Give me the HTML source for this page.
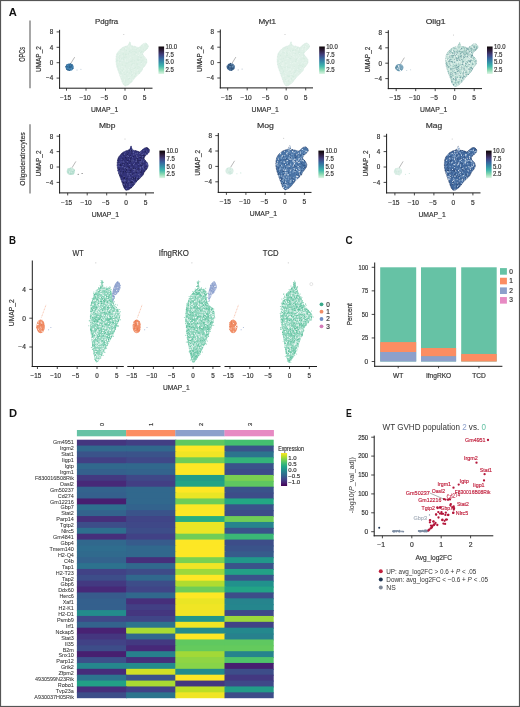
<!DOCTYPE html>
<html><head><meta charset="utf-8"><style>
html,body{margin:0;padding:0;background:#fff;}
svg{display:block;will-change:transform;}
</style></head><body>
<svg width="520" height="707" viewBox="0 0 520 707" font-family='"Liberation Sans", sans-serif'>
<rect x="0" y="0" width="520" height="707" fill="#fff"/>
<text x="8.8" y="16" font-size="10.8" text-anchor="start" fill="#111" font-weight="bold" textLength="8.1" lengthAdjust="spacingAndGlyphs">A</text>
<text x="9" y="243.6" font-size="10.8" text-anchor="start" fill="#111" font-weight="bold" textLength="7" lengthAdjust="spacingAndGlyphs">B</text>
<text x="345.4" y="243.6" font-size="10.8" text-anchor="start" fill="#111" font-weight="bold" textLength="7.1" lengthAdjust="spacingAndGlyphs">C</text>
<text x="9" y="416.6" font-size="10.8" text-anchor="start" fill="#111" font-weight="bold" textLength="8.1" lengthAdjust="spacingAndGlyphs">D</text>
<text x="346" y="416.6" font-size="10.8" text-anchor="start" fill="#111" font-weight="bold" textLength="5.8" lengthAdjust="spacingAndGlyphs">E</text>
<defs><linearGradient id="mako" x1="0" y1="0" x2="0" y2="1">
<stop offset="0" stop-color="#0b0405"/>
<stop offset="0.142857" stop-color="#2e1e3c"/>
<stop offset="0.285714" stop-color="#413d7b"/>
<stop offset="0.428571" stop-color="#37659e"/>
<stop offset="0.571429" stop-color="#348fa7"/>
<stop offset="0.714286" stop-color="#40b7ad"/>
<stop offset="0.857143" stop-color="#8ad9b1"/>
<stop offset="1" stop-color="#def5e5"/>
</linearGradient>
<linearGradient id="vir" x1="0" y1="1" x2="0" y2="0">
<stop offset="0" stop-color="#440154"/>
<stop offset="0.1" stop-color="#482475"/>
<stop offset="0.2" stop-color="#414487"/>
<stop offset="0.3" stop-color="#355f8d"/>
<stop offset="0.4" stop-color="#2a788e"/>
<stop offset="0.5" stop-color="#21918c"/>
<stop offset="0.6" stop-color="#22a884"/>
<stop offset="0.7" stop-color="#44bf70"/>
<stop offset="0.8" stop-color="#7ad151"/>
<stop offset="0.9" stop-color="#bddf26"/>
<stop offset="1" stop-color="#fde725"/>
</linearGradient></defs>
<line x1="30" y1="20.6" x2="30" y2="88.2" stroke="#8a8a8a" stroke-width="1.5"/>
<text x="24.7" y="54.3" font-size="9.2" text-anchor="middle" fill="#333" font-weight="normal" stroke="#333" stroke-width="0.18" transform="rotate(-90 24.7 54.3)" textLength="15" lengthAdjust="spacingAndGlyphs">OPCs</text>
<path d="M129.9,42.0C130.3,42.1 130.3,44.7 131.1,45.5C131.9,46.2 133.5,46.0 134.6,46.3C135.6,46.6 136.8,47.1 137.5,47.3C138.2,47.5 137.9,47.9 138.7,47.5C139.4,47.1 141.2,45.4 142.0,44.8C142.8,44.2 142.8,43.9 143.4,43.7C144.1,43.4 145.2,43.0 145.9,43.3C146.7,43.6 147.9,44.7 148.2,45.5C148.5,46.2 148.4,47.1 147.9,47.9C147.4,48.7 146.2,49.7 145.4,50.4C144.7,51.2 143.9,51.6 143.4,52.4C143.0,53.1 142.5,53.9 142.9,54.8C143.4,55.8 145.3,57.2 145.9,58.3C146.6,59.4 146.9,60.3 146.9,61.3C146.9,62.3 146.6,63.1 145.9,64.3C145.3,65.4 143.7,67.1 142.9,68.2C142.2,69.4 142.2,70.2 141.5,71.2C140.7,72.2 139.5,73.2 138.5,74.2C137.5,75.2 136.8,75.6 135.5,77.1C134.2,78.6 132.2,81.6 130.6,83.1C128.9,84.6 126.9,85.9 125.7,86.0C124.4,86.2 123.9,85.2 123.2,84.1C122.4,82.9 121.9,81.1 121.2,79.1C120.4,77.2 119.5,74.4 118.7,72.2C118.0,70.1 117.2,68.3 116.7,66.3C116.3,64.3 116.0,62.3 116.0,60.3C116.0,58.3 116.2,56.0 116.7,54.4C117.3,52.7 118.2,51.6 119.2,50.4C120.2,49.3 121.4,48.2 122.7,47.5C123.9,46.7 125.7,46.4 126.6,46.0C127.6,45.5 128.0,45.6 128.6,45.0C129.1,44.3 129.5,41.9 129.9,42.0Z" fill="#def0e6"/>
<path d="M129.9,42.0C130.3,42.1 130.3,44.7 131.1,45.5C131.9,46.2 133.5,46.0 134.6,46.3C135.6,46.6 136.8,47.1 137.5,47.3C138.2,47.5 137.9,47.9 138.7,47.5C139.4,47.1 141.2,45.4 142.0,44.8C142.8,44.2 142.8,43.9 143.4,43.7C144.1,43.4 145.2,43.0 145.9,43.3C146.7,43.6 147.9,44.7 148.2,45.5C148.5,46.2 148.4,47.1 147.9,47.9C147.4,48.7 146.2,49.7 145.4,50.4C144.7,51.2 143.9,51.6 143.4,52.4C143.0,53.1 142.5,53.9 142.9,54.8C143.4,55.8 145.3,57.2 145.9,58.3C146.6,59.4 146.9,60.3 146.9,61.3C146.9,62.3 146.6,63.1 145.9,64.3C145.3,65.4 143.7,67.1 142.9,68.2C142.2,69.4 142.2,70.2 141.5,71.2C140.7,72.2 139.5,73.2 138.5,74.2C137.5,75.2 136.8,75.6 135.5,77.1C134.2,78.6 132.2,81.6 130.6,83.1C128.9,84.6 126.9,85.9 125.7,86.0C124.4,86.2 123.9,85.2 123.2,84.1C122.4,82.9 121.9,81.1 121.2,79.1C120.4,77.2 119.5,74.4 118.7,72.2C118.0,70.1 117.2,68.3 116.7,66.3C116.3,64.3 116.0,62.3 116.0,60.3C116.0,58.3 116.2,56.0 116.7,54.4C117.3,52.7 118.2,51.6 119.2,50.4C120.2,49.3 121.4,48.2 122.7,47.5C123.9,46.7 125.7,46.4 126.6,46.0C127.6,45.5 128.0,45.6 128.6,45.0C129.1,44.3 129.5,41.9 129.9,42.0Z" fill="none" stroke="#d3e9de" stroke-width="0.8" stroke-dasharray="1 0.6"/>
<path d="M128.1,46.1L129.8,41.3L131.6,46.1Z" fill="#def0e6"/>
<path d="M120.7 62.0h0M129.9 77.2h0M118.5 62.1h0M137.2 70.5h0M126.8 55.6h0M127.9 60.0h0M121.1 70.6h0M121.8 68.5h0M140.9 66.9h0M128.5 69.5h0M125.6 61.1h0M121.3 75.2h0M119.6 50.5h0M121.1 77.2h0M127.0 62.0h0M119.0 52.0h0M125.5 59.7h0M123.0 70.4h0M143.2 66.4h0M118.3 62.1h0M130.1 79.7h0M137.0 47.5h0M143.7 45.8h0M145.2 60.3h0M120.5 75.4h0M139.7 58.7h0M123.3 82.3h0M132.3 66.1h0M116.9 65.1h0M134.6 52.2h0M118.8 57.1h0M118.6 55.9h0M126.1 48.7h0M130.3 75.3h0M129.7 58.8h0M124.5 79.7h0M131.2 51.4h0M133.2 58.0h0M123.9 64.0h0M133.1 49.8h0M131.3 72.4h0M132.4 79.9h0M133.2 75.0h0M124.9 75.9h0M131.8 70.8h0M133.0 56.9h0M121.7 66.8h0M137.9 61.8h0M142.4 68.4h0M141.6 63.5h0M128.9 46.9h0M119.7 67.1h0M129.1 45.2h0M130.5 57.2h0M144.8 57.3h0M120.7 62.7h0M128.9 71.0h0M132.6 73.8h0M129.7 67.5h0M133.7 67.0h0M134.3 74.0h0M134.4 74.6h0M134.5 71.9h0M125.4 68.9h0M130.7 80.6h0M125.0 72.3h0M121.9 60.3h0M134.8 69.2h0M145.7 58.6h0M139.0 65.3h0M142.0 62.1h0M133.0 72.3h0M127.6 73.6h0M130.5 47.0h0M127.9 50.3h0M122.7 72.2h0M144.6 63.7h0M137.3 63.2h0M116.6 58.6h0M136.5 54.4h0M121.9 72.2h0M128.5 77.5h0M131.7 70.3h0M131.7 70.4h0M128.7 46.2h0M122.6 60.1h0M118.3 58.9h0M123.7 56.5h0M133.4 64.7h0M137.3 74.6h0M124.3 74.9h0M135.2 48.3h0M119.6 54.5h0M122.2 56.4h0M121.9 51.1h0M138.4 55.4h0M144.8 49.3h0M143.2 44.4h0M130.1 62.9h0M131.1 48.1h0M122.4 55.5h0M133.1 49.3h0M145.1 43.6h0M130.0 54.2h0M139.7 53.9h0M130.8 48.3h0M120.6 58.8h0M124.1 66.9h0M139.8 61.0h0M139.7 52.4h0M124.2 70.2h0M118.9 69.2h0M137.9 69.8h0M142.2 55.6h0M127.2 83.2h0M127.9 51.7h0M124.6 68.7h0M137.9 49.5h0M123.8 71.6h0M127.2 61.5h0M142.1 53.3h0M137.9 74.0h0M125.6 48.4h0M139.8 48.8h0M124.5 81.7h0M125.3 60.1h0M124.5 80.1h0M131.0 68.4h0M122.6 66.1h0M123.1 51.4h0" stroke="#e8f5ee" stroke-width="1.1" stroke-linecap="round" fill="none"/>
<path d="M146.9 48.2h0M129.0 62.3h0M135.6 73.6h0M138.2 56.9h0M132.5 63.7h0M120.7 71.8h0M132.9 51.5h0M139.2 51.2h0M137.8 48.7h0M146.1 43.7h0M124.1 72.3h0M117.1 60.8h0M129.4 78.4h0M128.5 53.9h0M127.3 71.7h0M145.1 45.7h0M139.7 73.0h0M121.6 58.8h0M135.3 67.4h0M134.6 51.8h0M141.9 60.9h0M131.5 72.3h0M136.8 63.3h0M125.0 74.5h0M131.1 81.0h0M127.2 63.0h0M119.6 58.2h0M119.8 55.2h0M125.8 80.2h0M122.6 64.9h0M117.3 65.9h0M130.0 51.0h0M123.0 54.9h0M117.6 60.3h0M141.5 57.6h0M141.0 62.2h0M126.9 76.1h0M118.6 69.1h0M142.9 51.6h0M129.1 44.0h0M142.5 54.1h0M131.9 69.7h0M131.2 51.0h0M140.6 52.6h0M142.9 60.0h0M132.9 59.1h0M134.5 76.3h0M116.6 60.8h0M123.2 58.8h0M132.7 49.2h0M127.8 84.2h0M125.3 65.9h0M137.6 60.1h0M120.4 73.0h0M140.0 67.3h0M126.1 56.1h0M124.5 48.9h0M136.4 52.3h0M136.0 52.1h0M125.1 81.9h0M116.9 58.8h0M134.0 63.2h0M126.5 54.2h0M121.0 49.5h0M130.6 70.1h0M131.9 61.5h0M118.9 57.3h0M138.7 60.4h0M131.4 71.4h0M138.9 59.2h0M137.8 68.2h0M123.1 57.0h0M143.8 66.2h0M141.3 62.4h0M131.6 75.2h0M126.6 50.4h0M124.3 57.5h0M134.3 54.2h0M135.2 74.5h0M134.0 72.8h0M142.5 68.7h0M125.4 54.8h0M124.0 56.2h0M136.0 73.3h0M132.6 74.8h0M137.7 63.9h0M136.2 49.5h0M130.6 61.8h0M143.4 49.3h0M120.1 61.6h0M130.3 68.1h0M123.1 53.8h0M133.9 49.8h0M138.8 71.4h0M132.9 57.6h0M123.6 59.3h0M140.0 50.1h0M131.1 52.6h0M141.4 51.4h0M135.1 52.0h0M119.1 56.3h0M123.4 69.0h0M137.2 59.0h0M122.6 70.7h0M131.5 64.9h0M127.0 72.7h0M140.8 47.9h0M125.4 54.0h0M117.0 54.5h0M128.2 79.0h0M145.2 49.9h0M134.2 68.4h0M126.2 63.1h0M124.5 74.7h0M146.3 44.2h0M134.1 63.2h0M129.8 72.9h0M134.6 60.7h0M138.1 66.8h0M136.8 64.7h0M123.5 53.7h0M141.5 51.9h0M132.0 60.9h0M140.6 57.6h0M122.0 70.5h0M140.2 60.0h0M121.4 73.0h0M126.0 57.3h0M129.3 51.6h0M119.5 61.2h0" stroke="#d4ebdf" stroke-width="1.1" stroke-linecap="round" fill="none"/>
<path d="M73.7,67.1C73.7,66.7 73.6,66.2 73.4,65.7C73.2,65.3 72.9,64.9 72.5,64.5C72.1,64.2 71.7,63.9 71.2,63.7C70.7,63.6 70.1,63.5 69.6,63.5C69.1,63.5 68.5,63.6 68.1,63.7C67.6,63.9 67.1,64.2 66.7,64.5C66.4,64.9 66.0,65.3 65.8,65.7C65.6,66.2 65.5,66.7 65.5,67.1C65.5,67.6 65.6,68.1 65.8,68.5C66.0,69.0 66.4,69.4 66.7,69.7C67.1,70.0 67.6,70.3 68.1,70.5C68.5,70.7 69.1,70.8 69.6,70.8C70.1,70.8 70.7,70.7 71.2,70.5C71.7,70.3 72.1,70.0 72.5,69.7C72.9,69.4 73.2,69.0 73.4,68.5C73.6,68.1 73.7,67.6 73.7,67.1Z" fill="#3a78a8"/>
<path d="M71.3 64.5h0M71.4 66.7h0M68.0 68.6h0M71.6 69.8h0M69.6 69.8h0M70.0 68.2h0M70.7 63.8h0M67.1 65.8h0M70.1 66.1h0M71.7 68.2h0M67.8 65.3h0M71.9 68.2h0M72.0 69.7h0M72.0 66.7h0" stroke="#5a96bf" stroke-width="1" stroke-linecap="round" fill="none"/>
<path d="M73.0 68.5h0M69.3 64.9h0M70.8 66.9h0M71.1 67.0h0M69.5 70.4h0M72.0 64.5h0M67.9 69.9h0M71.4 66.0h0M66.7 65.0h0M65.7 66.7h0M68.1 70.1h0M69.7 66.8h0M70.6 63.8h0M67.1 66.5h0M69.3 67.3h0M66.6 69.3h0" stroke="#24547e" stroke-width="1" stroke-linecap="round" fill="none"/>
<line x1="70.79" y1="63.47" x2="74.69" y2="57.1175" stroke="#9a9a9a" stroke-width="0.7"/>
<circle cx="123.8" cy="34.6" r="0.5" fill="#bbb"/>
<circle cx="77.0" cy="70.0" r="0.55" fill="#24547e" fill-opacity="0.35"/>
<circle cx="80.9" cy="69.2" r="0.55" fill="#24547e" fill-opacity="0.35"/>
<line x1="59.6" y1="29.8" x2="59.6" y2="88.7" stroke="#1a1a1a" stroke-width="1"/>
<line x1="59.1" y1="88.2" x2="152.5" y2="88.2" stroke="#1a1a1a" stroke-width="1"/>
<line x1="66.5" y1="88.2" x2="66.5" y2="90.7" stroke="#1a1a1a" stroke-width="0.8"/>
<text x="65.5" y="100" font-size="6.6" text-anchor="middle" fill="#333" font-weight="normal" stroke="#333" stroke-width="0.18">−15</text>
<line x1="86" y1="88.2" x2="86" y2="90.7" stroke="#1a1a1a" stroke-width="0.8"/>
<text x="85" y="100" font-size="6.6" text-anchor="middle" fill="#333" font-weight="normal" stroke="#333" stroke-width="0.18">−10</text>
<line x1="105.5" y1="88.2" x2="105.5" y2="90.7" stroke="#1a1a1a" stroke-width="0.8"/>
<text x="104.5" y="100" font-size="6.6" text-anchor="middle" fill="#333" font-weight="normal" stroke="#333" stroke-width="0.18">−5</text>
<line x1="125" y1="88.2" x2="125" y2="90.7" stroke="#1a1a1a" stroke-width="0.8"/>
<text x="125" y="100" font-size="6.6" text-anchor="middle" fill="#333" font-weight="normal" stroke="#333" stroke-width="0.18">0</text>
<line x1="144.5" y1="88.2" x2="144.5" y2="90.7" stroke="#1a1a1a" stroke-width="0.8"/>
<text x="144.5" y="100" font-size="6.6" text-anchor="middle" fill="#333" font-weight="normal" stroke="#333" stroke-width="0.18">5</text>
<line x1="56.6" y1="31.9" x2="59.6" y2="31.9" stroke="#1a1a1a" stroke-width="0.8"/>
<text x="53.3" y="34.2" font-size="6.3" text-anchor="end" fill="#333" font-weight="normal" stroke="#333" stroke-width="0.18">8</text>
<line x1="56.6" y1="47.3" x2="59.6" y2="47.3" stroke="#1a1a1a" stroke-width="0.8"/>
<text x="53.3" y="49.6" font-size="6.3" text-anchor="end" fill="#333" font-weight="normal" stroke="#333" stroke-width="0.18">4</text>
<line x1="56.6" y1="62.7" x2="59.6" y2="62.7" stroke="#1a1a1a" stroke-width="0.8"/>
<text x="53.3" y="65" font-size="6.3" text-anchor="end" fill="#333" font-weight="normal" stroke="#333" stroke-width="0.18">0</text>
<line x1="56.6" y1="78.1" x2="59.6" y2="78.1" stroke="#1a1a1a" stroke-width="0.8"/>
<text x="53.3" y="80.4" font-size="6.3" text-anchor="end" fill="#333" font-weight="normal" stroke="#333" stroke-width="0.18">−4</text>
<text x="106.55" y="24.1" font-size="8" text-anchor="middle" fill="#333" font-weight="normal" stroke="#333" stroke-width="0.18" textLength="23.2" lengthAdjust="spacingAndGlyphs">Pdgfra</text>
<text x="104.55" y="112" font-size="7.8" text-anchor="middle" fill="#333" font-weight="normal" stroke="#333" stroke-width="0.18" textLength="27.3" lengthAdjust="spacingAndGlyphs">UMAP_1</text>
<text x="41.1" y="59.1" font-size="7.8" text-anchor="middle" fill="#333" font-weight="normal" stroke="#333" stroke-width="0.18" transform="rotate(-90 41.1 59.1)" textLength="26" lengthAdjust="spacingAndGlyphs">UMAP_2</text>
<rect x="158.5" y="46.5" width="5.6" height="27.5" fill="url(#mako)"/>
<text x="165.5" y="48.7" font-size="6.3" text-anchor="start" fill="#333" font-weight="normal" stroke="#333" stroke-width="0.18" textLength="11.6" lengthAdjust="spacingAndGlyphs">10.0</text>
<text x="165.5" y="56.55" font-size="6.3" text-anchor="start" fill="#333" font-weight="normal" stroke="#333" stroke-width="0.18" textLength="8.4" lengthAdjust="spacingAndGlyphs">7.5</text>
<text x="165.5" y="64.4" font-size="6.3" text-anchor="start" fill="#333" font-weight="normal" stroke="#333" stroke-width="0.18" textLength="8.4" lengthAdjust="spacingAndGlyphs">5.0</text>
<text x="165.5" y="72.25" font-size="6.3" text-anchor="start" fill="#333" font-weight="normal" stroke="#333" stroke-width="0.18" textLength="8.4" lengthAdjust="spacingAndGlyphs">2.5</text>
<path d="M291.1,41.9C291.5,42.0 291.5,44.6 292.3,45.4C293.1,46.1 294.7,45.9 295.8,46.2C296.8,46.5 298.0,47.0 298.7,47.2C299.4,47.4 299.1,47.8 299.8,47.4C300.6,47.0 302.4,45.3 303.2,44.7C304.0,44.1 304.0,43.8 304.6,43.6C305.3,43.3 306.3,42.9 307.1,43.2C307.9,43.5 309.1,44.6 309.4,45.4C309.7,46.1 309.6,47.0 309.1,47.8C308.6,48.6 307.4,49.6 306.6,50.3C305.9,51.1 305.1,51.5 304.6,52.3C304.2,53.0 303.7,53.8 304.1,54.7C304.6,55.7 306.5,57.1 307.1,58.2C307.8,59.3 308.1,60.2 308.1,61.2C308.1,62.2 307.8,63.0 307.1,64.2C306.5,65.3 304.9,67.0 304.1,68.1C303.4,69.3 303.4,70.1 302.7,71.1C301.9,72.1 300.7,73.1 299.7,74.1C298.7,75.1 298.0,75.5 296.7,77.0C295.4,78.5 293.4,81.5 291.8,83.0C290.1,84.5 288.1,85.8 286.9,85.9C285.6,86.1 285.1,85.1 284.4,84.0C283.6,82.8 283.1,81.0 282.4,79.0C281.6,77.1 280.7,74.3 279.9,72.1C279.2,70.0 278.4,68.2 277.9,66.2C277.5,64.2 277.2,62.2 277.2,60.2C277.2,58.2 277.4,55.9 277.9,54.3C278.5,52.6 279.4,51.5 280.4,50.3C281.4,49.2 282.6,48.1 283.9,47.4C285.1,46.6 286.8,46.3 287.8,45.9C288.8,45.4 289.2,45.5 289.8,44.9C290.3,44.2 290.7,41.8 291.1,41.9Z" fill="#dff0e7"/>
<path d="M291.1,41.9C291.5,42.0 291.5,44.6 292.3,45.4C293.1,46.1 294.7,45.9 295.8,46.2C296.8,46.5 298.0,47.0 298.7,47.2C299.4,47.4 299.1,47.8 299.8,47.4C300.6,47.0 302.4,45.3 303.2,44.7C304.0,44.1 304.0,43.8 304.6,43.6C305.3,43.3 306.3,42.9 307.1,43.2C307.9,43.5 309.1,44.6 309.4,45.4C309.7,46.1 309.6,47.0 309.1,47.8C308.6,48.6 307.4,49.6 306.6,50.3C305.9,51.1 305.1,51.5 304.6,52.3C304.2,53.0 303.7,53.8 304.1,54.7C304.6,55.7 306.5,57.1 307.1,58.2C307.8,59.3 308.1,60.2 308.1,61.2C308.1,62.2 307.8,63.0 307.1,64.2C306.5,65.3 304.9,67.0 304.1,68.1C303.4,69.3 303.4,70.1 302.7,71.1C301.9,72.1 300.7,73.1 299.7,74.1C298.7,75.1 298.0,75.5 296.7,77.0C295.4,78.5 293.4,81.5 291.8,83.0C290.1,84.5 288.1,85.8 286.9,85.9C285.6,86.1 285.1,85.1 284.4,84.0C283.6,82.8 283.1,81.0 282.4,79.0C281.6,77.1 280.7,74.3 279.9,72.1C279.2,70.0 278.4,68.2 277.9,66.2C277.5,64.2 277.2,62.2 277.2,60.2C277.2,58.2 277.4,55.9 277.9,54.3C278.5,52.6 279.4,51.5 280.4,50.3C281.4,49.2 282.6,48.1 283.9,47.4C285.1,46.6 286.8,46.3 287.8,45.9C288.8,45.4 289.2,45.5 289.8,44.9C290.3,44.2 290.7,41.8 291.1,41.9Z" fill="none" stroke="#d4e9df" stroke-width="0.8" stroke-dasharray="1 0.6"/>
<path d="M289.3,46.0L291.0,41.2L292.8,46.0Z" fill="#dff0e7"/>
<path d="M295.9 50.5h0M292.8 76.4h0M282.3 61.5h0M299.1 71.2h0M289.9 58.6h0M289.1 57.7h0M295.5 49.2h0M307.9 44.8h0M294.4 72.8h0M304.2 47.1h0M294.8 72.2h0M292.1 50.4h0M294.1 77.1h0M303.1 52.4h0M292.4 50.5h0M287.9 83.2h0M288.3 57.9h0M283.7 71.5h0M281.3 65.9h0M286.8 55.1h0M284.9 61.1h0M285.1 67.4h0M281.9 73.3h0M286.7 52.2h0M298.3 58.6h0M299.6 52.5h0M290.3 68.2h0M291.3 82.7h0M287.2 53.5h0M281.3 68.0h0M304.6 58.8h0M283.2 72.2h0M299.2 54.4h0M293.0 62.0h0M297.3 47.9h0M285.0 47.9h0M301.1 59.0h0M280.3 65.7h0M285.9 57.1h0M300.2 65.2h0M283.1 50.1h0M288.7 80.9h0M287.5 75.9h0M288.5 80.9h0M287.4 67.1h0M289.9 76.2h0M296.4 59.8h0M302.6 66.4h0M293.4 76.9h0M299.7 52.1h0M303.0 58.0h0M308.4 44.5h0M298.7 68.1h0M295.5 74.8h0M291.2 44.6h0M287.1 55.4h0M292.0 75.3h0M303.7 58.7h0M280.6 55.4h0M283.3 58.6h0M297.8 74.6h0M290.2 71.4h0M290.8 58.6h0M301.8 64.5h0M299.0 53.1h0M300.0 49.9h0M296.9 70.1h0M304.5 61.6h0M301.9 52.6h0M282.9 68.6h0M300.3 69.2h0M287.5 48.4h0M291.5 56.3h0M280.8 62.1h0M290.5 51.0h0M283.0 52.1h0M301.5 65.0h0M282.9 70.4h0M298.6 65.6h0M288.8 75.8h0M279.3 63.5h0M295.8 59.9h0M278.0 60.9h0M295.2 70.6h0M301.2 62.8h0M285.4 79.5h0M291.7 73.2h0M303.7 64.7h0M299.2 48.6h0M289.0 67.5h0M293.1 63.2h0M284.3 52.6h0M299.8 65.7h0M292.6 80.6h0M285.9 63.3h0M293.3 50.6h0M301.3 61.5h0M293.8 76.9h0M284.2 73.7h0M294.3 66.8h0M291.7 78.6h0M295.6 61.6h0M287.6 61.5h0M280.6 66.1h0M293.7 50.0h0M296.8 59.0h0M299.0 53.2h0M291.7 82.2h0M299.4 64.3h0M291.3 79.8h0M289.4 76.2h0M288.5 76.5h0M298.5 52.0h0M281.0 59.1h0M304.0 55.3h0M278.9 54.3h0M303.5 56.8h0M284.2 77.7h0M293.2 76.2h0M293.9 74.1h0M295.7 71.1h0M295.3 53.5h0" stroke="#d4ebdf" stroke-width="1.1" stroke-linecap="round" fill="none"/>
<path d="M292.2 71.1h0M308.5 45.0h0M283.3 76.5h0M297.7 59.7h0M279.2 62.5h0M290.6 80.3h0M294.4 57.1h0M295.4 48.6h0M291.1 54.1h0M305.2 49.9h0M302.7 48.1h0M287.2 58.4h0M285.2 50.9h0M285.0 54.2h0M304.8 62.1h0M290.1 44.3h0M293.8 51.4h0M293.7 69.5h0M301.0 61.2h0M285.8 73.2h0M302.1 62.4h0M303.1 69.9h0M299.5 53.6h0M302.9 56.8h0M288.7 70.3h0M298.2 49.5h0M291.6 43.6h0M305.5 46.5h0M287.9 82.9h0M295.8 63.1h0M291.6 67.0h0M286.4 65.3h0M306.1 62.6h0M283.3 76.1h0M291.8 55.2h0M298.5 58.2h0M285.8 84.6h0M298.6 55.0h0M290.7 79.7h0M306.6 44.3h0M294.2 67.5h0M295.0 74.1h0M283.2 62.9h0M290.8 76.8h0M285.8 83.1h0M290.4 70.0h0M290.8 76.7h0M280.6 61.1h0M285.2 61.5h0M297.0 72.1h0M302.4 49.5h0M282.7 63.7h0M287.1 61.3h0M290.7 61.2h0M299.6 57.2h0M289.3 51.7h0M282.8 65.5h0M293.8 54.4h0M305.7 48.2h0M298.8 64.7h0M289.1 78.2h0M284.3 72.8h0M286.4 67.4h0M292.9 46.7h0M286.3 80.2h0M299.8 57.3h0M298.5 73.7h0M305.6 50.9h0M292.8 74.0h0M282.0 70.6h0M283.1 50.7h0M300.5 68.5h0M281.3 50.9h0M292.7 47.3h0M296.5 77.1h0M297.6 69.5h0M306.0 47.6h0M293.2 70.2h0M302.2 56.4h0M295.8 73.8h0M290.9 74.5h0M294.8 77.8h0M288.6 53.0h0M285.3 75.7h0M289.0 51.5h0M285.2 82.6h0M292.1 74.1h0M307.5 44.8h0M307.2 60.0h0M290.4 63.4h0M305.1 64.3h0M296.3 47.3h0M287.0 64.8h0M294.7 62.8h0M289.2 69.1h0M284.4 51.7h0M291.3 82.4h0M281.6 65.4h0M293.1 78.4h0M304.2 63.0h0M283.8 68.8h0M290.7 52.2h0M290.4 68.9h0M297.5 61.6h0M296.8 56.9h0M302.9 68.1h0M293.3 62.9h0M298.4 48.9h0M293.3 56.3h0M280.3 57.8h0M291.1 72.1h0M303.7 46.5h0M303.1 60.2h0M301.0 49.8h0M285.1 54.6h0M302.2 52.0h0M285.6 52.8h0M277.6 58.8h0M297.4 74.9h0M302.6 48.2h0M294.5 51.8h0M287.7 79.7h0M287.1 71.8h0M286.7 68.9h0M292.1 80.9h0M288.4 58.2h0M283.1 65.0h0M298.9 59.1h0M291.4 50.8h0M299.4 53.2h0M281.1 52.4h0M290.2 80.3h0M281.0 72.6h0M301.4 63.9h0M292.6 63.5h0M291.1 46.8h0M279.6 60.9h0M280.0 53.8h0" stroke="#e9f6ef" stroke-width="1.1" stroke-linecap="round" fill="none"/>
<path d="M234.9,67.0C234.9,66.6 234.8,66.1 234.6,65.6C234.4,65.2 234.1,64.8 233.7,64.4C233.3,64.1 232.9,63.8 232.4,63.6C231.9,63.5 231.3,63.4 230.8,63.4C230.3,63.4 229.7,63.5 229.3,63.6C228.8,63.8 228.3,64.1 227.9,64.4C227.6,64.8 227.2,65.2 227.0,65.6C226.8,66.1 226.7,66.6 226.7,67.0C226.7,67.5 226.8,68.0 227.0,68.4C227.2,68.9 227.6,69.3 227.9,69.6C228.3,69.9 228.8,70.2 229.3,70.4C229.7,70.6 230.3,70.7 230.8,70.7C231.3,70.7 231.9,70.6 232.4,70.4C232.9,70.2 233.3,69.9 233.7,69.6C234.1,69.3 234.4,68.9 234.6,68.4C234.8,68.0 234.9,67.5 234.9,67.0Z" fill="#3f6690"/>
<path d="M227.3 65.8h0M232.9 68.2h0M232.3 65.5h0M228.9 64.8h0M230.9 70.0h0M230.7 63.4h0M227.2 66.7h0M230.3 63.5h0M228.4 67.1h0M230.2 70.3h0M231.6 68.1h0" stroke="#26456a" stroke-width="1" stroke-linecap="round" fill="none"/>
<path d="M233.1 65.8h0M230.4 69.7h0M231.3 70.3h0M233.0 68.6h0M231.1 68.9h0M228.3 66.4h0M230.9 65.2h0M229.5 64.8h0M230.3 65.5h0M232.8 69.0h0M228.2 67.7h0" stroke="#2d5078" stroke-width="1" stroke-linecap="round" fill="none"/>
<path d="M232.4 66.8h0M230.6 70.1h0M233.0 65.7h0M231.9 64.2h0M233.9 66.0h0M227.6 65.8h0M234.3 68.0h0M230.0 66.7h0" stroke="#8fb0cc" stroke-width="1" stroke-linecap="round" fill="none"/>
<line x1="231.99" y1="63.37" x2="235.89" y2="57.0175" stroke="#9a9a9a" stroke-width="0.7"/>
<circle cx="285.0" cy="34.5" r="0.5" fill="#bbb"/>
<circle cx="238.2" cy="69.9" r="0.55" fill="#26456a" fill-opacity="0.35"/>
<circle cx="242.1" cy="69.1" r="0.55" fill="#26456a" fill-opacity="0.35"/>
<line x1="220.3" y1="29.5" x2="220.3" y2="88.4" stroke="#1a1a1a" stroke-width="1"/>
<line x1="219.8" y1="87.9" x2="313" y2="87.9" stroke="#1a1a1a" stroke-width="1"/>
<line x1="227.7" y1="87.9" x2="227.7" y2="90.4" stroke="#1a1a1a" stroke-width="0.8"/>
<text x="226.7" y="99.7" font-size="6.6" text-anchor="middle" fill="#333" font-weight="normal" stroke="#333" stroke-width="0.18">−15</text>
<line x1="247.2" y1="87.9" x2="247.2" y2="90.4" stroke="#1a1a1a" stroke-width="0.8"/>
<text x="246.2" y="99.7" font-size="6.6" text-anchor="middle" fill="#333" font-weight="normal" stroke="#333" stroke-width="0.18">−10</text>
<line x1="266.7" y1="87.9" x2="266.7" y2="90.4" stroke="#1a1a1a" stroke-width="0.8"/>
<text x="265.7" y="99.7" font-size="6.6" text-anchor="middle" fill="#333" font-weight="normal" stroke="#333" stroke-width="0.18">−5</text>
<line x1="286.2" y1="87.9" x2="286.2" y2="90.4" stroke="#1a1a1a" stroke-width="0.8"/>
<text x="286.2" y="99.7" font-size="6.6" text-anchor="middle" fill="#333" font-weight="normal" stroke="#333" stroke-width="0.18">0</text>
<line x1="305.7" y1="87.9" x2="305.7" y2="90.4" stroke="#1a1a1a" stroke-width="0.8"/>
<text x="305.7" y="99.7" font-size="6.6" text-anchor="middle" fill="#333" font-weight="normal" stroke="#333" stroke-width="0.18">5</text>
<line x1="217.3" y1="31.8" x2="220.3" y2="31.8" stroke="#1a1a1a" stroke-width="0.8"/>
<text x="214" y="34.1" font-size="6.3" text-anchor="end" fill="#333" font-weight="normal" stroke="#333" stroke-width="0.18">8</text>
<line x1="217.3" y1="47.2" x2="220.3" y2="47.2" stroke="#1a1a1a" stroke-width="0.8"/>
<text x="214" y="49.5" font-size="6.3" text-anchor="end" fill="#333" font-weight="normal" stroke="#333" stroke-width="0.18">4</text>
<line x1="217.3" y1="62.6" x2="220.3" y2="62.6" stroke="#1a1a1a" stroke-width="0.8"/>
<text x="214" y="64.9" font-size="6.3" text-anchor="end" fill="#333" font-weight="normal" stroke="#333" stroke-width="0.18">0</text>
<line x1="217.3" y1="78" x2="220.3" y2="78" stroke="#1a1a1a" stroke-width="0.8"/>
<text x="214" y="80.3" font-size="6.3" text-anchor="end" fill="#333" font-weight="normal" stroke="#333" stroke-width="0.18">−4</text>
<text x="267.15" y="24.1" font-size="8" text-anchor="middle" fill="#333" font-weight="normal" stroke="#333" stroke-width="0.18" textLength="17.5" lengthAdjust="spacingAndGlyphs">Myt1</text>
<text x="265.15" y="111.7" font-size="7.8" text-anchor="middle" fill="#333" font-weight="normal" stroke="#333" stroke-width="0.18" textLength="27.3" lengthAdjust="spacingAndGlyphs">UMAP_1</text>
<text x="201.8" y="59" font-size="7.8" text-anchor="middle" fill="#333" font-weight="normal" stroke="#333" stroke-width="0.18" transform="rotate(-90 201.8 59)" textLength="26" lengthAdjust="spacingAndGlyphs">UMAP_2</text>
<rect x="319.2" y="46.5" width="5.6" height="27.5" fill="url(#mako)"/>
<text x="326.2" y="48.7" font-size="6.3" text-anchor="start" fill="#333" font-weight="normal" stroke="#333" stroke-width="0.18" textLength="11.6" lengthAdjust="spacingAndGlyphs">10.0</text>
<text x="326.2" y="56.55" font-size="6.3" text-anchor="start" fill="#333" font-weight="normal" stroke="#333" stroke-width="0.18" textLength="8.4" lengthAdjust="spacingAndGlyphs">7.5</text>
<text x="326.2" y="64.4" font-size="6.3" text-anchor="start" fill="#333" font-weight="normal" stroke="#333" stroke-width="0.18" textLength="8.4" lengthAdjust="spacingAndGlyphs">5.0</text>
<text x="326.2" y="72.25" font-size="6.3" text-anchor="start" fill="#333" font-weight="normal" stroke="#333" stroke-width="0.18" textLength="8.4" lengthAdjust="spacingAndGlyphs">2.5</text>
<path d="M459.6,42.5C460.0,42.6 460.0,45.2 460.8,46.0C461.6,46.7 463.2,46.5 464.3,46.8C465.3,47.1 466.5,47.6 467.2,47.8C467.9,48.0 467.6,48.4 468.3,48.0C469.1,47.6 470.9,45.9 471.7,45.3C472.5,44.7 472.5,44.4 473.1,44.2C473.8,43.9 474.8,43.5 475.6,43.8C476.4,44.1 477.6,45.2 477.9,46.0C478.2,46.7 478.1,47.6 477.6,48.4C477.1,49.2 475.9,50.2 475.1,50.9C474.4,51.7 473.6,52.1 473.1,52.9C472.7,53.6 472.2,54.4 472.6,55.3C473.1,56.3 475.0,57.7 475.6,58.8C476.3,59.9 476.6,60.8 476.6,61.8C476.6,62.8 476.3,63.6 475.6,64.8C475.0,65.9 473.4,67.6 472.6,68.7C471.9,69.9 471.9,70.7 471.2,71.7C470.4,72.7 469.2,73.7 468.2,74.7C467.2,75.7 466.5,76.1 465.2,77.6C463.9,79.1 461.9,82.1 460.3,83.6C458.6,85.1 456.6,86.4 455.4,86.5C454.1,86.7 453.6,85.7 452.9,84.6C452.1,83.4 451.6,81.6 450.9,79.6C450.1,77.7 449.2,74.9 448.4,72.7C447.7,70.6 446.9,68.8 446.4,66.8C446.0,64.8 445.7,62.8 445.7,60.8C445.7,58.8 445.9,56.5 446.4,54.9C447.0,53.2 447.9,52.1 448.9,50.9C449.9,49.8 451.1,48.7 452.4,48.0C453.6,47.2 455.3,46.9 456.3,46.5C457.3,46.0 457.7,46.1 458.3,45.5C458.8,44.8 459.2,42.4 459.6,42.5Z" fill="#cde8df"/>
<path d="M459.6,42.5C460.0,42.6 460.0,45.2 460.8,46.0C461.6,46.7 463.2,46.5 464.3,46.8C465.3,47.1 466.5,47.6 467.2,47.8C467.9,48.0 467.6,48.4 468.3,48.0C469.1,47.6 470.9,45.9 471.7,45.3C472.5,44.7 472.5,44.4 473.1,44.2C473.8,43.9 474.8,43.5 475.6,43.8C476.4,44.1 477.6,45.2 477.9,46.0C478.2,46.7 478.1,47.6 477.6,48.4C477.1,49.2 475.9,50.2 475.1,50.9C474.4,51.7 473.6,52.1 473.1,52.9C472.7,53.6 472.2,54.4 472.6,55.3C473.1,56.3 475.0,57.7 475.6,58.8C476.3,59.9 476.6,60.8 476.6,61.8C476.6,62.8 476.3,63.6 475.6,64.8C475.0,65.9 473.4,67.6 472.6,68.7C471.9,69.9 471.9,70.7 471.2,71.7C470.4,72.7 469.2,73.7 468.2,74.7C467.2,75.7 466.5,76.1 465.2,77.6C463.9,79.1 461.9,82.1 460.3,83.6C458.6,85.1 456.6,86.4 455.4,86.5C454.1,86.7 453.6,85.7 452.9,84.6C452.1,83.4 451.6,81.6 450.9,79.6C450.1,77.7 449.2,74.9 448.4,72.7C447.7,70.6 446.9,68.8 446.4,66.8C446.0,64.8 445.7,62.8 445.7,60.8C445.7,58.8 445.9,56.5 446.4,54.9C447.0,53.2 447.9,52.1 448.9,50.9C449.9,49.8 451.1,48.7 452.4,48.0C453.6,47.2 455.3,46.9 456.3,46.5C457.3,46.0 457.7,46.1 458.3,45.5C458.8,44.8 459.2,42.4 459.6,42.5Z" fill="none" stroke="#8fb8b4" stroke-width="0.8" stroke-dasharray="1 0.6"/>
<path d="M457.8,46.6L459.5,41.8L461.3,46.6Z" fill="#cde8df"/>
<path d="M450.4 69.6h0M463.5 71.6h0M465.6 65.4h0M469.4 59.1h0M466.0 72.0h0M453.3 55.5h0M462.1 51.6h0M459.0 81.6h0M450.7 65.2h0M450.3 63.6h0M450.7 72.9h0M460.3 53.4h0M448.6 67.1h0M469.9 71.1h0M453.4 63.8h0M466.1 74.4h0M456.4 79.9h0M458.0 70.9h0M458.7 57.0h0M460.4 49.1h0M449.1 66.5h0M456.3 65.2h0M452.6 77.5h0M471.4 67.3h0M448.2 71.5h0M451.2 61.5h0M465.0 70.2h0M458.3 66.7h0M463.7 75.9h0M476.1 63.3h0M455.6 55.8h0M475.6 49.4h0M448.7 61.6h0M454.7 59.3h0M459.7 51.0h0M467.5 54.5h0M459.6 59.1h0M467.9 66.2h0M462.1 67.3h0M460.4 77.2h0M465.5 73.2h0M454.8 61.7h0M467.3 62.4h0M448.1 67.2h0M463.0 61.4h0M452.3 52.9h0M471.6 55.0h0M452.0 82.1h0M474.7 47.6h0M461.4 80.3h0M456.9 53.9h0M468.1 53.5h0M447.9 58.6h0M461.2 57.0h0M454.9 80.6h0M469.6 59.6h0M452.5 68.8h0M457.0 52.7h0M461.8 81.8h0M473.9 49.6h0M470.5 67.7h0M455.7 72.6h0M457.3 74.1h0M471.6 70.4h0M453.2 66.3h0M449.8 52.8h0M451.8 76.7h0M466.7 50.6h0M452.8 55.5h0M450.8 68.5h0M469.7 46.9h0M451.1 59.4h0M470.9 69.3h0M452.8 57.5h0M470.0 60.6h0M449.8 63.8h0M446.5 62.8h0M463.6 62.2h0M466.7 48.4h0M455.2 77.9h0M460.3 73.8h0M451.2 74.1h0M456.4 84.4h0M465.2 54.1h0M466.7 53.7h0M462.2 52.2h0M467.0 49.4h0M454.9 72.8h0M466.9 61.8h0M450.7 74.9h0M469.7 59.8h0M469.2 61.0h0M464.9 69.9h0M458.9 69.0h0M460.7 54.0h0M455.3 53.2h0M452.8 56.4h0M471.0 57.0h0M449.4 56.6h0M463.9 55.9h0M455.4 78.9h0M473.7 46.9h0M464.1 53.0h0M473.2 58.1h0M466.8 53.0h0M471.4 68.1h0M464.9 50.3h0M471.5 48.3h0M470.2 48.8h0M453.7 84.4h0" stroke="#5f9296" stroke-width="0.9" stroke-linecap="round" fill="none"/>
<path d="M458.0 69.7h0M464.4 74.4h0M466.3 63.2h0M469.6 68.9h0M462.0 67.0h0M467.0 57.8h0M468.8 53.3h0M469.6 57.8h0M456.6 46.4h0M456.5 48.2h0M463.9 55.8h0M471.6 52.7h0M470.3 52.7h0M473.8 51.8h0M469.4 60.1h0M446.6 59.5h0M457.9 48.1h0M454.9 52.7h0M469.6 52.3h0M464.1 63.6h0M459.2 73.0h0M466.1 68.2h0M470.1 54.0h0M469.6 63.6h0M451.2 49.9h0M466.8 56.0h0M454.1 78.2h0M471.4 59.4h0M454.6 81.0h0M456.0 67.3h0M467.6 51.2h0M451.7 80.7h0M468.9 69.6h0M450.8 63.5h0M471.7 55.1h0M460.8 48.6h0M465.4 60.1h0M455.4 74.3h0M455.4 62.0h0M468.1 56.4h0M452.5 51.5h0M471.4 69.7h0M474.0 48.9h0M451.2 53.9h0M450.2 63.1h0M453.8 78.2h0M459.8 71.4h0M452.7 74.0h0M467.8 67.6h0M449.3 54.5h0M460.7 66.8h0M476.2 62.1h0M454.2 54.2h0M472.2 47.8h0M449.6 53.6h0M464.3 71.3h0M456.9 51.6h0M457.7 74.8h0M464.3 65.8h0M454.5 62.1h0M452.6 82.9h0M462.9 71.5h0M456.6 49.4h0M466.6 65.2h0M456.7 46.9h0M448.4 55.2h0M464.6 67.3h0M454.5 80.2h0M450.8 61.3h0M456.8 50.2h0M456.7 56.3h0M459.3 57.8h0M449.8 55.2h0M457.1 64.0h0M464.7 75.6h0M465.8 73.5h0M450.1 60.4h0M449.4 55.9h0M464.7 63.1h0M455.6 71.0h0M455.9 84.6h0M468.3 57.9h0M466.6 62.9h0M459.5 75.0h0M455.7 79.8h0M470.9 58.4h0M464.7 66.9h0M452.7 69.8h0M455.1 60.5h0M461.8 63.4h0M460.1 83.2h0M454.6 56.4h0M455.9 53.9h0" stroke="#ffffff" stroke-width="0.9" stroke-linecap="round" fill="none"/>
<path d="M462.6 64.1h0M457.8 51.1h0M469.8 61.5h0M462.7 60.0h0M451.1 77.3h0M450.1 53.7h0M476.3 48.7h0M474.7 49.1h0M458.5 70.6h0M450.0 57.4h0M454.5 54.0h0M472.3 68.7h0M468.2 74.5h0M459.3 75.1h0M452.3 53.1h0M464.4 76.8h0M452.1 73.4h0M469.6 52.7h0M455.0 79.5h0M461.1 68.0h0M459.1 51.7h0M456.3 65.7h0M449.2 60.2h0M450.0 50.8h0M468.3 56.2h0M459.9 60.5h0M457.2 67.2h0M462.1 64.5h0M473.8 51.0h0M472.1 55.9h0M466.7 52.3h0M468.1 49.5h0M461.6 59.5h0M446.4 64.6h0M467.4 56.3h0M470.2 61.9h0M449.4 61.1h0M472.7 64.4h0M447.0 54.5h0M459.3 71.9h0M471.3 55.5h0M456.2 65.2h0M469.8 51.7h0M464.1 76.6h0M453.4 78.6h0M456.5 60.3h0M454.4 52.0h0M459.0 47.1h0M467.9 52.2h0M457.3 71.4h0M464.2 57.5h0M456.6 69.1h0M456.6 58.0h0M457.1 58.4h0M463.1 77.8h0M454.1 48.7h0M461.7 48.8h0M472.9 45.5h0M471.5 57.0h0M460.5 56.4h0M455.3 74.3h0M471.0 60.4h0M458.6 82.9h0M458.4 59.4h0M451.1 61.7h0M468.9 69.3h0M469.3 69.1h0M451.9 81.4h0M463.0 73.9h0M472.5 55.3h0M456.6 79.1h0M455.8 67.7h0M461.6 57.7h0M475.8 60.7h0M461.4 55.8h0M462.9 62.3h0M461.7 48.3h0M471.7 52.4h0M463.3 72.8h0M457.6 60.3h0M452.2 61.9h0M467.9 48.6h0M453.4 84.9h0M458.1 64.0h0M470.2 61.7h0M447.3 65.2h0M463.7 56.9h0M463.2 53.9h0M451.9 69.7h0M466.6 66.7h0M469.1 64.5h0M455.7 58.0h0M450.1 59.5h0M456.5 54.3h0M473.9 46.1h0M450.8 73.7h0M462.3 77.8h0M449.7 56.0h0M454.8 62.3h0M465.5 63.6h0M455.6 80.7h0M458.7 66.8h0M460.7 77.6h0" stroke="#4d7f8c" stroke-width="0.9" stroke-linecap="round" fill="none"/>
<path d="M463.7 61.9h0M452.5 62.2h0M454.3 62.1h0M464.1 51.6h0M452.7 71.1h0M468.5 60.2h0M451.3 52.1h0M464.9 54.5h0M473.2 64.2h0M462.7 78.6h0M471.7 53.2h0M470.0 51.6h0M453.5 70.8h0M455.9 48.6h0M458.6 57.6h0M464.0 69.0h0M451.8 68.2h0M453.4 79.3h0M457.8 58.5h0M471.9 51.1h0M463.8 68.1h0M453.4 68.8h0M464.1 69.7h0M458.3 58.7h0M454.2 72.6h0M446.9 63.6h0M455.2 66.2h0M449.3 54.6h0M450.2 51.5h0M457.3 77.5h0M474.6 47.7h0M457.3 52.3h0M461.0 76.0h0M455.4 82.3h0M463.7 64.6h0M471.6 50.0h0M467.7 52.5h0M456.3 59.3h0M461.8 52.6h0M458.4 80.1h0M464.1 74.9h0M456.1 73.8h0M457.3 69.6h0M456.8 67.5h0M464.6 48.9h0M456.3 78.1h0M457.0 50.0h0M466.1 64.2h0M471.0 48.1h0M457.9 54.2h0M452.1 82.4h0M458.2 82.1h0M450.4 76.4h0M476.3 46.7h0M454.8 71.9h0M454.1 55.8h0M461.9 69.3h0M468.5 74.3h0M463.7 47.1h0M452.9 75.3h0M475.4 61.9h0M469.5 55.0h0M466.8 72.8h0M456.8 58.8h0M456.1 51.8h0M464.4 68.0h0M454.2 51.7h0M459.1 57.0h0M455.7 72.7h0M466.7 63.3h0M466.8 56.9h0M471.3 60.0h0M475.1 50.5h0M476.4 47.6h0M451.8 80.8h0M457.4 67.2h0M472.2 69.3h0M451.2 55.7h0M460.1 64.9h0M447.1 57.3h0M448.0 59.7h0M471.2 50.1h0M468.9 61.3h0M459.0 68.5h0M461.8 51.3h0M472.6 49.0h0M451.6 49.1h0M459.7 44.0h0M474.8 46.2h0" stroke="#6fa3a3" stroke-width="0.9" stroke-linecap="round" fill="none"/>
<path d="M470.4 54.3h0M465.7 66.0h0M474.1 59.4h0M450.5 60.9h0M453.5 50.8h0M468.7 54.0h0M453.8 50.5h0M463.0 61.7h0M457.1 49.5h0M457.3 82.2h0M458.0 55.0h0M465.6 77.1h0M453.3 53.2h0M469.1 67.9h0M456.7 54.1h0M452.5 62.0h0M465.7 71.1h0M468.8 50.2h0M451.7 79.0h0M465.4 56.6h0M449.8 61.1h0M463.4 64.9h0M472.3 63.9h0M451.3 73.6h0M463.4 58.5h0M454.5 65.6h0M451.0 57.5h0M474.2 47.9h0M477.5 47.0h0M448.7 54.1h0M463.4 52.7h0M459.8 77.5h0M448.6 73.3h0M466.7 75.3h0M469.7 72.0h0M458.4 72.9h0M459.3 65.8h0M460.4 55.8h0M472.9 62.9h0M452.0 79.4h0M471.3 50.1h0M455.1 79.7h0M451.5 50.2h0M473.4 58.0h0M451.2 55.8h0M463.7 51.1h0M457.1 76.4h0M474.4 46.1h0M458.9 55.0h0M466.4 64.0h0M460.7 76.2h0M460.3 77.8h0M460.3 51.6h0M451.4 55.9h0M464.5 55.1h0M474.6 61.7h0M468.0 57.3h0M457.7 69.2h0M458.7 44.9h0M456.1 80.2h0M458.5 71.0h0M465.3 52.6h0M466.8 52.8h0M472.8 60.4h0M458.0 56.2h0M450.0 67.0h0M467.7 54.1h0M454.4 70.9h0M459.5 70.0h0M474.5 57.6h0M471.0 68.4h0M455.5 76.7h0M463.0 48.3h0M471.8 54.9h0M465.2 54.7h0M449.8 61.6h0M460.7 51.8h0M454.5 68.2h0M464.6 66.2h0M461.6 66.5h0M453.0 75.8h0M469.5 60.8h0M455.8 83.5h0M448.7 71.5h0M447.2 65.8h0M447.7 65.7h0M465.2 60.0h0M466.4 70.9h0M465.7 72.6h0M460.4 73.7h0M461.8 53.1h0M464.8 47.9h0M465.1 56.0h0M455.1 84.8h0M465.5 51.4h0M463.8 76.6h0M449.6 73.4h0M451.5 72.7h0M467.5 74.3h0M452.2 74.8h0M456.5 51.7h0M454.7 82.8h0M457.6 73.3h0M472.4 63.7h0M464.2 78.9h0M460.1 57.1h0M450.6 59.0h0M472.1 53.2h0" stroke="#86b8b2" stroke-width="0.9" stroke-linecap="round" fill="none"/>
<path d="M460.1 70.0h0M454.5 47.6h0M456.7 48.4h0M447.5 63.3h0M452.0 74.7h0M453.3 61.0h0M460.8 58.6h0M457.7 47.9h0M475.7 60.8h0M451.8 63.7h0M458.5 70.9h0M466.5 64.0h0M469.6 50.0h0M459.3 47.7h0M459.2 81.2h0M472.1 45.3h0M459.7 82.9h0M453.0 66.8h0M449.0 67.3h0M467.5 67.4h0M459.5 79.6h0M452.9 59.1h0M459.7 57.1h0M469.6 72.0h0M460.1 76.4h0M463.8 52.3h0M449.3 62.8h0M455.2 68.4h0M452.1 52.9h0M465.3 64.2h0M450.3 72.6h0M456.3 63.3h0M467.6 61.1h0M462.7 47.6h0M464.8 78.0h0M462.0 66.2h0M473.1 49.8h0M448.4 58.4h0M463.7 72.0h0M459.0 72.3h0M460.9 69.5h0M476.2 45.8h0M458.1 55.5h0M460.8 71.2h0M449.0 72.2h0M473.1 60.2h0M472.0 65.2h0M470.8 68.9h0M459.6 77.8h0M457.7 51.2h0M459.7 79.5h0M461.1 72.3h0M455.5 81.2h0M463.3 58.8h0M471.0 50.7h0M455.7 57.8h0M446.5 64.1h0M447.8 58.0h0M461.2 69.6h0M453.2 57.7h0M467.0 75.9h0M462.5 60.6h0M464.5 66.4h0M467.7 54.4h0M460.6 72.0h0M454.3 79.6h0M449.6 64.7h0M466.3 76.0h0M460.0 46.3h0M457.0 65.9h0M456.3 60.3h0M462.9 66.8h0M453.1 62.1h0M456.5 82.5h0M458.1 48.5h0M455.6 81.3h0M461.0 72.0h0M454.8 67.1h0M458.1 82.2h0M467.8 52.6h0M466.0 66.3h0M465.4 77.1h0M470.1 70.4h0M448.1 60.2h0M472.5 53.1h0M450.1 63.2h0M466.3 51.5h0M458.8 65.2h0M448.9 71.1h0M458.7 54.0h0M460.9 64.1h0M452.7 68.6h0M465.8 62.6h0M458.8 54.7h0M450.8 69.9h0M457.1 58.4h0M454.2 60.2h0M456.3 64.9h0M466.7 68.0h0M459.0 65.2h0M461.5 58.5h0" stroke="#a9d3c9" stroke-width="0.9" stroke-linecap="round" fill="none"/>
<path d="M450.9 53.7h0M458.6 72.4h0M461.8 58.9h0M454.4 71.7h0M468.1 59.6h0M453.1 77.4h0M468.3 70.9h0M449.7 56.0h0M475.4 59.3h0M456.9 78.8h0M448.6 59.6h0M450.2 54.5h0M463.8 64.6h0M462.8 69.9h0M458.3 79.0h0M474.1 45.0h0M460.1 68.4h0M450.0 66.2h0M455.8 59.2h0M465.1 69.6h0M448.9 59.9h0M473.2 45.9h0M447.8 57.9h0M463.8 62.6h0M449.4 54.2h0M473.5 62.7h0M449.9 73.5h0M458.7 59.3h0M454.1 73.8h0M461.9 57.6h0M469.3 59.3h0M459.2 78.7h0M472.5 59.6h0M449.7 69.8h0M453.8 61.1h0M472.7 66.8h0M450.2 57.9h0M457.4 56.2h0M455.0 75.0h0M468.4 67.5h0M458.1 78.4h0M468.9 62.1h0M471.5 53.7h0M477.2 45.3h0M446.4 55.2h0M469.5 52.8h0M456.7 53.2h0M473.1 65.3h0M457.6 73.1h0M464.3 74.5h0M461.4 74.8h0M453.5 70.2h0M457.4 49.0h0M458.4 54.3h0M447.7 60.7h0M467.5 75.4h0M462.6 53.8h0M452.4 77.3h0M457.5 63.0h0M451.0 64.6h0M474.7 48.9h0M469.8 55.2h0M464.8 64.6h0M451.2 67.3h0M455.9 54.0h0M474.0 44.3h0M461.3 78.7h0M460.4 74.8h0M464.3 78.3h0M455.0 58.0h0M459.4 61.7h0M451.7 64.2h0M455.8 84.7h0M457.2 79.6h0M459.9 68.7h0M467.1 70.1h0M458.5 80.5h0M457.5 54.4h0M453.7 63.5h0M451.2 63.3h0M459.4 74.5h0M449.3 71.8h0M470.4 52.3h0M469.7 59.5h0M466.3 60.2h0M464.8 77.2h0M468.4 56.5h0M457.0 62.5h0M454.1 61.1h0M462.2 66.3h0M452.4 50.3h0M467.1 52.3h0M451.3 73.6h0M461.8 50.8h0M465.7 70.9h0M446.7 57.9h0" stroke="#f0faf6" stroke-width="0.9" stroke-linecap="round" fill="none"/>
<path d="M403.4,67.6C403.4,67.2 403.3,66.7 403.1,66.2C402.9,65.8 402.6,65.4 402.2,65.0C401.8,64.7 401.4,64.4 400.9,64.2C400.4,64.1 399.8,64.0 399.3,64.0C398.8,64.0 398.2,64.1 397.8,64.2C397.3,64.4 396.8,64.7 396.4,65.0C396.1,65.4 395.7,65.8 395.5,66.2C395.3,66.7 395.2,67.2 395.2,67.6C395.2,68.1 395.3,68.6 395.5,69.0C395.7,69.5 396.1,69.9 396.4,70.2C396.8,70.5 397.3,70.8 397.8,71.0C398.2,71.2 398.8,71.3 399.3,71.3C399.8,71.3 400.4,71.2 400.9,71.0C401.4,70.8 401.8,70.5 402.2,70.2C402.6,69.9 402.9,69.5 403.1,69.0C403.3,68.6 403.4,68.1 403.4,67.6Z" fill="#78a3ba"/>
<path d="M401.5 68.7h0M402.4 65.4h0M403.2 67.1h0M399.5 70.3h0M399.5 69.5h0M399.1 70.3h0M398.1 66.2h0M400.2 69.8h0M399.5 68.2h0M398.6 65.7h0M398.1 68.7h0M401.3 65.0h0" stroke="#a8c8d6" stroke-width="1" stroke-linecap="round" fill="none"/>
<path d="M395.5 67.8h0M401.1 69.1h0M396.7 68.6h0M397.0 69.8h0M397.2 66.5h0M396.8 66.3h0M396.7 68.0h0M398.8 70.4h0M396.1 68.1h0M400.8 69.8h0" stroke="#4f8098" stroke-width="1" stroke-linecap="round" fill="none"/>
<path d="M397.2 68.6h0M399.1 67.1h0M398.8 65.7h0M396.6 70.3h0M399.3 69.2h0M400.6 70.5h0M400.4 70.4h0M398.4 66.7h0" stroke="#ffffff" stroke-width="1" stroke-linecap="round" fill="none"/>
<line x1="400.49" y1="63.97" x2="404.39" y2="57.6175" stroke="#9a9a9a" stroke-width="0.7"/>
<circle cx="453.5" cy="35.1" r="0.5" fill="#bbb"/>
<circle cx="406.7" cy="70.5" r="0.55" fill="#4f8098" fill-opacity="0.35"/>
<circle cx="410.6" cy="69.7" r="0.55" fill="#4f8098" fill-opacity="0.35"/>
<line x1="388.3" y1="30.2" x2="388.3" y2="89.1" stroke="#1a1a1a" stroke-width="1"/>
<line x1="387.8" y1="88.6" x2="482" y2="88.6" stroke="#1a1a1a" stroke-width="1"/>
<line x1="396.2" y1="88.6" x2="396.2" y2="91.1" stroke="#1a1a1a" stroke-width="0.8"/>
<text x="395.2" y="100.4" font-size="6.6" text-anchor="middle" fill="#333" font-weight="normal" stroke="#333" stroke-width="0.18">−15</text>
<line x1="415.7" y1="88.6" x2="415.7" y2="91.1" stroke="#1a1a1a" stroke-width="0.8"/>
<text x="414.7" y="100.4" font-size="6.6" text-anchor="middle" fill="#333" font-weight="normal" stroke="#333" stroke-width="0.18">−10</text>
<line x1="435.2" y1="88.6" x2="435.2" y2="91.1" stroke="#1a1a1a" stroke-width="0.8"/>
<text x="434.2" y="100.4" font-size="6.6" text-anchor="middle" fill="#333" font-weight="normal" stroke="#333" stroke-width="0.18">−5</text>
<line x1="454.7" y1="88.6" x2="454.7" y2="91.1" stroke="#1a1a1a" stroke-width="0.8"/>
<text x="454.7" y="100.4" font-size="6.6" text-anchor="middle" fill="#333" font-weight="normal" stroke="#333" stroke-width="0.18">0</text>
<line x1="474.2" y1="88.6" x2="474.2" y2="91.1" stroke="#1a1a1a" stroke-width="0.8"/>
<text x="474.2" y="100.4" font-size="6.6" text-anchor="middle" fill="#333" font-weight="normal" stroke="#333" stroke-width="0.18">5</text>
<line x1="385.3" y1="32.4" x2="388.3" y2="32.4" stroke="#1a1a1a" stroke-width="0.8"/>
<text x="382" y="34.7" font-size="6.3" text-anchor="end" fill="#333" font-weight="normal" stroke="#333" stroke-width="0.18">8</text>
<line x1="385.3" y1="47.8" x2="388.3" y2="47.8" stroke="#1a1a1a" stroke-width="0.8"/>
<text x="382" y="50.1" font-size="6.3" text-anchor="end" fill="#333" font-weight="normal" stroke="#333" stroke-width="0.18">4</text>
<line x1="385.3" y1="63.2" x2="388.3" y2="63.2" stroke="#1a1a1a" stroke-width="0.8"/>
<text x="382" y="65.5" font-size="6.3" text-anchor="end" fill="#333" font-weight="normal" stroke="#333" stroke-width="0.18">0</text>
<line x1="385.3" y1="78.6" x2="388.3" y2="78.6" stroke="#1a1a1a" stroke-width="0.8"/>
<text x="382" y="80.9" font-size="6.3" text-anchor="end" fill="#333" font-weight="normal" stroke="#333" stroke-width="0.18">−4</text>
<text x="435.65" y="24.1" font-size="8" text-anchor="middle" fill="#333" font-weight="normal" stroke="#333" stroke-width="0.18" textLength="20" lengthAdjust="spacingAndGlyphs">Olig1</text>
<text x="433.65" y="112.4" font-size="7.8" text-anchor="middle" fill="#333" font-weight="normal" stroke="#333" stroke-width="0.18" textLength="27.3" lengthAdjust="spacingAndGlyphs">UMAP_1</text>
<text x="369.8" y="59.6" font-size="7.8" text-anchor="middle" fill="#333" font-weight="normal" stroke="#333" stroke-width="0.18" transform="rotate(-90 369.8 59.6)" textLength="26" lengthAdjust="spacingAndGlyphs">UMAP_2</text>
<rect x="487" y="46.5" width="5.6" height="27.5" fill="url(#mako)"/>
<text x="494" y="48.7" font-size="6.3" text-anchor="start" fill="#333" font-weight="normal" stroke="#333" stroke-width="0.18" textLength="11.6" lengthAdjust="spacingAndGlyphs">10.0</text>
<text x="494" y="56.55" font-size="6.3" text-anchor="start" fill="#333" font-weight="normal" stroke="#333" stroke-width="0.18" textLength="8.4" lengthAdjust="spacingAndGlyphs">7.5</text>
<text x="494" y="64.4" font-size="6.3" text-anchor="start" fill="#333" font-weight="normal" stroke="#333" stroke-width="0.18" textLength="8.4" lengthAdjust="spacingAndGlyphs">5.0</text>
<text x="494" y="72.25" font-size="6.3" text-anchor="start" fill="#333" font-weight="normal" stroke="#333" stroke-width="0.18" textLength="8.4" lengthAdjust="spacingAndGlyphs">2.5</text>
<line x1="30" y1="124.2" x2="30" y2="193.4" stroke="#8a8a8a" stroke-width="1.5"/>
<text x="24.6" y="159" font-size="8" text-anchor="middle" fill="#333" font-weight="normal" stroke="#333" stroke-width="0.18" transform="rotate(-90 24.6 159)" textLength="53.5" lengthAdjust="spacingAndGlyphs">Oligodendrocytes</text>
<path d="M131.1,146.3C131.5,146.4 131.5,149.0 132.3,149.8C133.1,150.5 134.7,150.3 135.8,150.6C136.8,150.9 138.0,151.4 138.7,151.6C139.4,151.8 139.1,152.2 139.8,151.8C140.6,151.4 142.4,149.7 143.2,149.1C144.0,148.5 144.0,148.2 144.6,148.0C145.3,147.7 146.3,147.3 147.1,147.6C147.9,147.9 149.1,149.0 149.4,149.8C149.7,150.5 149.6,151.4 149.1,152.2C148.6,153.0 147.4,154.0 146.6,154.7C145.9,155.5 145.1,155.9 144.6,156.7C144.2,157.4 143.7,158.2 144.1,159.1C144.6,160.1 146.5,161.5 147.1,162.6C147.8,163.7 148.1,164.6 148.1,165.6C148.1,166.6 147.8,167.4 147.1,168.6C146.5,169.7 144.9,171.4 144.1,172.5C143.4,173.7 143.4,174.5 142.7,175.5C141.9,176.5 140.7,177.5 139.7,178.5C138.7,179.5 138.0,179.9 136.7,181.4C135.4,182.9 133.4,185.9 131.8,187.4C130.1,188.9 128.1,190.2 126.9,190.3C125.6,190.5 125.1,189.5 124.4,188.4C123.6,187.2 123.1,185.4 122.4,183.4C121.6,181.5 120.7,178.7 119.9,176.5C119.2,174.4 118.4,172.6 117.9,170.6C117.5,168.6 117.2,166.6 117.2,164.6C117.2,162.6 117.4,160.3 117.9,158.7C118.5,157.0 119.4,155.9 120.4,154.7C121.4,153.6 122.6,152.5 123.9,151.8C125.1,151.0 126.9,150.7 127.8,150.3C128.8,149.8 129.2,149.9 129.8,149.3C130.3,148.6 130.7,146.2 131.1,146.3Z" fill="#33337a"/>
<path d="M131.1,146.3C131.5,146.4 131.5,149.0 132.3,149.8C133.1,150.5 134.7,150.3 135.8,150.6C136.8,150.9 138.0,151.4 138.7,151.6C139.4,151.8 139.1,152.2 139.8,151.8C140.6,151.4 142.4,149.7 143.2,149.1C144.0,148.5 144.0,148.2 144.6,148.0C145.3,147.7 146.3,147.3 147.1,147.6C147.9,147.9 149.1,149.0 149.4,149.8C149.7,150.5 149.6,151.4 149.1,152.2C148.6,153.0 147.4,154.0 146.6,154.7C145.9,155.5 145.1,155.9 144.6,156.7C144.2,157.4 143.7,158.2 144.1,159.1C144.6,160.1 146.5,161.5 147.1,162.6C147.8,163.7 148.1,164.6 148.1,165.6C148.1,166.6 147.8,167.4 147.1,168.6C146.5,169.7 144.9,171.4 144.1,172.5C143.4,173.7 143.4,174.5 142.7,175.5C141.9,176.5 140.7,177.5 139.7,178.5C138.7,179.5 138.0,179.9 136.7,181.4C135.4,182.9 133.4,185.9 131.8,187.4C130.1,188.9 128.1,190.2 126.9,190.3C125.6,190.5 125.1,189.5 124.4,188.4C123.6,187.2 123.1,185.4 122.4,183.4C121.6,181.5 120.7,178.7 119.9,176.5C119.2,174.4 118.4,172.6 117.9,170.6C117.5,168.6 117.2,166.6 117.2,164.6C117.2,162.6 117.4,160.3 117.9,158.7C118.5,157.0 119.4,155.9 120.4,154.7C121.4,153.6 122.6,152.5 123.9,151.8C125.1,151.0 126.9,150.7 127.8,150.3C128.8,149.8 129.2,149.9 129.8,149.3C130.3,148.6 130.7,146.2 131.1,146.3Z" fill="none" stroke="#1f1f50" stroke-width="0.8" stroke-dasharray="1 0.6"/>
<path d="M129.3,150.4L131.0,145.6L132.8,150.4Z" fill="#3a3c84"/>
<path d="M147.3 163.4h0M137.7 176.6h0M122.0 174.1h0M130.1 155.6h0M131.7 174.1h0M127.2 163.5h0M137.3 176.3h0M130.4 179.1h0M125.3 166.6h0M133.9 184.4h0M143.6 153.2h0M147.8 149.2h0M121.5 165.6h0M124.0 184.2h0M143.3 167.8h0M123.3 155.3h0M143.7 163.3h0M133.2 182.8h0M139.9 167.8h0M125.1 163.2h0M131.8 156.4h0M144.4 148.7h0M125.2 164.5h0M127.6 156.9h0M136.5 174.1h0M134.7 166.0h0M124.8 154.2h0M128.4 151.4h0M125.6 152.2h0M128.1 172.2h0M133.5 180.6h0M144.1 160.5h0M133.4 166.3h0M125.2 161.0h0M128.3 172.9h0M144.1 156.9h0M139.9 177.0h0M120.3 162.3h0M131.6 186.4h0M139.4 164.2h0M130.4 177.1h0M139.8 177.6h0M144.0 170.4h0M136.1 181.6h0M134.6 163.9h0M126.9 154.6h0M125.7 178.7h0M142.3 159.1h0M120.3 162.7h0M126.3 179.3h0M118.0 170.6h0M125.7 167.0h0M135.8 154.6h0M120.8 157.3h0M126.5 176.9h0M125.4 165.1h0M136.0 161.5h0M132.9 157.9h0M117.4 165.4h0M143.5 165.3h0M138.1 174.4h0M137.1 174.3h0M140.8 162.9h0M136.6 166.2h0M121.3 167.6h0M119.3 157.8h0M119.4 169.4h0M127.4 175.3h0M129.4 174.2h0M120.9 156.2h0M122.9 162.2h0M120.4 177.4h0M130.6 160.4h0M143.0 162.7h0M132.5 178.2h0M141.8 159.0h0M137.3 173.0h0M133.5 178.3h0M143.2 158.7h0M127.7 153.1h0M139.3 166.3h0M133.5 159.9h0M121.1 170.3h0M133.4 151.2h0M120.4 177.6h0M131.1 173.6h0M132.0 175.2h0M143.7 164.9h0M130.9 176.9h0M127.2 177.3h0M118.8 165.3h0M137.4 175.7h0M137.1 161.8h0M128.1 174.5h0M136.3 177.3h0M139.7 159.5h0M135.2 176.4h0M123.4 160.3h0M124.1 162.7h0M139.3 159.9h0" stroke="#3a3c84" stroke-width="1.1" stroke-linecap="round" fill="none"/>
<path d="M125.1 167.5h0M142.7 156.5h0M127.0 155.2h0M136.7 170.8h0M129.9 184.1h0M137.6 157.2h0M146.3 164.0h0M134.6 183.8h0M133.9 174.7h0M141.8 163.6h0M137.1 170.9h0M147.1 154.3h0M141.6 162.8h0M134.8 169.4h0M147.0 163.6h0M134.8 170.9h0M133.6 152.0h0M124.1 176.8h0M136.7 155.7h0M127.3 161.2h0M142.2 154.4h0M128.8 150.0h0M131.7 150.2h0M136.2 161.5h0M143.1 165.9h0M141.8 163.0h0M135.3 170.8h0M120.3 169.7h0M135.2 182.0h0M123.8 161.9h0M124.5 154.1h0M119.8 161.9h0M130.0 177.3h0M129.4 185.3h0M127.9 168.7h0M126.7 171.0h0M128.5 156.5h0M128.3 181.1h0M145.3 153.9h0M124.5 179.9h0M132.9 183.6h0M135.8 153.7h0M143.4 161.7h0M139.1 168.2h0M139.8 175.4h0M127.4 173.7h0M133.3 152.4h0M133.3 169.2h0M137.0 157.1h0M141.7 159.3h0M124.8 185.0h0M123.6 184.5h0M127.5 181.7h0M132.1 180.4h0M122.3 166.6h0M129.7 186.2h0M137.0 156.6h0M138.7 164.8h0M124.3 154.2h0M124.3 168.1h0M132.7 168.9h0M133.4 164.6h0M123.8 182.0h0M136.7 179.9h0M136.6 159.2h0M119.1 163.6h0M135.9 168.2h0M133.8 154.7h0M126.3 188.6h0M137.2 177.9h0M125.1 180.6h0M141.6 163.9h0M130.7 173.1h0M142.6 166.9h0M122.0 173.8h0M125.3 165.3h0M129.5 164.5h0M128.8 168.5h0M140.9 161.1h0M140.6 167.4h0M118.7 172.4h0M122.0 161.7h0M122.2 180.2h0M140.6 153.0h0M134.7 183.4h0M140.5 168.7h0" stroke="#6c6fae" stroke-width="1.1" stroke-linecap="round" fill="none"/>
<path d="M130.6 160.2h0M120.9 169.0h0M122.9 156.2h0M145.2 160.5h0M123.0 170.1h0M139.9 175.0h0M133.4 181.4h0M127.9 183.7h0M133.8 166.3h0M136.8 152.3h0M130.5 150.2h0M146.1 168.3h0M127.8 151.8h0M128.8 167.3h0M145.3 151.3h0M132.0 169.6h0M139.5 168.8h0M144.8 160.4h0M127.2 154.1h0M129.4 163.0h0M136.1 162.2h0M136.0 181.5h0M124.0 186.3h0M120.0 165.3h0M125.4 185.4h0M125.2 165.6h0M129.6 156.1h0M124.7 166.2h0M127.0 164.7h0M147.1 167.0h0M131.3 187.1h0M131.1 170.9h0M132.4 178.7h0M122.9 167.9h0M144.0 163.4h0M131.1 151.9h0M144.0 159.4h0M138.9 178.8h0M138.2 178.3h0M130.6 158.2h0M135.2 155.9h0M132.5 164.9h0M136.9 151.7h0M129.9 175.2h0M126.9 157.1h0M135.5 168.4h0M142.2 155.3h0M133.4 177.9h0M145.6 151.7h0M130.8 148.5h0M130.3 151.5h0M125.2 189.0h0M142.0 172.7h0M136.3 158.1h0M119.0 169.2h0M130.7 151.9h0M131.0 181.5h0M145.0 161.5h0M129.2 187.7h0M146.9 153.6h0M124.9 160.9h0M130.5 159.0h0M131.3 162.7h0M127.3 178.0h0M118.1 160.4h0M126.7 155.8h0M144.4 167.3h0M138.8 165.7h0M124.8 164.2h0M137.2 156.7h0M121.1 175.1h0M129.2 185.2h0M122.6 158.3h0M123.4 171.9h0M136.6 180.8h0M126.4 172.2h0M128.3 152.9h0M122.3 160.8h0M125.2 168.2h0M128.0 175.8h0M141.5 158.3h0M145.7 166.5h0M130.6 182.4h0M138.7 160.4h0M119.1 172.9h0M118.3 158.6h0M137.3 159.0h0M133.1 179.1h0M121.2 165.5h0M123.5 159.1h0M147.9 151.2h0M121.6 176.2h0M132.2 160.2h0M143.7 171.1h0M131.9 160.7h0M142.0 159.5h0M141.5 165.6h0M123.8 178.3h0M138.3 165.7h0M138.0 178.5h0M147.7 148.8h0M139.5 160.7h0M138.7 162.9h0M122.1 176.5h0M128.5 157.3h0M135.8 173.1h0M131.4 164.9h0M145.5 151.6h0M123.2 169.1h0M138.8 153.3h0M135.6 180.6h0M141.6 165.0h0M142.6 165.0h0M134.7 159.4h0M141.7 162.9h0" stroke="#26265c" stroke-width="1.1" stroke-linecap="round" fill="none"/>
<path d="M128.9 168.6h0M125.8 152.5h0M128.0 166.5h0M143.3 173.9h0M126.5 155.4h0M130.2 170.4h0M139.9 153.7h0M133.4 156.6h0M125.6 157.6h0M130.2 161.4h0M130.7 172.2h0M131.3 187.5h0M144.5 155.9h0M130.4 155.3h0M119.6 169.2h0M120.9 155.8h0M130.9 179.4h0M127.5 154.6h0M119.8 175.5h0M136.1 170.7h0M120.4 172.2h0M126.8 178.9h0M132.1 182.4h0M142.1 163.4h0M124.6 177.4h0M123.7 185.1h0M144.6 171.2h0M137.8 161.9h0M126.5 169.5h0M123.9 163.3h0M125.8 187.0h0M139.0 168.4h0M141.4 170.9h0M126.6 170.2h0M139.3 153.0h0M123.8 182.9h0M123.8 155.1h0M130.0 175.0h0M128.5 160.0h0M124.9 184.4h0M124.4 178.7h0M127.4 160.6h0M133.0 173.7h0M126.9 185.1h0M135.5 177.2h0M136.6 172.3h0M131.9 153.1h0M140.2 153.3h0M119.3 173.8h0M132.5 178.2h0M141.1 172.8h0M133.4 178.1h0M127.3 181.2h0M144.8 169.8h0M140.5 173.1h0M135.9 163.7h0M132.5 177.6h0M120.7 164.6h0M133.0 168.5h0M132.1 161.1h0M120.8 171.0h0M140.3 160.4h0M124.4 187.1h0M123.9 177.9h0M123.4 171.7h0M129.9 150.2h0M140.9 165.2h0M143.6 157.9h0M140.7 155.8h0M131.6 151.7h0M122.7 163.3h0M122.8 173.8h0M143.3 155.4h0M137.1 160.5h0M134.0 183.2h0M123.0 153.8h0M131.6 150.4h0M132.7 174.2h0M129.1 172.5h0M132.0 178.9h0M119.8 169.5h0M119.3 173.9h0M131.3 157.7h0M126.2 158.9h0M137.6 158.7h0M135.3 178.5h0M121.6 154.0h0M137.5 179.0h0M144.4 168.3h0M129.0 150.5h0M134.9 178.4h0M134.9 171.0h0M131.0 187.8h0M133.7 168.0h0M129.6 167.3h0M138.0 169.0h0M132.7 160.6h0M143.6 159.7h0M120.9 165.6h0M131.0 181.9h0M126.0 162.2h0M139.9 157.3h0M132.8 184.0h0M126.6 182.6h0M147.6 148.4h0M133.3 178.2h0M135.6 179.0h0M138.3 179.0h0M143.9 157.6h0M119.2 162.1h0M123.6 182.4h0M125.6 171.6h0M127.4 163.5h0M140.9 157.4h0" stroke="#1e1d4a" stroke-width="1.1" stroke-linecap="round" fill="none"/>
<path d="M131.9 186.3h0M123.4 164.4h0M133.1 160.8h0M147.8 152.1h0M144.4 169.0h0M143.4 153.8h0M123.4 180.7h0M139.6 153.5h0M148.0 152.1h0M118.9 166.1h0M140.0 153.4h0M119.9 166.4h0M143.9 150.5h0M126.6 184.9h0M122.9 167.0h0M137.4 153.4h0M132.4 160.0h0M147.0 167.6h0M132.5 157.6h0M133.5 181.4h0M125.7 152.0h0M143.5 150.8h0M119.4 173.6h0M127.6 175.0h0M122.8 156.3h0M146.5 151.1h0M127.5 155.9h0M140.2 156.3h0M133.5 171.3h0M143.6 167.2h0M139.4 174.3h0M127.6 168.0h0M131.0 179.5h0M131.1 167.4h0M146.3 154.4h0M130.7 164.8h0M128.8 177.7h0M144.1 159.8h0M121.1 155.1h0M147.6 164.6h0M130.4 150.5h0M136.6 179.1h0M139.6 177.3h0M135.9 153.2h0M129.7 175.9h0M134.3 183.0h0M140.3 163.6h0M121.0 172.5h0M140.2 176.8h0M144.2 160.3h0M141.3 151.0h0M129.4 159.4h0M130.9 173.9h0M130.9 151.9h0M118.3 166.0h0M128.9 171.7h0M133.6 160.7h0M134.6 177.8h0M124.6 184.3h0M135.7 173.9h0M140.3 170.4h0M125.5 152.3h0M132.6 178.6h0M139.8 161.8h0M130.8 167.3h0M119.2 172.1h0M127.5 161.7h0M138.5 174.4h0M132.1 161.9h0M126.5 156.1h0M138.8 171.8h0M142.4 157.0h0M133.5 152.8h0M140.2 173.5h0M147.4 165.7h0M132.4 175.3h0M124.7 181.1h0M141.7 161.1h0M124.4 184.3h0M143.9 159.9h0M140.9 152.5h0M132.5 178.0h0M121.3 159.3h0M130.7 156.5h0M132.9 150.2h0M134.5 163.4h0M139.8 156.5h0M139.7 168.0h0M136.0 161.6h0M131.3 160.8h0M140.1 162.7h0M143.5 168.6h0M136.5 160.3h0M128.9 173.8h0M129.1 175.2h0M118.8 172.0h0M134.6 170.9h0M139.1 153.7h0M139.7 153.5h0M136.0 165.7h0M137.2 152.3h0M142.0 159.8h0M126.5 168.2h0M129.9 181.7h0M122.9 170.3h0" stroke="#55589a" stroke-width="1.1" stroke-linecap="round" fill="none"/>
<path d="M74.9,171.4C74.9,171.0 74.8,170.5 74.6,170.0C74.4,169.6 74.1,169.2 73.7,168.8C73.3,168.5 72.9,168.2 72.4,168.0C71.9,167.9 71.3,167.8 70.8,167.8C70.3,167.8 69.7,167.9 69.3,168.0C68.8,168.2 68.3,168.5 67.9,168.8C67.6,169.2 67.2,169.6 67.0,170.0C66.8,170.5 66.7,171.0 66.7,171.4C66.7,171.9 66.8,172.4 67.0,172.8C67.2,173.3 67.6,173.7 67.9,174.0C68.3,174.3 68.8,174.6 69.3,174.8C69.7,175.0 70.3,175.1 70.8,175.1C71.3,175.1 71.9,175.0 72.4,174.8C72.9,174.6 73.3,174.3 73.7,174.0C74.1,173.7 74.4,173.3 74.6,172.8C74.8,172.4 74.9,171.9 74.9,171.4Z" fill="#c2e4d7"/>
<path d="M69.9 172.7h0M74.4 172.8h0M71.1 171.1h0M72.1 174.5h0M72.3 169.0h0M69.6 171.6h0M71.4 168.6h0M71.7 172.3h0M73.9 171.7h0M69.4 172.2h0M72.6 170.2h0M72.8 174.3h0M69.1 172.3h0" stroke="#d6eee5" stroke-width="1" stroke-linecap="round" fill="none"/>
<path d="M68.6 172.4h0M71.1 171.3h0M74.4 170.3h0M74.6 170.2h0M69.1 170.1h0M73.1 171.7h0M73.1 173.8h0M68.0 171.8h0M70.7 168.2h0M73.0 173.8h0M73.2 171.9h0M72.7 171.8h0M68.0 168.9h0M70.6 173.1h0M71.8 173.9h0M71.0 173.6h0M70.2 174.1h0" stroke="#a8d8c8" stroke-width="1" stroke-linecap="round" fill="none"/>
<line x1="71.99" y1="167.77" x2="75.89" y2="161.417" stroke="#9a9a9a" stroke-width="0.7"/>
<circle cx="125.0" cy="138.9" r="0.5" fill="#bbb"/>
<circle cx="78.2" cy="174.3" r="0.55" fill="#555"/>
<circle cx="82.1" cy="173.5" r="0.55" fill="#555"/>
<line x1="59.6" y1="134" x2="59.6" y2="193.4" stroke="#1a1a1a" stroke-width="1"/>
<line x1="59.1" y1="192.9" x2="154" y2="192.9" stroke="#1a1a1a" stroke-width="1"/>
<line x1="67.7" y1="192.9" x2="67.7" y2="195.4" stroke="#1a1a1a" stroke-width="0.8"/>
<text x="66.7" y="204.7" font-size="6.6" text-anchor="middle" fill="#333" font-weight="normal" stroke="#333" stroke-width="0.18">−15</text>
<line x1="87.2" y1="192.9" x2="87.2" y2="195.4" stroke="#1a1a1a" stroke-width="0.8"/>
<text x="86.2" y="204.7" font-size="6.6" text-anchor="middle" fill="#333" font-weight="normal" stroke="#333" stroke-width="0.18">−10</text>
<line x1="106.7" y1="192.9" x2="106.7" y2="195.4" stroke="#1a1a1a" stroke-width="0.8"/>
<text x="105.7" y="204.7" font-size="6.6" text-anchor="middle" fill="#333" font-weight="normal" stroke="#333" stroke-width="0.18">−5</text>
<line x1="126.2" y1="192.9" x2="126.2" y2="195.4" stroke="#1a1a1a" stroke-width="0.8"/>
<text x="126.2" y="204.7" font-size="6.6" text-anchor="middle" fill="#333" font-weight="normal" stroke="#333" stroke-width="0.18">0</text>
<line x1="145.7" y1="192.9" x2="145.7" y2="195.4" stroke="#1a1a1a" stroke-width="0.8"/>
<text x="145.7" y="204.7" font-size="6.6" text-anchor="middle" fill="#333" font-weight="normal" stroke="#333" stroke-width="0.18">5</text>
<line x1="56.6" y1="136.2" x2="59.6" y2="136.2" stroke="#1a1a1a" stroke-width="0.8"/>
<text x="53.3" y="138.5" font-size="6.3" text-anchor="end" fill="#333" font-weight="normal" stroke="#333" stroke-width="0.18">8</text>
<line x1="56.6" y1="151.6" x2="59.6" y2="151.6" stroke="#1a1a1a" stroke-width="0.8"/>
<text x="53.3" y="153.9" font-size="6.3" text-anchor="end" fill="#333" font-weight="normal" stroke="#333" stroke-width="0.18">4</text>
<line x1="56.6" y1="167" x2="59.6" y2="167" stroke="#1a1a1a" stroke-width="0.8"/>
<text x="53.3" y="169.3" font-size="6.3" text-anchor="end" fill="#333" font-weight="normal" stroke="#333" stroke-width="0.18">0</text>
<line x1="56.6" y1="182.4" x2="59.6" y2="182.4" stroke="#1a1a1a" stroke-width="0.8"/>
<text x="53.3" y="184.7" font-size="6.3" text-anchor="end" fill="#333" font-weight="normal" stroke="#333" stroke-width="0.18">−4</text>
<text x="107.3" y="128" font-size="8" text-anchor="middle" fill="#333" font-weight="normal" stroke="#333" stroke-width="0.18" textLength="16.4" lengthAdjust="spacingAndGlyphs">Mbp</text>
<text x="105.3" y="216.7" font-size="7.8" text-anchor="middle" fill="#333" font-weight="normal" stroke="#333" stroke-width="0.18" textLength="27.3" lengthAdjust="spacingAndGlyphs">UMAP_1</text>
<text x="41.1" y="163.4" font-size="7.8" text-anchor="middle" fill="#333" font-weight="normal" stroke="#333" stroke-width="0.18" transform="rotate(-90 41.1 163.4)" textLength="26" lengthAdjust="spacingAndGlyphs">UMAP_2</text>
<rect x="159.4" y="150.6" width="5.6" height="27.5" fill="url(#mako)"/>
<text x="166.4" y="152.8" font-size="6.3" text-anchor="start" fill="#333" font-weight="normal" stroke="#333" stroke-width="0.18" textLength="11.6" lengthAdjust="spacingAndGlyphs">10.0</text>
<text x="166.4" y="160.65" font-size="6.3" text-anchor="start" fill="#333" font-weight="normal" stroke="#333" stroke-width="0.18" textLength="8.4" lengthAdjust="spacingAndGlyphs">7.5</text>
<text x="166.4" y="168.5" font-size="6.3" text-anchor="start" fill="#333" font-weight="normal" stroke="#333" stroke-width="0.18" textLength="8.4" lengthAdjust="spacingAndGlyphs">5.0</text>
<text x="166.4" y="176.35" font-size="6.3" text-anchor="start" fill="#333" font-weight="normal" stroke="#333" stroke-width="0.18" textLength="8.4" lengthAdjust="spacingAndGlyphs">2.5</text>
<path d="M289.8,145.7C290.2,145.8 290.2,148.4 291.0,149.2C291.8,149.9 293.4,149.7 294.5,150.0C295.5,150.3 296.7,150.8 297.4,151.0C298.1,151.2 297.8,151.6 298.5,151.2C299.3,150.8 301.1,149.1 301.9,148.5C302.7,147.9 302.7,147.6 303.3,147.4C304.0,147.1 305.0,146.7 305.8,147.0C306.6,147.3 307.8,148.4 308.1,149.2C308.4,149.9 308.3,150.8 307.8,151.6C307.3,152.4 306.1,153.4 305.3,154.1C304.6,154.9 303.8,155.3 303.3,156.1C302.9,156.8 302.4,157.6 302.8,158.5C303.3,159.5 305.2,160.9 305.8,162.0C306.5,163.1 306.8,164.0 306.8,165.0C306.8,166.0 306.5,166.8 305.8,168.0C305.2,169.1 303.6,170.8 302.8,171.9C302.1,173.1 302.1,173.9 301.4,174.9C300.6,175.9 299.4,176.9 298.4,177.9C297.4,178.9 296.7,179.3 295.4,180.8C294.1,182.3 292.1,185.3 290.5,186.8C288.8,188.3 286.8,189.6 285.6,189.7C284.3,189.9 283.8,188.9 283.1,187.8C282.3,186.6 281.8,184.8 281.1,182.8C280.3,180.9 279.4,178.1 278.6,175.9C277.9,173.8 277.1,172.0 276.6,170.0C276.2,168.0 275.9,166.0 275.9,164.0C275.9,162.0 276.1,159.7 276.6,158.1C277.2,156.4 278.1,155.3 279.1,154.1C280.1,153.0 281.3,151.9 282.6,151.2C283.8,150.4 285.5,150.1 286.5,149.7C287.5,149.2 287.9,149.3 288.5,148.7C289.0,148.0 289.4,145.6 289.8,145.7Z" fill="#4a74a6"/>
<path d="M289.8,145.7C290.2,145.8 290.2,148.4 291.0,149.2C291.8,149.9 293.4,149.7 294.5,150.0C295.5,150.3 296.7,150.8 297.4,151.0C298.1,151.2 297.8,151.6 298.5,151.2C299.3,150.8 301.1,149.1 301.9,148.5C302.7,147.9 302.7,147.6 303.3,147.4C304.0,147.1 305.0,146.7 305.8,147.0C306.6,147.3 307.8,148.4 308.1,149.2C308.4,149.9 308.3,150.8 307.8,151.6C307.3,152.4 306.1,153.4 305.3,154.1C304.6,154.9 303.8,155.3 303.3,156.1C302.9,156.8 302.4,157.6 302.8,158.5C303.3,159.5 305.2,160.9 305.8,162.0C306.5,163.1 306.8,164.0 306.8,165.0C306.8,166.0 306.5,166.8 305.8,168.0C305.2,169.1 303.6,170.8 302.8,171.9C302.1,173.1 302.1,173.9 301.4,174.9C300.6,175.9 299.4,176.9 298.4,177.9C297.4,178.9 296.7,179.3 295.4,180.8C294.1,182.3 292.1,185.3 290.5,186.8C288.8,188.3 286.8,189.6 285.6,189.7C284.3,189.9 283.8,188.9 283.1,187.8C282.3,186.6 281.8,184.8 281.1,182.8C280.3,180.9 279.4,178.1 278.6,175.9C277.9,173.8 277.1,172.0 276.6,170.0C276.2,168.0 275.9,166.0 275.9,164.0C275.9,162.0 276.1,159.7 276.6,158.1C277.2,156.4 278.1,155.3 279.1,154.1C280.1,153.0 281.3,151.9 282.6,151.2C283.8,150.4 285.5,150.1 286.5,149.7C287.5,149.2 287.9,149.3 288.5,148.7C289.0,148.0 289.4,145.6 289.8,145.7Z" fill="none" stroke="#1e3560" stroke-width="0.8" stroke-dasharray="1 0.6"/>
<path d="M288.0,149.8L289.7,145.0L291.5,149.8Z" fill="#ffffff"/>
<path d="M302.5 155.1h0M286.8 185.0h0M278.7 166.8h0M285.7 175.4h0M290.9 164.7h0M290.9 154.1h0M282.7 183.2h0M288.2 179.3h0M288.7 178.0h0M290.7 157.7h0M298.4 158.3h0M281.7 157.0h0M301.1 170.2h0M285.1 175.1h0M281.2 165.1h0M285.5 161.3h0M277.9 157.8h0M295.3 152.4h0M282.9 168.5h0M291.1 182.3h0M302.2 156.3h0M284.0 181.8h0M280.3 168.2h0M292.8 161.3h0M295.7 151.2h0M294.8 169.2h0M297.0 165.3h0M304.9 152.7h0M279.9 170.1h0M284.0 155.7h0M290.2 178.6h0M302.3 151.9h0M280.2 154.8h0M297.3 170.5h0M287.4 172.6h0M283.5 181.1h0M282.4 167.5h0M285.3 181.6h0M286.9 168.4h0M294.0 164.2h0M296.5 178.7h0M286.8 186.1h0M295.2 178.4h0M303.8 167.5h0M279.3 175.5h0M288.7 185.8h0M297.2 162.1h0M281.5 173.9h0M300.8 152.5h0M286.2 173.9h0M296.5 161.3h0M290.4 173.2h0M292.9 172.1h0M295.9 159.5h0M297.8 170.6h0M303.6 161.3h0M287.3 173.7h0M289.7 158.4h0M291.8 158.9h0M283.2 179.8h0M284.1 158.1h0M287.8 169.9h0M301.6 155.4h0M295.8 180.1h0M292.0 154.4h0M302.9 171.3h0M283.4 186.2h0M288.9 177.1h0M277.7 165.8h0M303.4 150.3h0" stroke="#9ab8d8" stroke-width="1" stroke-linecap="round" fill="none"/>
<path d="M291.8 163.2h0M297.7 175.7h0M294.6 169.2h0M300.3 152.0h0M301.1 150.2h0M289.1 157.5h0M281.6 168.3h0M302.6 169.1h0M295.6 178.7h0M283.9 181.1h0M286.0 172.5h0M291.5 153.1h0M297.1 170.9h0M303.0 167.1h0M291.1 150.4h0M284.3 156.6h0M288.2 181.3h0M293.5 153.1h0M292.0 184.5h0M285.9 180.2h0M299.8 158.5h0M291.1 167.5h0M296.7 164.7h0M287.2 167.5h0M295.5 174.0h0M300.0 153.9h0M290.7 162.9h0M291.7 180.5h0M303.6 169.5h0M281.2 174.9h0M283.8 179.2h0M300.4 160.0h0M280.3 157.7h0M289.7 148.1h0M297.1 158.6h0M287.1 176.2h0M287.9 150.3h0M305.3 151.6h0M293.6 166.5h0M292.4 157.3h0M289.6 153.3h0M293.1 171.0h0M282.1 175.4h0M291.9 154.8h0M286.4 157.8h0M303.1 150.4h0M293.8 180.9h0M295.6 164.8h0M297.1 173.3h0M299.6 158.2h0M293.1 157.4h0M286.0 162.9h0M294.3 176.6h0M287.1 154.1h0M289.0 168.6h0M283.2 164.9h0M289.3 149.6h0M303.7 160.1h0M280.6 162.8h0M280.0 157.6h0M281.2 171.1h0M296.2 150.8h0M285.8 169.9h0M299.6 165.2h0M294.3 171.4h0M289.2 187.5h0M286.9 151.4h0M298.0 177.9h0M293.9 163.4h0M297.5 151.4h0M278.3 174.8h0M299.2 161.3h0M301.7 172.6h0M285.3 161.8h0M281.9 168.7h0M286.5 153.7h0M285.1 161.1h0M298.3 160.1h0M277.1 162.6h0M295.2 176.7h0M295.9 165.7h0M283.9 155.6h0" stroke="#5f8ab8" stroke-width="1" stroke-linecap="round" fill="none"/>
<path d="M302.0 173.4h0M289.5 155.8h0M290.8 181.9h0M284.8 155.4h0M298.6 168.8h0M284.1 178.2h0M282.9 179.4h0M298.8 156.1h0M294.7 159.0h0M285.6 184.6h0M285.2 181.2h0M293.2 161.1h0M300.2 150.2h0M285.5 170.7h0M287.6 163.1h0M279.1 177.0h0M300.6 151.1h0M291.9 159.5h0M279.0 175.4h0M297.0 160.7h0M286.8 188.1h0M303.5 161.0h0M294.4 169.1h0M285.8 179.3h0M284.6 162.2h0M297.6 153.9h0M291.8 157.3h0M286.4 160.8h0M299.1 171.4h0M300.0 165.7h0M281.0 161.5h0M285.5 188.5h0M296.3 176.0h0M281.5 165.5h0M290.3 180.4h0M303.1 160.7h0M293.6 162.0h0M305.6 151.1h0M286.1 172.6h0M276.3 165.2h0M284.6 151.5h0M294.7 163.7h0M298.4 166.7h0M299.6 172.7h0M293.1 159.7h0M286.5 185.1h0M290.5 170.5h0M293.1 149.8h0M285.5 158.2h0M303.4 155.9h0M288.4 166.6h0M284.7 162.3h0M290.8 159.3h0M283.9 172.3h0M282.0 166.6h0M278.2 165.2h0M290.9 177.3h0M281.2 158.1h0M290.5 164.1h0M293.4 171.0h0M285.9 170.2h0M282.5 180.6h0M292.1 150.3h0M288.7 158.1h0M293.8 177.8h0M289.0 151.3h0M287.6 152.5h0M277.0 164.9h0M285.5 174.8h0M296.1 178.9h0" stroke="#c0d4e6" stroke-width="1" stroke-linecap="round" fill="none"/>
<path d="M290.4 148.5h0M299.7 167.0h0M298.2 161.9h0M285.6 189.5h0M296.3 154.3h0M293.1 178.7h0M299.4 167.5h0M294.1 179.1h0M296.1 156.8h0M298.2 174.1h0M291.4 183.0h0M289.0 163.7h0M283.9 171.5h0M288.9 182.8h0M295.2 168.3h0M293.7 181.0h0M290.0 178.4h0M287.6 165.1h0M289.2 168.9h0M302.9 162.0h0M289.2 162.2h0M301.9 170.6h0M302.5 164.8h0M292.0 159.9h0M301.5 170.7h0M303.7 165.3h0M302.6 160.9h0M306.8 151.6h0M295.9 166.5h0M276.2 165.3h0M282.2 167.4h0M288.7 163.6h0M296.0 166.6h0M288.2 149.4h0M297.3 153.1h0M284.0 159.4h0M292.8 165.4h0M282.2 163.8h0M302.1 168.1h0M288.0 154.8h0M280.7 160.4h0M289.9 175.1h0M287.8 168.7h0M284.6 181.8h0M295.1 152.2h0M280.7 178.2h0M297.7 164.7h0M289.3 171.2h0M286.8 183.6h0M299.5 174.8h0M282.4 181.2h0M278.2 167.4h0M287.8 185.4h0M293.9 165.9h0M300.0 172.6h0M300.7 159.8h0M292.8 158.2h0M294.5 155.0h0M290.0 167.9h0M277.0 162.0h0M283.6 176.5h0M294.9 161.6h0M294.3 172.7h0M288.9 166.6h0M296.2 155.8h0M301.4 155.2h0M279.7 172.5h0M303.7 165.4h0M284.6 182.1h0M303.4 168.7h0M289.3 182.3h0M280.0 161.3h0M292.1 181.9h0M278.2 166.1h0M295.6 160.1h0M292.4 179.1h0" stroke="#35598a" stroke-width="1" stroke-linecap="round" fill="none"/>
<path d="M300.4 150.4h0M288.7 155.0h0M295.7 157.5h0M290.3 148.7h0M290.6 157.5h0M295.5 155.1h0M283.2 183.3h0M286.7 158.6h0M283.7 183.0h0M300.7 171.1h0M287.8 173.4h0M295.6 170.4h0M278.2 174.5h0M284.7 174.7h0M283.4 171.6h0M283.4 156.8h0M292.9 157.7h0M292.6 150.1h0M285.9 175.6h0M288.3 172.2h0M300.7 159.5h0M284.7 164.1h0M278.6 168.1h0M291.9 169.8h0M300.0 166.2h0M281.6 178.2h0M280.8 175.0h0M303.5 154.5h0M283.4 183.9h0M282.8 171.1h0M280.8 170.9h0M295.8 161.5h0M283.0 168.0h0M289.4 160.2h0M278.4 173.8h0M284.6 180.1h0M292.3 181.1h0M284.6 180.3h0M282.6 179.0h0M298.2 177.3h0M294.6 165.7h0M291.3 177.9h0M290.3 154.2h0M285.9 159.3h0M288.0 149.9h0M283.0 185.9h0M304.7 167.5h0M291.2 150.3h0M285.2 167.6h0M278.2 171.2h0M301.0 173.2h0M304.5 160.6h0M301.6 163.2h0M293.8 167.9h0M285.6 161.1h0M280.5 165.3h0M281.5 179.4h0M296.4 174.8h0M289.9 169.5h0M292.4 150.0h0M284.1 185.3h0M283.2 174.5h0M280.2 177.1h0M300.9 155.6h0M299.8 174.0h0M299.2 175.6h0M291.6 180.8h0M281.2 155.5h0M294.5 181.0h0M304.7 165.6h0" stroke="#2a4a78" stroke-width="1" stroke-linecap="round" fill="none"/>
<path d="M283.5 187.6h0M298.0 166.7h0M306.9 151.4h0M277.7 161.7h0M299.0 171.8h0M306.2 151.6h0M306.0 163.9h0M290.1 182.2h0M288.0 166.0h0M282.2 155.8h0M301.3 158.9h0M283.3 169.9h0M276.2 163.9h0M295.0 162.1h0M283.2 177.1h0M299.9 171.4h0M295.0 171.7h0M282.2 156.1h0M279.9 169.1h0M294.9 159.6h0M299.4 174.1h0M287.1 154.0h0M280.5 179.3h0M299.3 162.3h0M285.4 164.6h0M297.5 176.5h0M296.8 178.1h0M299.3 158.8h0M286.8 177.1h0M302.6 149.5h0M293.1 160.7h0M285.0 170.3h0M286.4 153.2h0M291.0 169.8h0M277.2 163.3h0M297.1 161.5h0M287.3 174.8h0M283.9 162.0h0M288.9 150.2h0M292.7 151.4h0M278.5 159.1h0M281.2 176.0h0M293.7 180.6h0M296.7 179.6h0M300.5 153.1h0M288.4 174.8h0M300.9 160.2h0M298.4 159.9h0M285.7 172.9h0M285.8 182.5h0M287.1 185.9h0M299.7 169.2h0M294.0 168.4h0M296.4 169.6h0M280.6 152.9h0M298.7 153.3h0M296.4 176.3h0M294.3 161.7h0M293.4 165.2h0M289.7 166.3h0M280.6 153.5h0M292.7 151.8h0M285.9 170.0h0M287.6 160.6h0M298.0 176.8h0M294.1 152.4h0M290.4 149.2h0M296.3 154.8h0M302.3 160.6h0M289.9 159.4h0M294.5 163.7h0M293.0 166.1h0M298.4 162.7h0M300.2 175.4h0M284.0 184.8h0M284.7 174.8h0" stroke="#ffffff" stroke-width="1" stroke-linecap="round" fill="none"/>
<path d="M290.2 152.2h0M279.7 164.0h0M293.0 157.6h0M300.7 157.5h0M293.6 172.1h0M290.0 187.0h0M300.4 170.8h0M279.5 176.8h0M290.2 147.2h0M295.8 168.1h0M292.1 154.6h0M279.8 171.3h0M304.1 153.3h0M300.6 169.0h0M280.7 164.1h0M290.9 156.5h0M298.5 171.7h0M289.9 173.4h0M293.6 152.3h0M281.4 153.0h0M279.6 154.0h0M291.7 180.5h0M287.4 149.8h0M287.5 173.6h0M301.9 161.0h0M289.8 182.0h0M291.4 154.6h0M291.5 181.7h0M284.4 167.8h0M284.5 186.6h0M281.7 158.1h0M280.5 167.2h0M302.4 169.1h0M289.8 169.6h0M287.2 183.7h0M286.5 166.8h0M280.8 154.6h0M282.8 185.4h0M284.4 168.3h0M290.5 171.6h0M291.9 179.5h0M286.4 179.9h0M287.2 188.6h0M282.9 165.2h0M301.5 157.1h0M284.2 180.1h0M293.8 154.2h0M288.1 152.4h0M295.3 178.9h0M288.0 154.9h0M293.5 156.0h0M289.7 148.9h0M290.3 182.5h0M287.4 163.3h0M282.0 182.7h0M292.1 169.1h0M283.6 158.4h0M289.4 157.6h0M291.0 165.6h0M276.7 159.0h0M292.8 158.6h0M284.4 178.1h0M297.7 151.4h0M301.7 149.3h0M283.8 176.1h0M299.5 167.6h0M285.1 175.9h0M289.3 171.2h0M299.8 159.6h0M296.9 153.2h0M305.0 147.1h0M306.8 150.7h0M298.9 152.4h0M293.8 170.8h0M304.6 150.6h0M284.6 168.8h0" stroke="#7aa0c8" stroke-width="1" stroke-linecap="round" fill="none"/>
<path d="M233.6,170.8C233.6,170.4 233.5,169.9 233.3,169.4C233.1,169.0 232.8,168.6 232.4,168.2C232.0,167.9 231.6,167.6 231.1,167.4C230.6,167.3 230.0,167.2 229.5,167.2C229.0,167.2 228.4,167.3 228.0,167.4C227.5,167.6 227.0,167.9 226.6,168.2C226.3,168.6 225.9,169.0 225.7,169.4C225.5,169.9 225.4,170.4 225.4,170.8C225.4,171.3 225.5,171.8 225.7,172.2C225.9,172.7 226.3,173.1 226.6,173.4C227.0,173.7 227.5,174.0 228.0,174.2C228.4,174.4 229.0,174.5 229.5,174.5C230.0,174.5 230.6,174.4 231.1,174.2C231.6,174.0 232.0,173.7 232.4,173.4C232.8,173.1 233.1,172.7 233.3,172.2C233.5,171.8 233.6,171.3 233.6,170.8Z" fill="#dbeee6"/>
<path d="M230.1 172.6h0M230.1 171.4h0M228.8 170.3h0M228.4 172.2h0M229.8 173.8h0M230.4 173.8h0M231.3 171.8h0M230.8 169.6h0M227.5 170.6h0M230.8 169.3h0M227.8 168.6h0M229.3 169.3h0M228.3 170.6h0M229.5 172.2h0M230.3 168.1h0M230.9 170.9h0M228.7 170.7h0M227.5 169.1h0M231.9 173.6h0M227.2 171.2h0M232.1 169.6h0" stroke="#c8e5da" stroke-width="1" stroke-linecap="round" fill="none"/>
<path d="M228.0 173.9h0M230.2 170.2h0M227.7 171.1h0M228.2 170.7h0M231.8 171.3h0M231.4 169.2h0M229.1 169.1h0M228.2 169.8h0M230.6 167.6h0" stroke="#e8f5ef" stroke-width="1" stroke-linecap="round" fill="none"/>
<line x1="230.69" y1="167.17" x2="234.59" y2="160.817" stroke="#9a9a9a" stroke-width="0.7"/>
<circle cx="283.7" cy="138.3" r="0.5" fill="#bbb"/>
<circle cx="236.9" cy="173.7" r="0.55" fill="#c8e5da"/>
<circle cx="240.8" cy="172.9" r="0.55" fill="#c8e5da"/>
<line x1="218.3" y1="133" x2="218.3" y2="192.9" stroke="#1a1a1a" stroke-width="1"/>
<line x1="217.8" y1="192.4" x2="311.5" y2="192.4" stroke="#1a1a1a" stroke-width="1"/>
<line x1="226.4" y1="192.4" x2="226.4" y2="194.9" stroke="#1a1a1a" stroke-width="0.8"/>
<text x="225.4" y="204.2" font-size="6.6" text-anchor="middle" fill="#333" font-weight="normal" stroke="#333" stroke-width="0.18">−15</text>
<line x1="245.9" y1="192.4" x2="245.9" y2="194.9" stroke="#1a1a1a" stroke-width="0.8"/>
<text x="244.9" y="204.2" font-size="6.6" text-anchor="middle" fill="#333" font-weight="normal" stroke="#333" stroke-width="0.18">−10</text>
<line x1="265.4" y1="192.4" x2="265.4" y2="194.9" stroke="#1a1a1a" stroke-width="0.8"/>
<text x="264.4" y="204.2" font-size="6.6" text-anchor="middle" fill="#333" font-weight="normal" stroke="#333" stroke-width="0.18">−5</text>
<line x1="284.9" y1="192.4" x2="284.9" y2="194.9" stroke="#1a1a1a" stroke-width="0.8"/>
<text x="284.9" y="204.2" font-size="6.6" text-anchor="middle" fill="#333" font-weight="normal" stroke="#333" stroke-width="0.18">0</text>
<line x1="304.4" y1="192.4" x2="304.4" y2="194.9" stroke="#1a1a1a" stroke-width="0.8"/>
<text x="304.4" y="204.2" font-size="6.6" text-anchor="middle" fill="#333" font-weight="normal" stroke="#333" stroke-width="0.18">5</text>
<line x1="215.3" y1="135.6" x2="218.3" y2="135.6" stroke="#1a1a1a" stroke-width="0.8"/>
<text x="212" y="137.9" font-size="6.3" text-anchor="end" fill="#333" font-weight="normal" stroke="#333" stroke-width="0.18">8</text>
<line x1="215.3" y1="151" x2="218.3" y2="151" stroke="#1a1a1a" stroke-width="0.8"/>
<text x="212" y="153.3" font-size="6.3" text-anchor="end" fill="#333" font-weight="normal" stroke="#333" stroke-width="0.18">4</text>
<line x1="215.3" y1="166.4" x2="218.3" y2="166.4" stroke="#1a1a1a" stroke-width="0.8"/>
<text x="212" y="168.7" font-size="6.3" text-anchor="end" fill="#333" font-weight="normal" stroke="#333" stroke-width="0.18">0</text>
<line x1="215.3" y1="181.8" x2="218.3" y2="181.8" stroke="#1a1a1a" stroke-width="0.8"/>
<text x="212" y="184.1" font-size="6.3" text-anchor="end" fill="#333" font-weight="normal" stroke="#333" stroke-width="0.18">−4</text>
<text x="265.4" y="128" font-size="8" text-anchor="middle" fill="#333" font-weight="normal" stroke="#333" stroke-width="0.18" textLength="17" lengthAdjust="spacingAndGlyphs">Mog</text>
<text x="263.4" y="216.2" font-size="7.8" text-anchor="middle" fill="#333" font-weight="normal" stroke="#333" stroke-width="0.18" textLength="27.3" lengthAdjust="spacingAndGlyphs">UMAP_1</text>
<text x="199.8" y="162.8" font-size="7.8" text-anchor="middle" fill="#333" font-weight="normal" stroke="#333" stroke-width="0.18" transform="rotate(-90 199.8 162.8)" textLength="26" lengthAdjust="spacingAndGlyphs">UMAP_2</text>
<rect x="318.4" y="150.6" width="5.6" height="27.5" fill="url(#mako)"/>
<text x="325.4" y="152.8" font-size="6.3" text-anchor="start" fill="#333" font-weight="normal" stroke="#333" stroke-width="0.18" textLength="11.6" lengthAdjust="spacingAndGlyphs">10.0</text>
<text x="325.4" y="160.65" font-size="6.3" text-anchor="start" fill="#333" font-weight="normal" stroke="#333" stroke-width="0.18" textLength="8.4" lengthAdjust="spacingAndGlyphs">7.5</text>
<text x="325.4" y="168.5" font-size="6.3" text-anchor="start" fill="#333" font-weight="normal" stroke="#333" stroke-width="0.18" textLength="8.4" lengthAdjust="spacingAndGlyphs">5.0</text>
<text x="325.4" y="176.35" font-size="6.3" text-anchor="start" fill="#333" font-weight="normal" stroke="#333" stroke-width="0.18" textLength="8.4" lengthAdjust="spacingAndGlyphs">2.5</text>
<path d="M458.3,146.3C458.7,146.4 458.7,149.0 459.5,149.8C460.3,150.5 461.9,150.3 463.0,150.6C464.0,150.9 465.2,151.4 465.9,151.6C466.6,151.8 466.3,152.2 467.0,151.8C467.8,151.4 469.6,149.7 470.4,149.1C471.2,148.5 471.2,148.2 471.8,148.0C472.5,147.7 473.5,147.3 474.3,147.6C475.1,147.9 476.3,149.0 476.6,149.8C476.9,150.5 476.8,151.4 476.3,152.2C475.8,153.0 474.6,154.0 473.8,154.7C473.1,155.5 472.3,155.9 471.8,156.7C471.4,157.4 470.9,158.2 471.3,159.1C471.8,160.1 473.7,161.5 474.3,162.6C475.0,163.7 475.3,164.6 475.3,165.6C475.3,166.6 475.0,167.4 474.3,168.6C473.7,169.7 472.1,171.4 471.3,172.5C470.6,173.7 470.6,174.5 469.9,175.5C469.1,176.5 467.9,177.5 466.9,178.5C465.9,179.5 465.2,179.9 463.9,181.4C462.6,182.9 460.6,185.9 459.0,187.4C457.3,188.9 455.3,190.2 454.1,190.3C452.8,190.5 452.3,189.5 451.6,188.4C450.8,187.2 450.3,185.4 449.6,183.4C448.8,181.5 447.9,178.7 447.1,176.5C446.4,174.4 445.6,172.6 445.1,170.6C444.7,168.6 444.4,166.6 444.4,164.6C444.4,162.6 444.6,160.3 445.1,158.7C445.7,157.0 446.6,155.9 447.6,154.7C448.6,153.6 449.8,152.5 451.1,151.8C452.3,151.0 454.0,150.7 455.0,150.3C456.0,149.8 456.4,149.9 457.0,149.3C457.5,148.6 457.9,146.2 458.3,146.3Z" fill="#42699e"/>
<path d="M458.3,146.3C458.7,146.4 458.7,149.0 459.5,149.8C460.3,150.5 461.9,150.3 463.0,150.6C464.0,150.9 465.2,151.4 465.9,151.6C466.6,151.8 466.3,152.2 467.0,151.8C467.8,151.4 469.6,149.7 470.4,149.1C471.2,148.5 471.2,148.2 471.8,148.0C472.5,147.7 473.5,147.3 474.3,147.6C475.1,147.9 476.3,149.0 476.6,149.8C476.9,150.5 476.8,151.4 476.3,152.2C475.8,153.0 474.6,154.0 473.8,154.7C473.1,155.5 472.3,155.9 471.8,156.7C471.4,157.4 470.9,158.2 471.3,159.1C471.8,160.1 473.7,161.5 474.3,162.6C475.0,163.7 475.3,164.6 475.3,165.6C475.3,166.6 475.0,167.4 474.3,168.6C473.7,169.7 472.1,171.4 471.3,172.5C470.6,173.7 470.6,174.5 469.9,175.5C469.1,176.5 467.9,177.5 466.9,178.5C465.9,179.5 465.2,179.9 463.9,181.4C462.6,182.9 460.6,185.9 459.0,187.4C457.3,188.9 455.3,190.2 454.1,190.3C452.8,190.5 452.3,189.5 451.6,188.4C450.8,187.2 450.3,185.4 449.6,183.4C448.8,181.5 447.9,178.7 447.1,176.5C446.4,174.4 445.6,172.6 445.1,170.6C444.7,168.6 444.4,166.6 444.4,164.6C444.4,162.6 444.6,160.3 445.1,158.7C445.7,157.0 446.6,155.9 447.6,154.7C448.6,153.6 449.8,152.5 451.1,151.8C452.3,151.0 454.0,150.7 455.0,150.3C456.0,149.8 456.4,149.9 457.0,149.3C457.5,148.6 457.9,146.2 458.3,146.3Z" fill="none" stroke="#1c3058" stroke-width="0.8" stroke-dasharray="1 0.6"/>
<path d="M456.5,150.4L458.2,145.6L460.0,150.4Z" fill="#f4f8fc"/>
<path d="M459.9 175.6h0M461.2 153.8h0M458.4 169.4h0M452.9 171.6h0M449.8 163.5h0M469.5 150.7h0M457.0 160.8h0M446.7 160.5h0M455.7 165.7h0M452.2 162.0h0M458.6 164.5h0M454.7 167.0h0M457.9 171.5h0M465.7 168.2h0M464.6 173.9h0M466.4 156.3h0M463.3 176.9h0M455.6 154.8h0M461.4 180.6h0M471.1 162.4h0M446.3 157.4h0M468.9 174.6h0M465.3 178.8h0M457.5 172.5h0M453.6 174.8h0M458.9 148.3h0M462.7 163.1h0M452.4 169.3h0M467.3 166.3h0M468.3 174.2h0M469.7 163.1h0M465.9 162.6h0M451.5 175.9h0M465.5 170.3h0M470.4 151.2h0M456.1 180.7h0M470.3 164.3h0M456.6 162.2h0M452.5 155.1h0M466.2 160.1h0M447.4 168.4h0M451.8 182.2h0M465.1 170.1h0M449.1 155.6h0M464.5 179.8h0M470.0 166.8h0M465.2 159.9h0M454.9 186.4h0M471.5 149.0h0M461.1 168.9h0M461.2 178.3h0M458.4 155.3h0M471.8 169.9h0M462.3 156.3h0M461.6 176.0h0M456.4 182.7h0M465.5 174.3h0M468.5 170.3h0M469.9 152.6h0M447.8 164.7h0M459.4 169.8h0M453.2 168.0h0M462.6 153.5h0M472.8 151.3h0M445.5 167.4h0M456.8 166.8h0M465.4 153.9h0M463.2 155.6h0M460.9 165.4h0M457.7 176.6h0M463.3 173.3h0M463.0 160.6h0M455.2 183.3h0M471.3 167.2h0M447.6 157.8h0M449.1 168.2h0" stroke="#5580b0" stroke-width="1" stroke-linecap="round" fill="none"/>
<path d="M454.0 166.8h0M463.6 156.7h0M452.3 175.5h0M471.0 171.2h0M459.1 185.2h0M471.1 169.9h0M452.3 174.0h0M471.2 149.9h0M448.7 172.8h0M464.7 158.4h0M454.2 154.9h0M456.3 170.7h0M460.5 166.6h0M459.1 174.9h0M458.6 153.2h0M460.5 184.0h0M462.6 159.5h0M462.6 155.5h0M458.3 153.8h0M456.7 184.1h0M453.3 173.8h0M450.7 169.9h0M470.9 162.4h0M451.9 181.6h0M447.3 156.6h0M454.5 166.5h0M465.8 164.7h0M449.8 161.9h0M464.6 158.4h0M454.3 174.1h0M470.4 164.8h0M453.0 182.1h0M454.2 168.9h0M453.7 169.8h0M459.8 181.9h0M462.5 168.4h0M452.4 188.1h0M448.2 155.5h0M446.6 158.0h0M457.7 182.4h0M475.4 150.4h0M448.1 158.3h0M461.0 152.9h0M448.1 176.4h0M457.2 162.4h0M462.7 180.5h0M455.5 157.1h0M474.2 153.8h0M459.4 166.8h0M464.8 177.9h0M457.5 154.3h0M452.3 156.5h0M451.2 160.9h0M452.4 156.3h0M456.7 163.6h0M449.3 156.1h0M451.4 169.9h0M445.8 165.9h0M450.9 185.3h0M454.2 152.8h0M448.5 170.5h0M449.5 158.7h0M454.9 168.5h0M462.2 150.6h0M460.5 178.1h0M457.7 171.2h0M464.3 156.5h0M459.9 170.4h0M449.9 176.8h0M463.6 164.6h0M453.7 176.0h0M459.5 185.7h0M459.6 177.1h0M469.0 158.5h0M465.9 169.8h0M460.4 156.1h0M452.4 165.1h0M451.9 153.3h0" stroke="#30528a" stroke-width="1" stroke-linecap="round" fill="none"/>
<path d="M468.6 153.4h0M459.5 161.8h0M457.6 163.6h0M447.6 172.5h0M447.9 156.0h0M467.0 174.2h0M445.0 168.8h0M464.4 178.0h0M449.1 176.8h0M455.0 187.0h0M471.0 156.4h0M471.6 150.3h0M455.6 154.9h0M470.7 150.6h0M453.3 173.3h0M472.7 169.3h0M456.3 150.4h0M452.0 157.9h0M451.4 170.7h0M462.9 172.8h0M446.9 160.3h0M453.5 156.4h0M471.7 160.6h0M460.5 166.6h0M467.6 153.0h0M459.5 162.5h0M448.8 168.9h0M458.5 149.7h0M460.0 167.2h0M464.1 162.9h0M453.0 166.5h0M445.5 164.9h0M447.5 159.2h0M472.0 161.2h0M465.1 160.1h0M464.1 177.0h0M473.7 163.5h0M454.5 172.8h0M458.1 154.5h0M449.7 160.6h0M465.9 164.4h0M462.9 175.5h0M458.5 151.6h0M453.1 174.4h0M452.9 180.0h0M453.6 155.1h0M466.9 169.2h0M456.5 174.0h0M466.3 177.9h0M460.5 183.1h0M463.0 156.4h0M459.5 169.0h0M466.2 167.3h0M452.5 166.1h0M452.7 171.3h0M460.6 152.3h0M466.4 177.7h0M462.4 181.5h0M448.8 178.4h0M449.1 175.9h0M446.1 170.4h0M463.9 175.7h0M461.5 183.0h0" stroke="#6f94c0" stroke-width="1" stroke-linecap="round" fill="none"/>
<path d="M468.0 176.0h0M461.0 176.9h0M458.6 173.0h0M449.3 155.4h0M467.7 173.8h0M450.4 172.1h0M454.2 156.4h0M460.6 160.5h0M454.2 159.0h0M455.8 156.7h0M454.8 179.3h0M465.8 160.8h0M470.5 169.3h0M448.4 154.1h0M469.6 152.4h0M467.0 161.5h0M472.0 163.9h0M452.4 158.8h0M456.4 174.6h0M462.3 172.2h0M449.2 162.3h0M456.3 158.8h0M460.6 164.7h0M463.6 158.5h0M451.7 153.7h0M464.1 179.4h0M457.5 186.4h0M453.9 164.6h0M465.5 163.1h0M463.6 168.0h0M466.8 160.4h0M473.0 162.5h0M462.1 151.4h0M460.7 174.4h0M460.4 153.2h0M448.8 172.3h0M446.2 163.2h0M452.6 176.2h0M458.3 175.1h0M467.4 176.1h0M454.7 181.0h0M455.6 176.2h0M470.6 161.0h0M461.6 183.3h0M449.7 183.8h0M449.2 177.9h0M458.6 149.0h0M453.4 178.8h0M462.9 176.6h0M447.8 176.5h0M473.2 150.8h0M475.7 151.0h0M446.1 166.7h0M460.0 169.3h0M459.8 181.0h0M448.4 178.3h0M471.9 150.5h0M471.8 161.2h0M449.9 169.9h0M463.7 164.2h0M457.5 186.3h0M452.7 162.3h0M474.9 153.4h0M464.0 169.3h0M464.7 162.9h0M459.2 171.2h0M472.7 154.1h0M455.5 154.8h0M455.9 163.3h0M461.7 161.5h0M459.7 173.1h0M469.2 168.2h0M467.5 175.1h0M464.2 180.7h0M467.6 163.7h0M460.5 160.1h0M460.0 185.4h0" stroke="#b0c6de" stroke-width="1" stroke-linecap="round" fill="none"/>
<path d="M449.7 166.2h0M455.1 186.2h0M454.5 155.7h0M462.3 181.0h0M457.0 168.6h0M450.8 154.1h0M459.4 160.5h0M469.3 160.6h0M461.3 154.7h0M455.0 182.2h0M474.3 168.0h0M462.9 180.3h0M476.2 151.7h0M460.0 163.7h0M461.5 155.5h0M461.1 180.2h0M474.5 168.0h0M450.5 166.7h0M457.3 164.8h0M470.1 160.3h0M468.0 164.0h0M448.0 176.4h0M457.9 156.5h0M474.1 152.7h0M462.5 153.6h0M458.7 150.3h0M450.3 171.9h0M458.3 163.8h0M452.3 157.6h0M457.2 176.2h0M452.7 156.6h0M449.3 174.6h0M446.2 172.6h0M451.9 177.1h0M469.0 167.0h0M463.7 169.7h0M473.8 165.9h0M458.8 148.6h0M463.0 161.9h0M465.7 176.7h0M456.0 153.5h0M444.7 162.7h0M464.3 175.1h0M455.6 185.7h0M456.3 157.4h0M461.2 172.3h0M471.0 154.9h0M453.4 164.5h0M447.6 155.2h0M471.5 165.3h0M453.8 154.6h0M467.0 157.9h0M456.1 171.5h0M458.6 185.4h0M456.6 157.5h0M463.8 155.4h0M471.0 171.3h0M468.6 171.3h0M452.3 161.5h0M450.6 159.2h0M459.2 180.7h0M470.4 159.7h0M455.4 151.5h0M464.6 174.1h0M473.3 150.5h0M456.9 157.4h0M455.2 164.4h0M471.4 163.0h0M466.6 178.0h0M470.2 150.5h0M449.2 178.3h0M461.1 170.7h0M461.0 157.4h0M459.3 152.4h0" stroke="#8eaed2" stroke-width="1" stroke-linecap="round" fill="none"/>
<path d="M457.5 163.9h0M454.3 174.8h0M454.5 176.3h0M463.1 170.3h0M460.6 157.9h0M451.0 160.0h0M448.5 170.7h0M454.7 170.5h0M456.5 156.1h0M467.7 176.4h0M467.9 151.8h0M459.0 176.8h0M456.6 186.9h0M457.6 151.2h0M466.2 166.1h0M457.2 184.6h0M462.1 178.5h0M450.1 156.7h0M465.2 174.2h0M471.2 149.1h0M456.9 158.2h0M447.4 164.3h0M466.3 174.7h0M452.2 157.3h0M465.0 152.0h0M459.1 155.1h0M448.4 162.8h0M453.8 170.9h0M462.2 163.7h0M474.7 150.4h0M461.3 167.5h0M448.5 168.8h0M447.4 167.9h0M463.7 179.9h0M456.2 151.0h0M458.7 187.3h0M448.6 174.1h0M462.6 169.1h0M471.0 159.1h0M467.3 152.1h0M456.6 176.8h0M465.0 158.1h0M455.9 185.9h0M458.2 183.3h0M466.7 178.3h0M475.2 149.0h0M454.9 171.7h0M459.4 185.9h0M450.9 172.4h0M459.9 183.9h0M466.0 169.2h0M451.9 177.4h0M458.3 172.6h0M471.6 169.8h0M461.4 172.3h0M457.8 175.8h0M457.0 149.9h0M470.2 167.8h0M468.1 175.6h0M462.5 153.9h0M452.3 183.6h0M450.5 161.1h0M452.5 170.8h0M465.5 177.7h0M462.8 174.3h0M457.8 159.1h0M467.4 158.6h0M457.3 162.8h0M451.1 170.6h0M473.5 167.8h0M469.2 162.3h0M452.3 184.5h0M460.8 163.3h0M445.7 170.4h0M451.1 176.0h0M447.4 170.5h0M460.7 150.7h0M455.7 173.9h0M463.0 169.3h0M457.0 152.5h0M453.1 182.0h0" stroke="#26426e" stroke-width="1" stroke-linecap="round" fill="none"/>
<path d="M452.7 181.5h0M447.3 171.6h0M473.8 164.4h0M469.6 158.4h0M453.4 180.4h0M449.2 158.8h0M469.7 157.1h0M457.0 151.8h0M458.5 170.5h0M465.3 162.6h0M448.5 179.7h0M459.6 177.9h0M460.6 166.0h0M468.0 170.4h0M466.8 178.2h0M461.4 155.2h0M446.3 173.8h0M455.7 161.1h0M468.2 151.8h0M455.0 189.3h0M461.7 159.4h0M455.7 170.9h0M457.8 182.9h0M462.7 168.6h0M454.7 167.7h0M448.9 171.8h0M449.8 179.4h0M458.4 164.1h0M462.2 180.0h0M468.2 160.6h0M471.7 166.8h0M457.3 164.9h0M450.3 177.7h0M465.5 154.7h0M471.3 161.2h0M462.5 179.2h0M468.9 166.6h0M465.0 158.9h0M469.3 156.4h0M457.1 179.6h0M454.5 151.4h0M470.2 167.5h0M475.0 151.6h0M446.4 160.3h0M473.5 150.0h0M452.5 169.5h0M454.3 158.1h0M454.4 153.1h0M449.8 158.1h0M465.7 155.8h0M451.4 162.8h0M450.3 175.3h0M449.0 176.5h0M467.3 158.7h0M452.9 183.6h0M472.7 166.7h0M465.2 161.3h0M466.3 154.8h0M473.5 165.2h0M465.3 159.4h0M460.2 172.5h0M454.5 176.2h0M454.5 159.7h0M454.6 164.7h0M458.9 155.8h0M466.2 167.2h0M463.3 175.5h0M452.7 153.4h0M457.2 153.2h0M458.2 162.9h0M470.7 169.1h0" stroke="#f4f8fc" stroke-width="1" stroke-linecap="round" fill="none"/>
<path d="M402.1,171.4C402.1,171.0 402.0,170.5 401.8,170.0C401.6,169.6 401.3,169.2 400.9,168.8C400.5,168.5 400.1,168.2 399.6,168.0C399.1,167.9 398.5,167.8 398.0,167.8C397.5,167.8 396.9,167.9 396.5,168.0C396.0,168.2 395.5,168.5 395.1,168.8C394.8,169.2 394.4,169.6 394.2,170.0C394.0,170.5 393.9,171.0 393.9,171.4C393.9,171.9 394.0,172.4 394.2,172.8C394.4,173.3 394.8,173.7 395.1,174.0C395.5,174.3 396.0,174.6 396.5,174.8C396.9,175.0 397.5,175.1 398.0,175.1C398.5,175.1 399.1,175.0 399.6,174.8C400.1,174.6 400.5,174.3 400.9,174.0C401.3,173.7 401.6,173.3 401.8,172.8C402.0,172.4 402.1,171.9 402.1,171.4Z" fill="#dbeee6"/>
<path d="M399.7 168.2h0M398.2 172.5h0M395.2 171.2h0M396.3 171.8h0M399.5 174.8h0M398.8 174.7h0M395.9 172.3h0M395.9 174.2h0M395.9 170.4h0M396.3 173.6h0M398.0 171.6h0M394.3 172.1h0M400.4 170.2h0M398.6 173.1h0M395.7 169.0h0M399.0 171.4h0M396.3 170.3h0" stroke="#c8e5da" stroke-width="1" stroke-linecap="round" fill="none"/>
<path d="M400.3 170.9h0M396.2 170.2h0M398.8 169.2h0M398.3 169.7h0M400.2 169.3h0M395.0 172.2h0M398.6 173.0h0M396.1 174.0h0M400.9 169.4h0M399.2 174.8h0M397.2 172.1h0M400.4 174.1h0M397.1 170.1h0" stroke="#e8f5ef" stroke-width="1" stroke-linecap="round" fill="none"/>
<line x1="399.19" y1="167.77" x2="403.09" y2="161.417" stroke="#9a9a9a" stroke-width="0.7"/>
<circle cx="452.2" cy="138.9" r="0.5" fill="#bbb"/>
<circle cx="405.4" cy="174.3" r="0.55" fill="#c8e5da"/>
<circle cx="409.3" cy="173.5" r="0.55" fill="#c8e5da"/>
<line x1="386.6" y1="133.8" x2="386.6" y2="193.4" stroke="#1a1a1a" stroke-width="1"/>
<line x1="386.1" y1="192.9" x2="480.5" y2="192.9" stroke="#1a1a1a" stroke-width="1"/>
<line x1="394.9" y1="192.9" x2="394.9" y2="195.4" stroke="#1a1a1a" stroke-width="0.8"/>
<text x="393.9" y="204.7" font-size="6.6" text-anchor="middle" fill="#333" font-weight="normal" stroke="#333" stroke-width="0.18">−15</text>
<line x1="414.4" y1="192.9" x2="414.4" y2="195.4" stroke="#1a1a1a" stroke-width="0.8"/>
<text x="413.4" y="204.7" font-size="6.6" text-anchor="middle" fill="#333" font-weight="normal" stroke="#333" stroke-width="0.18">−10</text>
<line x1="433.9" y1="192.9" x2="433.9" y2="195.4" stroke="#1a1a1a" stroke-width="0.8"/>
<text x="432.9" y="204.7" font-size="6.6" text-anchor="middle" fill="#333" font-weight="normal" stroke="#333" stroke-width="0.18">−5</text>
<line x1="453.4" y1="192.9" x2="453.4" y2="195.4" stroke="#1a1a1a" stroke-width="0.8"/>
<text x="453.4" y="204.7" font-size="6.6" text-anchor="middle" fill="#333" font-weight="normal" stroke="#333" stroke-width="0.18">0</text>
<line x1="472.9" y1="192.9" x2="472.9" y2="195.4" stroke="#1a1a1a" stroke-width="0.8"/>
<text x="472.9" y="204.7" font-size="6.6" text-anchor="middle" fill="#333" font-weight="normal" stroke="#333" stroke-width="0.18">5</text>
<line x1="383.6" y1="136.2" x2="386.6" y2="136.2" stroke="#1a1a1a" stroke-width="0.8"/>
<text x="380.3" y="138.5" font-size="6.3" text-anchor="end" fill="#333" font-weight="normal" stroke="#333" stroke-width="0.18">8</text>
<line x1="383.6" y1="151.6" x2="386.6" y2="151.6" stroke="#1a1a1a" stroke-width="0.8"/>
<text x="380.3" y="153.9" font-size="6.3" text-anchor="end" fill="#333" font-weight="normal" stroke="#333" stroke-width="0.18">4</text>
<line x1="383.6" y1="167" x2="386.6" y2="167" stroke="#1a1a1a" stroke-width="0.8"/>
<text x="380.3" y="169.3" font-size="6.3" text-anchor="end" fill="#333" font-weight="normal" stroke="#333" stroke-width="0.18">0</text>
<line x1="383.6" y1="182.4" x2="386.6" y2="182.4" stroke="#1a1a1a" stroke-width="0.8"/>
<text x="380.3" y="184.7" font-size="6.3" text-anchor="end" fill="#333" font-weight="normal" stroke="#333" stroke-width="0.18">−4</text>
<text x="434.05" y="128" font-size="8" text-anchor="middle" fill="#333" font-weight="normal" stroke="#333" stroke-width="0.18" textLength="16.5" lengthAdjust="spacingAndGlyphs">Mag</text>
<text x="432.05" y="216.7" font-size="7.8" text-anchor="middle" fill="#333" font-weight="normal" stroke="#333" stroke-width="0.18" textLength="27.3" lengthAdjust="spacingAndGlyphs">UMAP_1</text>
<text x="368.1" y="163.4" font-size="7.8" text-anchor="middle" fill="#333" font-weight="normal" stroke="#333" stroke-width="0.18" transform="rotate(-90 368.1 163.4)" textLength="26" lengthAdjust="spacingAndGlyphs">UMAP_2</text>
<rect x="486" y="150.6" width="5.6" height="27.5" fill="url(#mako)"/>
<text x="493" y="152.8" font-size="6.3" text-anchor="start" fill="#333" font-weight="normal" stroke="#333" stroke-width="0.18" textLength="11.6" lengthAdjust="spacingAndGlyphs">10.0</text>
<text x="493" y="160.65" font-size="6.3" text-anchor="start" fill="#333" font-weight="normal" stroke="#333" stroke-width="0.18" textLength="8.4" lengthAdjust="spacingAndGlyphs">7.5</text>
<text x="493" y="168.5" font-size="6.3" text-anchor="start" fill="#333" font-weight="normal" stroke="#333" stroke-width="0.18" textLength="8.4" lengthAdjust="spacingAndGlyphs">5.0</text>
<text x="493" y="176.35" font-size="6.3" text-anchor="start" fill="#333" font-weight="normal" stroke="#333" stroke-width="0.18" textLength="8.4" lengthAdjust="spacingAndGlyphs">2.5</text>
<line x1="32.3" y1="260.5" x2="32.3" y2="367" stroke="#1a1a1a" stroke-width="1"/>
<line x1="29.3" y1="289.4" x2="32.3" y2="289.4" stroke="#1a1a1a" stroke-width="0.8"/>
<text x="25.9" y="291.8" font-size="6.6" text-anchor="end" fill="#333" font-weight="normal" stroke="#333" stroke-width="0.18">4</text>
<line x1="29.3" y1="318.2" x2="32.3" y2="318.2" stroke="#1a1a1a" stroke-width="0.8"/>
<text x="25.9" y="320.6" font-size="6.6" text-anchor="end" fill="#333" font-weight="normal" stroke="#333" stroke-width="0.18">0</text>
<line x1="29.3" y1="347" x2="32.3" y2="347" stroke="#1a1a1a" stroke-width="0.8"/>
<text x="25.9" y="349.4" font-size="6.6" text-anchor="end" fill="#333" font-weight="normal" stroke="#333" stroke-width="0.18">−4</text>
<text x="13.8" y="312.7" font-size="7.9" text-anchor="middle" fill="#333" font-weight="normal" stroke="#333" stroke-width="0.18" transform="rotate(-90 13.8 312.7)" textLength="27" lengthAdjust="spacingAndGlyphs">UMAP_2</text>
<text x="176.3" y="389.5" font-size="7.9" text-anchor="middle" fill="#333" font-weight="normal" stroke="#333" stroke-width="0.18" textLength="26.6" lengthAdjust="spacingAndGlyphs">UMAP_1</text>
<text x="78" y="256.2" font-size="8.3" text-anchor="middle" fill="#333" font-weight="normal" stroke="#333" stroke-width="0.18" textLength="11.2" lengthAdjust="spacingAndGlyphs">WT</text>
<line x1="31.7" y1="366.5" x2="123.8" y2="366.5" stroke="#1a1a1a" stroke-width="1"/>
<line x1="37.45" y1="366.5" x2="37.45" y2="369" stroke="#1a1a1a" stroke-width="0.8"/>
<text x="35.85" y="378" font-size="6.3" text-anchor="middle" fill="#333" font-weight="normal" stroke="#333" stroke-width="0.18">−15</text>
<line x1="57.3" y1="366.5" x2="57.3" y2="369" stroke="#1a1a1a" stroke-width="0.8"/>
<text x="55.7" y="378" font-size="6.3" text-anchor="middle" fill="#333" font-weight="normal" stroke="#333" stroke-width="0.18">−10</text>
<line x1="77.15" y1="366.5" x2="77.15" y2="369" stroke="#1a1a1a" stroke-width="0.8"/>
<text x="75.55" y="378" font-size="6.3" text-anchor="middle" fill="#333" font-weight="normal" stroke="#333" stroke-width="0.18">−5</text>
<line x1="97" y1="366.5" x2="97" y2="369" stroke="#1a1a1a" stroke-width="0.8"/>
<text x="97" y="378" font-size="6.3" text-anchor="middle" fill="#333" font-weight="normal" stroke="#333" stroke-width="0.18">0</text>
<line x1="116.85" y1="366.5" x2="116.85" y2="369" stroke="#1a1a1a" stroke-width="0.8"/>
<text x="116.85" y="378" font-size="6.3" text-anchor="middle" fill="#333" font-weight="normal" stroke="#333" stroke-width="0.18">5</text>
<path d="M102.2,280.1C102.5,280.1 102.0,285.8 102.8,287.1C103.6,288.4 105.6,287.6 106.9,288.0C108.2,288.3 109.6,287.8 110.5,289.0C111.4,290.3 111.8,293.0 112.4,295.4C112.9,297.7 112.8,300.8 113.6,303.1C114.5,305.3 116.4,307.1 117.4,308.8C118.5,310.5 119.7,311.4 120.0,313.2C120.4,315.0 120.2,317.5 119.6,319.6C119.1,321.8 117.7,323.9 116.8,326.0C116.0,328.1 115.4,329.8 114.3,332.4C113.1,334.9 111.5,338.1 109.8,341.2C108.1,344.4 106.1,348.1 104.1,351.5C102.1,354.9 99.2,360.2 97.8,361.7C96.3,363.2 95.9,362.1 95.2,360.4C94.4,358.7 93.9,355.1 93.3,351.5C92.6,347.9 91.9,343.0 91.4,338.7C90.8,334.5 90.3,330.2 90.1,326.0C89.9,321.7 89.9,317.0 90.1,313.2C90.3,309.4 90.7,306.1 91.4,303.1C92.0,300.1 92.8,297.7 93.9,295.4C95.0,293.0 96.6,290.4 97.8,289.0C98.9,287.7 100.2,288.6 100.9,287.1C101.7,285.6 101.9,280.1 102.2,280.1Z" fill="#8fd6bd"/>
<path d="M101.0,288.0L102.2,279.7L103.4,288.0Z" fill="#8fcfb8"/>
<circle cx="92.7" cy="300.6" r="0.5" fill="#7fcdb0"/><circle cx="100.8" cy="286.8" r="0.5" fill="#7fcdb0"/><circle cx="119.9" cy="315.1" r="0.5" fill="#7fcdb0"/><circle cx="100.1" cy="285.3" r="0.5" fill="#7fcdb0"/><circle cx="90.6" cy="311.0" r="0.5" fill="#7fcdb0"/><circle cx="89.2" cy="320.7" r="0.5" fill="#7fcdb0"/><circle cx="118.2" cy="309.3" r="0.5" fill="#7fcdb0"/><circle cx="90.5" cy="330.4" r="0.5" fill="#7fcdb0"/><circle cx="111.1" cy="289.4" r="0.5" fill="#7fcdb0"/><circle cx="104.1" cy="288.0" r="0.5" fill="#7fcdb0"/><circle cx="118.9" cy="312.0" r="0.5" fill="#7fcdb0"/><circle cx="113.1" cy="299.8" r="0.5" fill="#7fcdb0"/><circle cx="109.7" cy="288.7" r="0.5" fill="#7fcdb0"/><circle cx="104.7" cy="351.9" r="0.5" fill="#7fcdb0"/><circle cx="92.2" cy="298.3" r="0.5" fill="#7fcdb0"/><circle cx="101.9" cy="280.9" r="0.5" fill="#7fcdb0"/><circle cx="119.4" cy="316.2" r="0.5" fill="#7fcdb0"/><circle cx="113.1" cy="302.2" r="0.5" fill="#7fcdb0"/><circle cx="117.2" cy="326.3" r="0.5" fill="#7fcdb0"/><circle cx="118.1" cy="325.6" r="0.5" fill="#7fcdb0"/><circle cx="102.7" cy="350.5" r="0.5" fill="#7fcdb0"/><circle cx="102.8" cy="285.7" r="0.5" fill="#7fcdb0"/><circle cx="101.4" cy="286.0" r="0.5" fill="#7fcdb0"/><circle cx="112.8" cy="303.7" r="0.5" fill="#7fcdb0"/><circle cx="117.4" cy="305.0" r="0.5" fill="#7fcdb0"/><circle cx="94.0" cy="294.9" r="0.5" fill="#7fcdb0"/><circle cx="90.7" cy="305.5" r="0.5" fill="#7fcdb0"/><circle cx="108.7" cy="287.7" r="0.5" fill="#7fcdb0"/><circle cx="118.2" cy="326.4" r="0.5" fill="#7fcdb0"/><circle cx="93.8" cy="348.9" r="0.5" fill="#7fcdb0"/><circle cx="106.6" cy="348.2" r="0.5" fill="#7fcdb0"/><circle cx="96.1" cy="290.8" r="0.5" fill="#7fcdb0"/><circle cx="110.4" cy="287.8" r="0.5" fill="#7fcdb0"/><circle cx="98.8" cy="288.4" r="0.5" fill="#7fcdb0"/><circle cx="92.2" cy="339.7" r="0.5" fill="#7fcdb0"/><circle cx="91.1" cy="304.3" r="0.5" fill="#7fcdb0"/><circle cx="115.4" cy="328.7" r="0.5" fill="#7fcdb0"/><circle cx="97.1" cy="289.8" r="0.5" fill="#7fcdb0"/><circle cx="102.7" cy="284.2" r="0.5" fill="#7fcdb0"/><circle cx="114.4" cy="298.5" r="0.5" fill="#7fcdb0"/><circle cx="88.8" cy="325.8" r="0.5" fill="#7fcdb0"/><circle cx="109.9" cy="286.8" r="0.5" fill="#7fcdb0"/><circle cx="93.9" cy="292.0" r="0.5" fill="#7fcdb0"/><circle cx="95.3" cy="296.5" r="0.5" fill="#7fcdb0"/><circle cx="119.7" cy="309.4" r="0.5" fill="#7fcdb0"/><circle cx="89.5" cy="320.7" r="0.5" fill="#7fcdb0"/><circle cx="104.9" cy="352.6" r="0.5" fill="#7fcdb0"/><circle cx="90.9" cy="311.4" r="0.5" fill="#7fcdb0"/><circle cx="106.8" cy="286.9" r="0.5" fill="#7fcdb0"/><circle cx="112.4" cy="295.7" r="0.5" fill="#7fcdb0"/><circle cx="95.1" cy="295.3" r="0.5" fill="#7fcdb0"/><circle cx="98.8" cy="290.1" r="0.5" fill="#7fcdb0"/><circle cx="100.2" cy="287.3" r="0.5" fill="#7fcdb0"/><circle cx="112.9" cy="304.6" r="0.5" fill="#7fcdb0"/><circle cx="110.4" cy="337.1" r="0.5" fill="#7fcdb0"/><circle cx="93.8" cy="295.1" r="0.5" fill="#7fcdb0"/><circle cx="92.4" cy="349.3" r="0.5" fill="#7fcdb0"/><circle cx="109.3" cy="288.0" r="0.5" fill="#7fcdb0"/><circle cx="104.8" cy="287.2" r="0.5" fill="#7fcdb0"/><circle cx="101.1" cy="280.4" r="0.5" fill="#7fcdb0"/><circle cx="101.5" cy="284.2" r="0.5" fill="#7fcdb0"/><circle cx="100.8" cy="357.0" r="0.5" fill="#7fcdb0"/><circle cx="101.9" cy="282.8" r="0.5" fill="#7fcdb0"/><circle cx="93.5" cy="293.3" r="0.5" fill="#7fcdb0"/><circle cx="106.9" cy="343.3" r="0.5" fill="#7fcdb0"/><circle cx="117.6" cy="322.9" r="0.5" fill="#7fcdb0"/><circle cx="95.0" cy="355.4" r="0.5" fill="#7fcdb0"/><circle cx="102.0" cy="355.1" r="0.5" fill="#7fcdb0"/><circle cx="101.0" cy="282.5" r="0.5" fill="#7fcdb0"/><circle cx="101.8" cy="283.5" r="0.5" fill="#7fcdb0"/><circle cx="103.1" cy="355.4" r="0.5" fill="#7fcdb0"/><circle cx="120.4" cy="311.8" r="0.5" fill="#7fcdb0"/><circle cx="98.7" cy="287.6" r="0.5" fill="#7fcdb0"/><circle cx="114.5" cy="301.7" r="0.5" fill="#7fcdb0"/><circle cx="103.5" cy="349.3" r="0.5" fill="#7fcdb0"/><circle cx="103.5" cy="282.3" r="0.5" fill="#7fcdb0"/><circle cx="91.4" cy="347.6" r="0.5" fill="#7fcdb0"/><circle cx="115.7" cy="304.2" r="0.5" fill="#7fcdb0"/><circle cx="94.5" cy="295.6" r="0.5" fill="#7fcdb0"/><circle cx="95.1" cy="359.4" r="0.5" fill="#7fcdb0"/><circle cx="109.6" cy="288.2" r="0.5" fill="#7fcdb0"/><circle cx="94.7" cy="298.5" r="0.5" fill="#7fcdb0"/><circle cx="112.8" cy="335.8" r="0.5" fill="#7fcdb0"/><circle cx="100.5" cy="286.4" r="0.5" fill="#7fcdb0"/><circle cx="120.5" cy="319.7" r="0.5" fill="#7fcdb0"/><circle cx="115.8" cy="310.2" r="0.5" fill="#7fcdb0"/><circle cx="91.5" cy="302.1" r="0.5" fill="#7fcdb0"/><circle cx="92.8" cy="301.9" r="0.5" fill="#7fcdb0"/><circle cx="113.4" cy="336.3" r="0.5" fill="#7fcdb0"/><circle cx="100.7" cy="358.2" r="0.5" fill="#7fcdb0"/>
<path d="M108.0 308.2h0M107.2 293.6h0M98.8 332.4h0M107.3 312.9h0M98.1 295.4h0M114.9 320.4h0M102.0 328.9h0M93.1 345.4h0M109.0 297.8h0M103.6 330.1h0M118.0 318.4h0M111.3 334.4h0M105.4 293.4h0M105.9 300.3h0M106.8 297.9h0M94.6 318.7h0M103.7 332.1h0M105.5 343.8h0M98.0 360.8h0M108.9 334.9h0M110.7 293.7h0M97.0 344.1h0M112.7 306.2h0M108.8 319.2h0M95.0 294.6h0M99.3 305.7h0M101.6 355.1h0M95.9 342.8h0M97.9 300.8h0M103.6 321.1h0M97.5 344.1h0M98.7 355.0h0M112.2 326.6h0M93.1 345.2h0M106.5 341.3h0M94.7 320.8h0M96.9 300.1h0M97.4 345.5h0M96.5 307.1h0M95.2 345.4h0M92.5 344.9h0M106.3 324.3h0M107.3 308.9h0M98.7 298.2h0M92.7 346.0h0M118.5 320.5h0M119.6 313.5h0M115.2 315.5h0M113.3 304.2h0M115.2 325.8h0M101.3 288.6h0M101.3 344.0h0M107.8 309.0h0M107.7 331.9h0M101.5 331.3h0M96.1 313.5h0M108.3 298.3h0M98.7 319.7h0M95.5 338.7h0M104.7 299.4h0M115.9 313.9h0M95.3 297.3h0M99.2 299.1h0M102.5 297.2h0M93.7 315.2h0M97.3 299.5h0M114.0 308.7h0M96.3 336.8h0M105.2 300.5h0M104.2 338.7h0M107.5 334.7h0M99.4 335.9h0M90.3 316.3h0M100.8 287.7h0M97.4 305.8h0M101.8 303.4h0M92.3 309.2h0M110.3 311.5h0M97.6 324.2h0M117.1 325.1h0M100.9 287.4h0M93.5 319.5h0M95.3 309.5h0M102.0 331.9h0M100.1 311.4h0M91.1 311.0h0M110.8 301.7h0M103.5 345.5h0M97.8 341.4h0M106.5 296.5h0M106.3 289.6h0M113.8 318.7h0M111.1 318.3h0M92.7 334.9h0M100.1 349.8h0M104.7 307.2h0M95.5 339.0h0M105.0 314.8h0M100.4 317.7h0M108.0 312.7h0M102.8 298.2h0M101.2 349.7h0M107.0 319.6h0M96.7 324.5h0M104.4 332.5h0M110.2 322.2h0M117.5 310.1h0M95.8 299.2h0M111.6 307.5h0M96.7 342.1h0M96.0 313.3h0M116.9 325.2h0M102.2 282.5h0M111.1 316.9h0M100.0 333.6h0M109.6 300.3h0M119.5 317.6h0M94.9 304.5h0M99.6 340.0h0M107.4 336.6h0M109.8 337.4h0" stroke="#5dbf9c" stroke-width="1" stroke-linecap="round" fill="none"/>
<path d="M104.8 323.3h0M98.8 296.0h0M99.3 309.6h0M103.9 289.5h0M105.2 303.0h0M96.0 325.0h0M114.3 314.0h0M106.4 310.1h0M106.4 317.0h0M92.1 335.8h0M101.0 324.4h0M97.4 333.7h0M106.6 342.0h0M109.9 298.6h0M99.1 358.0h0M113.1 309.1h0M110.2 302.2h0M114.3 319.8h0M93.4 339.4h0M99.8 341.0h0M97.1 292.2h0M96.0 350.0h0M113.3 326.0h0M102.5 300.6h0M105.6 343.3h0M106.9 332.6h0M93.0 324.5h0M93.6 352.1h0M102.2 346.9h0M111.0 335.2h0M102.2 304.5h0M107.6 295.3h0M99.8 343.1h0M116.5 322.3h0M102.8 325.0h0M112.1 303.6h0M105.7 317.2h0M105.6 293.2h0M110.0 332.5h0M98.5 323.7h0M101.2 335.9h0M111.3 320.8h0M93.6 333.8h0M99.2 341.0h0M97.5 329.7h0M101.2 306.8h0M97.1 303.1h0M97.8 309.8h0M105.1 334.5h0M106.0 311.2h0M103.0 299.3h0M97.2 310.4h0M112.8 317.3h0M111.0 306.7h0M98.4 342.2h0M111.7 316.6h0M94.7 300.9h0M95.5 312.2h0M96.3 312.4h0M114.1 317.3h0M101.9 326.1h0M102.3 297.6h0M93.9 309.2h0M101.8 311.1h0M100.4 356.3h0M100.3 289.9h0M107.5 305.9h0M101.5 343.7h0M105.1 296.8h0M98.4 308.4h0M95.7 359.0h0M104.0 333.4h0M107.2 302.0h0M98.5 359.9h0M102.5 329.2h0M108.0 291.2h0M104.7 339.0h0M91.4 325.3h0M102.1 302.2h0M103.0 325.1h0M97.2 359.8h0M100.0 293.7h0M96.1 295.5h0M100.4 291.0h0M114.9 311.5h0M109.0 304.4h0M94.1 309.6h0M108.9 304.3h0M114.2 321.2h0M96.3 300.2h0M112.6 325.1h0M102.8 342.2h0M94.3 354.1h0M102.5 332.5h0M99.5 344.2h0M118.7 312.4h0M101.9 339.3h0M113.8 316.1h0M106.3 321.5h0M102.0 315.3h0M110.3 320.5h0M93.4 329.4h0M108.2 317.0h0M99.0 305.9h0M95.4 300.1h0M100.9 320.1h0M99.5 312.3h0M102.4 339.1h0M95.0 337.2h0M96.8 303.3h0M106.8 333.1h0M91.1 320.1h0M100.4 308.5h0M118.6 316.8h0M106.7 346.3h0M96.0 302.7h0M111.5 316.5h0M116.7 319.3h0M93.6 311.2h0M96.5 338.4h0M99.3 293.1h0M105.5 302.3h0M96.7 344.0h0M105.6 322.3h0M117.3 318.0h0M111.1 306.7h0M97.7 330.0h0M108.5 304.7h0M98.7 290.4h0M104.8 325.2h0M91.4 321.8h0M96.5 310.4h0M99.9 304.4h0M97.1 325.8h0M100.5 349.4h0M110.9 321.6h0M112.4 327.3h0M116.2 319.7h0M105.2 313.5h0M99.0 322.1h0M114.0 328.7h0M95.5 322.4h0M96.8 318.6h0M104.4 318.8h0M98.1 326.6h0M108.8 295.3h0M96.3 332.3h0" stroke="#f2fbf7" stroke-width="1" stroke-linecap="round" fill="none"/>
<path d="M102.9 310.1h0M107.7 332.2h0M98.1 315.3h0M109.8 332.0h0M96.8 329.1h0M99.8 291.6h0M99.2 318.4h0M116.3 307.4h0M104.3 312.9h0M106.7 329.3h0M97.9 326.8h0M98.6 316.3h0M100.8 326.4h0M117.0 316.6h0M108.7 323.9h0M108.9 325.7h0M112.4 328.2h0M111.3 323.5h0M104.6 333.3h0M94.2 351.2h0M100.8 341.1h0M110.2 321.7h0M104.5 342.0h0M107.1 345.6h0M91.8 335.9h0M93.0 349.5h0M101.9 319.5h0M106.6 296.1h0M103.5 307.9h0M98.9 335.4h0M107.0 289.7h0M95.6 307.6h0M96.1 336.2h0M91.7 330.1h0M102.9 333.5h0M105.6 313.6h0M97.1 315.4h0M107.3 337.4h0M108.5 312.8h0M100.5 315.1h0M105.2 342.7h0M110.0 328.0h0M94.9 345.6h0M90.4 314.4h0M98.7 314.3h0M100.7 288.0h0M104.6 331.8h0M102.7 306.2h0M102.0 281.6h0M101.7 353.2h0M96.9 352.3h0M103.4 350.0h0M104.3 324.0h0M100.5 299.6h0M94.0 352.1h0M95.3 321.8h0M100.0 340.1h0M98.6 358.3h0M108.2 322.7h0M93.1 322.1h0M93.1 312.5h0M91.4 312.0h0M99.4 319.0h0M98.8 302.2h0M112.4 301.0h0M112.5 322.4h0M102.5 326.5h0M97.4 358.6h0M93.1 299.0h0M104.9 291.4h0M95.1 335.6h0M108.1 308.7h0M116.1 316.9h0M113.1 308.5h0M111.8 316.4h0M114.5 304.7h0M109.0 320.0h0M105.7 348.0h0M117.5 311.9h0M110.2 325.8h0M116.9 320.7h0M104.0 315.0h0M103.7 349.2h0M99.5 297.6h0M95.0 359.3h0M96.7 316.9h0M109.5 319.5h0M102.7 289.8h0M98.9 335.3h0M92.7 334.4h0M111.7 304.4h0M108.2 296.5h0M102.1 329.4h0M104.6 344.7h0M94.5 342.2h0M110.5 338.5h0M110.0 312.0h0M92.6 308.2h0M96.0 319.3h0M95.1 353.8h0M106.0 290.5h0M107.2 320.0h0M98.5 342.8h0M110.9 325.8h0M115.2 324.3h0M109.1 319.0h0M97.4 305.7h0M111.1 306.2h0M102.9 299.3h0M101.3 325.6h0M108.2 320.5h0M95.9 315.9h0M109.8 331.9h0M99.9 340.5h0M94.9 332.5h0M100.5 356.0h0M99.3 330.7h0M113.9 327.6h0M104.9 301.3h0M110.7 312.6h0M97.9 336.6h0M111.6 317.9h0M96.8 322.4h0M109.3 324.2h0M113.8 324.8h0M104.3 301.3h0M110.9 337.4h0M92.8 336.0h0M109.2 318.5h0M103.9 297.4h0M115.3 329.5h0M98.8 355.4h0" stroke="#62c3a2" stroke-width="1" stroke-linecap="round" fill="none"/>
<path d="M114.2 331.0h0M114.6 304.7h0M103.4 330.5h0M110.4 335.8h0M97.2 313.5h0M98.5 344.6h0M103.7 299.7h0M107.9 301.4h0M93.6 328.8h0M116.0 313.2h0M105.7 326.9h0M96.6 304.1h0M95.7 294.9h0M100.4 334.8h0M109.5 326.3h0M97.6 355.2h0M99.1 307.0h0M95.9 335.0h0M96.4 348.9h0M102.6 307.5h0M116.0 313.9h0M93.1 308.9h0M107.6 297.5h0M102.9 294.8h0M94.0 337.2h0M104.0 297.9h0M106.7 293.6h0M94.0 315.3h0M98.9 304.5h0M106.4 344.4h0M104.7 305.5h0M97.0 301.7h0M105.1 328.0h0M98.7 298.9h0M91.0 323.4h0M95.8 337.9h0M108.2 299.6h0M100.5 355.7h0M103.6 324.0h0M111.9 332.2h0M98.1 339.2h0M99.5 326.7h0M102.8 332.2h0M91.2 312.6h0M96.1 327.5h0M106.9 304.2h0M98.8 332.0h0M101.4 291.1h0M115.1 305.9h0M93.0 321.6h0M98.4 311.4h0M113.6 317.3h0M107.9 339.9h0M97.8 359.5h0M104.2 346.1h0M105.0 337.3h0M97.5 331.1h0M97.8 358.0h0M98.8 346.6h0M107.4 340.4h0M110.3 330.5h0M100.6 342.1h0M113.8 312.3h0M106.9 290.4h0M109.7 340.3h0M105.5 291.2h0M93.6 304.9h0M98.8 312.2h0M92.1 316.4h0M108.4 317.6h0M100.9 352.0h0M118.1 322.5h0M107.9 328.9h0M105.5 303.2h0M100.0 293.5h0M115.9 316.0h0M99.8 300.8h0M105.5 341.8h0M103.1 311.5h0M107.0 308.5h0M98.8 323.7h0M106.0 328.7h0M91.2 336.6h0M104.9 310.9h0M112.3 335.0h0M117.4 324.4h0M108.9 329.5h0M113.1 312.9h0M93.1 304.3h0M100.8 340.6h0M96.7 331.9h0M91.8 314.3h0M115.4 307.7h0M108.4 328.8h0M109.2 309.0h0M107.2 299.5h0M108.4 342.5h0M92.5 338.5h0M97.2 313.4h0M115.0 312.4h0M99.4 305.5h0M100.7 297.7h0M96.1 341.9h0M109.3 309.5h0M96.6 342.4h0M119.9 314.5h0M100.2 331.6h0M98.8 324.2h0M103.7 320.0h0M97.5 349.2h0M107.7 300.5h0M115.6 308.9h0M101.8 322.2h0M117.0 320.3h0M101.7 350.9h0M94.1 319.9h0M93.6 345.7h0M119.8 314.8h0M105.4 289.0h0M95.1 315.7h0M103.7 323.1h0M95.9 300.0h0M99.3 355.7h0M108.3 317.0h0M106.4 315.1h0M106.0 338.3h0M96.0 330.6h0M107.9 313.0h0M103.1 337.6h0M105.9 297.7h0M99.0 302.4h0M110.1 332.3h0M99.8 299.3h0M110.7 337.3h0M101.8 318.7h0M95.6 345.7h0M99.8 304.2h0M113.3 326.0h0M100.7 342.8h0M93.2 329.9h0M101.3 349.1h0M95.6 327.3h0M109.0 306.5h0M90.8 324.0h0M92.5 313.0h0M107.1 335.2h0M95.9 351.6h0M90.8 313.5h0M117.7 312.4h0M119.1 311.8h0M95.3 350.5h0M104.2 313.4h0M101.0 297.1h0M118.9 315.9h0M92.9 332.0h0M107.4 339.3h0M96.9 312.1h0M96.8 323.0h0M91.6 318.0h0M98.3 308.0h0M103.7 295.5h0M103.6 348.9h0M109.1 289.5h0M108.1 316.4h0M114.5 312.6h0M108.5 310.6h0M101.2 325.8h0M95.9 343.5h0M100.4 311.0h0M93.7 299.9h0M101.8 289.8h0M103.7 348.3h0M110.2 326.9h0M104.1 289.3h0M102.1 284.2h0M105.0 328.3h0M102.9 334.3h0M102.3 289.8h0M98.6 335.5h0M99.8 300.9h0M100.4 344.0h0M105.4 296.5h0M119.6 313.1h0M103.6 327.3h0M102.9 352.8h0M100.0 297.6h0M99.1 295.8h0M100.5 326.7h0M114.7 324.7h0M107.0 325.7h0M104.3 350.0h0M115.9 318.9h0M103.0 330.3h0M105.5 331.8h0M115.0 330.3h0M94.1 349.6h0M91.6 306.5h0M106.5 307.1h0M96.5 296.9h0M97.5 306.0h0M97.4 312.5h0M100.2 346.5h0M99.7 337.4h0M98.8 355.1h0M93.5 347.6h0M96.8 333.3h0M103.0 311.2h0M97.8 357.0h0M97.4 345.7h0M109.1 326.5h0M90.1 314.6h0M99.7 304.7h0M102.8 340.0h0M99.0 320.7h0M102.2 287.2h0M105.9 343.3h0M95.3 356.6h0M99.8 299.6h0M95.5 334.7h0M101.3 310.9h0M103.6 317.0h0M110.7 295.8h0M92.6 338.9h0M114.6 322.4h0M96.8 359.4h0M114.1 304.3h0M118.8 318.2h0M114.1 307.2h0M95.4 322.6h0M116.4 314.4h0M97.0 305.6h0M92.5 329.1h0M109.2 306.2h0M102.4 348.8h0M115.6 315.9h0M97.0 291.5h0M113.4 319.7h0M101.9 330.4h0M98.0 316.3h0M96.9 345.1h0M118.6 312.2h0M111.1 334.6h0M103.8 309.8h0M100.9 341.8h0M98.7 314.0h0M111.5 311.0h0M103.2 315.9h0M97.9 308.9h0M90.6 319.7h0M103.0 306.0h0M113.1 330.5h0M102.6 319.6h0M100.0 337.8h0M113.9 328.2h0M109.2 293.4h0M112.1 315.6h0M109.7 291.4h0M111.1 312.6h0M97.9 330.8h0M113.6 315.0h0M100.9 353.6h0M101.3 285.8h0M105.3 328.0h0M114.0 312.3h0M94.2 314.1h0M106.5 335.4h0M95.3 308.1h0M93.9 314.3h0M95.1 351.5h0M95.2 357.3h0M108.6 315.8h0M98.5 323.2h0M113.8 306.0h0M97.7 360.4h0M103.3 303.0h0M94.1 301.4h0M97.4 342.7h0M110.7 329.0h0M112.7 309.1h0M107.3 312.8h0M110.5 324.7h0M96.7 346.4h0M109.2 317.7h0M95.2 353.4h0M92.8 338.7h0M97.9 290.9h0M93.7 300.3h0M113.4 319.5h0M95.9 348.8h0M94.1 344.5h0M92.4 304.1h0M113.7 329.4h0M108.7 323.6h0M109.5 333.1h0M98.0 343.6h0M92.5 340.7h0M104.9 332.5h0M109.7 330.9h0M90.5 321.2h0M101.0 293.5h0M103.8 314.0h0M112.0 316.8h0M112.8 304.6h0M92.6 315.5h0M106.8 331.6h0M104.9 340.1h0M102.8 314.3h0M90.9 310.1h0M98.3 290.2h0M92.5 304.9h0M103.0 293.3h0M91.6 335.2h0M105.6 323.7h0M110.1 330.6h0M112.9 329.9h0M102.5 350.8h0M113.8 306.7h0M105.7 341.5h0M117.3 320.4h0M96.1 311.8h0M95.1 300.2h0M101.8 317.9h0M108.5 336.6h0M116.6 308.6h0M91.8 338.5h0M99.8 307.9h0M105.1 303.6h0M99.9 297.3h0M93.4 343.1h0M94.7 333.4h0M109.0 303.0h0M94.5 333.3h0M107.6 340.6h0M99.2 340.0h0M111.3 323.6h0M103.2 316.7h0M102.1 346.2h0M105.3 339.6h0M102.8 295.1h0M98.1 356.6h0M111.1 325.7h0M95.3 342.2h0M93.4 322.3h0M92.9 309.1h0M99.8 357.2h0M100.2 302.8h0M96.4 328.7h0M116.2 312.3h0M101.8 288.9h0M95.0 332.8h0M95.7 335.4h0M96.1 351.9h0M113.5 304.4h0M92.7 308.7h0M109.5 306.3h0M113.8 324.9h0M102.5 328.0h0M108.5 323.4h0M110.2 290.0h0M106.7 322.0h0M96.3 354.5h0M104.2 347.0h0M92.5 312.2h0M102.9 332.4h0M108.3 321.4h0M96.8 355.7h0M100.4 321.3h0M95.4 356.7h0M95.0 323.3h0M101.9 342.9h0M97.6 328.6h0M99.2 329.2h0M117.3 316.1h0M101.6 293.7h0M106.7 315.4h0M104.5 320.0h0M95.2 336.4h0M102.1 315.0h0M110.8 335.9h0M111.0 315.6h0M97.7 323.4h0M106.9 303.4h0M99.4 321.0h0M92.9 338.7h0M101.5 325.5h0M100.7 324.7h0M114.0 313.8h0M110.2 311.2h0M93.3 316.1h0M104.9 335.4h0M100.6 291.7h0M98.3 316.5h0M94.0 334.0h0M104.6 315.5h0M96.7 336.3h0M101.2 285.8h0M115.6 310.6h0M91.9 309.8h0M96.2 352.0h0M103.7 320.7h0M95.4 336.6h0M102.6 315.8h0M109.2 339.2h0M98.0 349.5h0M106.9 327.0h0M97.5 301.1h0M109.1 301.9h0M112.7 304.5h0M106.7 311.0h0M97.0 335.1h0M90.2 312.6h0M95.5 353.9h0M99.8 314.1h0M106.0 301.0h0M110.5 308.4h0M94.5 338.5h0M107.7 330.7h0" stroke="#ffffff" stroke-width="1" stroke-linecap="round" fill="none"/>
<path d="M95.9 350.3h0M95.2 325.1h0M95.7 354.8h0M91.6 331.1h0M113.9 311.3h0M98.1 328.5h0M112.3 333.1h0M109.1 295.6h0M93.4 345.1h0M115.9 313.2h0M97.8 335.7h0M107.7 318.1h0M102.4 325.8h0M114.3 330.9h0M106.9 313.7h0M118.1 320.9h0M97.9 338.8h0M110.0 334.2h0M110.8 332.3h0M101.7 319.5h0M98.8 295.8h0M106.9 334.6h0M104.0 342.7h0M96.0 317.6h0M96.3 352.6h0M98.5 303.4h0M105.6 324.4h0M101.8 336.1h0M108.5 339.5h0M100.3 301.5h0M108.5 306.9h0M102.6 340.8h0M98.2 291.6h0M94.9 335.7h0M101.4 303.5h0M92.4 310.2h0M92.4 336.2h0M96.0 294.3h0M105.8 291.9h0M99.1 319.4h0M104.0 312.9h0M110.4 291.7h0M101.6 325.1h0M99.9 331.2h0M98.9 336.6h0M94.5 344.9h0M95.2 308.0h0M96.7 329.9h0M105.2 323.7h0M104.4 313.1h0M103.6 300.5h0M113.6 304.0h0M108.7 321.0h0M93.9 353.8h0M100.1 290.5h0M101.6 297.5h0M95.8 323.0h0M103.7 335.7h0M105.6 332.5h0M104.7 301.3h0M93.1 333.4h0M104.0 309.2h0M102.3 298.9h0M110.4 318.8h0M101.2 323.2h0M97.7 328.6h0M107.0 325.7h0M103.0 316.4h0M90.5 329.3h0M97.6 313.0h0M108.9 337.7h0M93.5 299.2h0M109.1 333.6h0M107.3 301.4h0M104.3 299.1h0M107.3 302.5h0M90.8 329.1h0M91.5 302.8h0M101.7 330.2h0M96.0 348.3h0M93.3 308.4h0M113.4 322.5h0M110.8 301.4h0M103.7 303.1h0M94.6 294.4h0M104.5 333.2h0M94.1 314.4h0M102.0 320.5h0M104.9 303.0h0M95.7 360.4h0M110.2 316.3h0M114.1 331.1h0M110.1 294.8h0M112.4 316.8h0M95.8 319.7h0M92.2 309.2h0M109.4 312.3h0M93.8 321.3h0M108.4 339.7h0M101.9 340.9h0M95.6 330.7h0M107.7 301.1h0M92.7 317.6h0M97.9 321.0h0M91.9 303.3h0M113.6 307.3h0M115.9 317.9h0M96.5 300.0h0M114.1 328.2h0M96.3 307.8h0M109.9 312.2h0M101.5 301.7h0M97.3 321.5h0M97.0 320.7h0M107.4 307.6h0M101.2 316.0h0M118.0 311.9h0M115.4 327.7h0M97.8 325.5h0M94.4 321.4h0M96.0 350.4h0M91.4 308.8h0M101.2 301.7h0M94.0 306.3h0M102.5 310.7h0M92.1 309.2h0M101.8 286.0h0M111.3 336.5h0M95.9 301.9h0M96.8 328.0h0M99.7 293.9h0M94.6 302.0h0M95.1 294.2h0" stroke="#4fb892" stroke-width="1" stroke-linecap="round" fill="none"/>
<path d="M118.4,281.3C119.2,281.9 120.6,284.7 120.7,286.4C120.7,288.1 119.7,290.0 118.8,291.6C117.8,293.2 115.8,294.3 114.9,296.0C114.0,297.7 113.6,300.9 113.3,301.6C112.9,302.3 112.8,301.7 112.7,300.2C112.5,298.7 112.2,294.9 112.4,292.9C112.5,290.8 113.1,289.3 113.6,287.7C114.2,286.1 114.8,284.3 115.5,283.3C116.3,282.2 117.5,280.8 118.4,281.3Z" fill="#98aad3"/>
<path d="M114.9 286.5h0M117.7 282.6h0M117.8 281.9h0M117.1 282.4h0M119.1 283.9h0M113.0 295.5h0M113.1 299.4h0M118.9 287.3h0M115.9 294.4h0M117.1 286.3h0M118.6 289.2h0M115.0 289.9h0M115.5 292.4h0M116.0 286.8h0M115.6 284.6h0M113.5 296.4h0M118.5 291.7h0M118.7 291.5h0M112.4 293.9h0M115.3 288.3h0M115.1 290.8h0M113.5 296.9h0M114.2 297.4h0M113.7 294.0h0" stroke="#7f93c6" stroke-width="1" stroke-linecap="round" fill="none"/>
<path d="M120.2 287.1h0M117.9 290.1h0M114.9 286.0h0M114.4 291.1h0M116.0 284.4h0M113.0 298.6h0M114.1 288.1h0M118.6 290.5h0M115.8 292.0h0M116.0 287.3h0M119.5 288.8h0M115.2 291.6h0M118.0 284.7h0" stroke="#b7c3e2" stroke-width="1" stroke-linecap="round" fill="none"/>
<path d="M118.3 282.9h0M114.8 288.0h0M116.8 293.6h0M113.4 289.3h0M120.4 285.9h0M112.5 294.3h0M116.5 285.1h0M118.9 287.3h0M115.3 287.0h0M115.7 285.1h0M118.4 290.1h0M115.5 291.5h0M119.1 283.3h0M113.1 295.9h0M114.6 296.1h0M117.4 284.0h0M117.2 290.6h0M118.6 288.3h0M116.1 285.1h0M114.6 288.2h0M114.4 288.3h0M114.3 291.4h0M119.6 287.8h0" stroke="#8da0cb" stroke-width="1" stroke-linecap="round" fill="none"/>
<path d="M114.7 295.4h0M114.9 288.2h0M113.0 297.5h0M115.1 295.4h0M113.1 294.7h0M116.7 290.5h0M120.5 286.7h0M115.2 293.3h0M117.9 287.3h0M118.3 281.8h0" stroke="#ffffff" stroke-width="1" stroke-linecap="round" fill="none"/>
<path d="M44.8,326.5C44.8,325.6 44.7,324.7 44.5,323.9C44.3,323.1 43.9,322.3 43.6,321.6C43.2,321.0 42.7,320.5 42.2,320.2C41.7,319.8 41.2,319.6 40.6,319.6C40.1,319.6 39.5,319.8 39.0,320.2C38.5,320.5 38.1,321.0 37.7,321.6C37.3,322.3 37.0,323.1 36.8,323.9C36.6,324.7 36.5,325.6 36.5,326.5C36.5,327.4 36.6,328.3 36.8,329.1C37.0,329.9 37.3,330.7 37.7,331.3C38.1,331.9 38.5,332.5 39.0,332.8C39.5,333.1 40.1,333.3 40.6,333.3C41.2,333.3 41.7,333.1 42.2,332.8C42.7,332.5 43.2,331.9 43.6,331.3C43.9,330.7 44.3,329.9 44.5,329.1C44.7,328.3 44.8,327.4 44.8,326.5Z" fill="#f08d66"/>
<path d="M41.3 323.1h0M42.5 331.7h0M41.1 322.1h0M41.8 331.1h0M44.4 324.3h0M38.4 329.2h0M37.4 324.3h0M37.7 324.7h0M42.3 320.3h0M41.1 328.2h0M38.8 324.3h0M38.5 322.0h0M40.6 327.2h0" stroke="#ffffff" stroke-width="1" stroke-linecap="round" fill="none"/>
<path d="M39.6 330.6h0M39.2 328.2h0M42.9 331.8h0M44.0 328.7h0M41.0 325.8h0M40.8 329.7h0M43.5 330.4h0M42.4 323.2h0M42.3 320.3h0M39.7 320.6h0M39.7 323.5h0M37.1 326.6h0M43.0 329.6h0M36.9 328.2h0M40.0 330.9h0M38.3 326.8h0" stroke="#f7ad8e" stroke-width="1" stroke-linecap="round" fill="none"/>
<path d="M43.1 329.7h0M39.8 323.7h0M43.9 324.7h0M39.6 324.2h0M40.8 327.9h0M37.9 326.4h0M41.8 325.1h0M36.7 327.3h0M42.5 329.2h0M40.8 325.7h0M41.5 324.7h0" stroke="#e8784e" stroke-width="1" stroke-linecap="round" fill="none"/>
<line x1="41.4" y1="317.5" x2="46.0" y2="304.9" stroke="#f08d66" stroke-width="0.7" stroke-dasharray="0.9 0.7" stroke-opacity="0.75"/>
<circle cx="95.8" cy="262.8" r="0.6" fill="#c8c8c8"/>
<circle cx="48.6" cy="329.7" r="0.5" fill="#9aaad0"/>
<circle cx="50.9" cy="327.6" r="0.5" fill="#9aaad0"/>
<text x="173.9" y="256.2" font-size="8.3" text-anchor="middle" fill="#333" font-weight="normal" stroke="#333" stroke-width="0.18" textLength="30.1" lengthAdjust="spacingAndGlyphs">IfngRKO</text>
<line x1="127.3" y1="366.5" x2="220.5" y2="366.5" stroke="#1a1a1a" stroke-width="1"/>
<line x1="133.55" y1="366.5" x2="133.55" y2="369" stroke="#1a1a1a" stroke-width="0.8"/>
<text x="131.95" y="378" font-size="6.3" text-anchor="middle" fill="#333" font-weight="normal" stroke="#333" stroke-width="0.18">−15</text>
<line x1="153.4" y1="366.5" x2="153.4" y2="369" stroke="#1a1a1a" stroke-width="0.8"/>
<text x="151.8" y="378" font-size="6.3" text-anchor="middle" fill="#333" font-weight="normal" stroke="#333" stroke-width="0.18">−10</text>
<line x1="173.25" y1="366.5" x2="173.25" y2="369" stroke="#1a1a1a" stroke-width="0.8"/>
<text x="171.65" y="378" font-size="6.3" text-anchor="middle" fill="#333" font-weight="normal" stroke="#333" stroke-width="0.18">−5</text>
<line x1="193.1" y1="366.5" x2="193.1" y2="369" stroke="#1a1a1a" stroke-width="0.8"/>
<text x="193.1" y="378" font-size="6.3" text-anchor="middle" fill="#333" font-weight="normal" stroke="#333" stroke-width="0.18">0</text>
<line x1="212.95" y1="366.5" x2="212.95" y2="369" stroke="#1a1a1a" stroke-width="0.8"/>
<text x="212.95" y="378" font-size="6.3" text-anchor="middle" fill="#333" font-weight="normal" stroke="#333" stroke-width="0.18">5</text>
<path d="M198.2,280.1C198.6,280.1 198.4,287.2 199.5,288.7C200.5,290.2 203.4,288.1 204.5,289.0C205.7,289.9 205.9,291.7 206.5,294.1C207.0,296.4 206.6,300.5 207.7,303.1C208.9,305.6 212.3,307.3 213.5,309.4C214.6,311.5 214.8,313.4 214.7,315.8C214.6,318.1 213.9,320.3 212.8,323.5C211.8,326.6 209.9,331.1 208.4,334.9C206.9,338.7 205.7,342.5 203.9,346.4C202.1,350.2 199.3,355.1 197.5,357.8C195.7,360.5 194.3,363.1 193.1,362.8C191.9,362.6 191.4,359.7 190.6,356.5C189.7,353.3 188.8,348.4 188.0,343.8C187.3,339.1 186.5,333.2 186.1,328.5C185.7,323.8 185.4,319.6 185.5,315.8C185.6,311.9 186.0,308.8 186.7,305.6C187.5,302.4 188.5,299.2 189.9,296.7C191.3,294.1 193.8,291.6 195.0,290.3C196.2,288.9 196.5,290.4 197.1,288.7C197.6,287.0 197.8,280.1 198.2,280.1Z" fill="#8fd6bd"/>
<path d="M197.1,288.0L198.3,279.7L199.5,288.0Z" fill="#8fcfb8"/>
<circle cx="185.7" cy="335.2" r="0.5" fill="#7fcdb0"/><circle cx="186.4" cy="311.0" r="0.5" fill="#7fcdb0"/><circle cx="194.2" cy="360.8" r="0.5" fill="#7fcdb0"/><circle cx="185.9" cy="319.3" r="0.5" fill="#7fcdb0"/><circle cx="189.1" cy="296.6" r="0.5" fill="#7fcdb0"/><circle cx="192.0" cy="359.4" r="0.5" fill="#7fcdb0"/><circle cx="192.9" cy="291.6" r="0.5" fill="#7fcdb0"/><circle cx="202.3" cy="351.9" r="0.5" fill="#7fcdb0"/><circle cx="213.8" cy="308.9" r="0.5" fill="#7fcdb0"/><circle cx="213.0" cy="322.6" r="0.5" fill="#7fcdb0"/><circle cx="189.2" cy="298.5" r="0.5" fill="#7fcdb0"/><circle cx="197.3" cy="357.3" r="0.5" fill="#7fcdb0"/><circle cx="195.8" cy="359.1" r="0.5" fill="#7fcdb0"/><circle cx="197.9" cy="287.3" r="0.5" fill="#7fcdb0"/><circle cx="189.4" cy="344.5" r="0.5" fill="#7fcdb0"/><circle cx="187.7" cy="334.0" r="0.5" fill="#7fcdb0"/><circle cx="211.5" cy="322.1" r="0.5" fill="#7fcdb0"/><circle cx="196.9" cy="286.5" r="0.5" fill="#7fcdb0"/><circle cx="186.6" cy="307.2" r="0.5" fill="#7fcdb0"/><circle cx="191.8" cy="359.0" r="0.5" fill="#7fcdb0"/><circle cx="190.4" cy="359.9" r="0.5" fill="#7fcdb0"/><circle cx="186.3" cy="342.0" r="0.5" fill="#7fcdb0"/><circle cx="189.1" cy="351.8" r="0.5" fill="#7fcdb0"/><circle cx="205.6" cy="295.0" r="0.5" fill="#7fcdb0"/><circle cx="214.2" cy="316.5" r="0.5" fill="#7fcdb0"/><circle cx="198.7" cy="354.8" r="0.5" fill="#7fcdb0"/><circle cx="186.1" cy="309.5" r="0.5" fill="#7fcdb0"/><circle cx="197.6" cy="288.9" r="0.5" fill="#7fcdb0"/><circle cx="185.6" cy="323.4" r="0.5" fill="#7fcdb0"/><circle cx="201.2" cy="288.2" r="0.5" fill="#7fcdb0"/><circle cx="210.4" cy="331.3" r="0.5" fill="#7fcdb0"/><circle cx="201.4" cy="287.7" r="0.5" fill="#7fcdb0"/><circle cx="187.0" cy="337.7" r="0.5" fill="#7fcdb0"/><circle cx="196.6" cy="286.5" r="0.5" fill="#7fcdb0"/><circle cx="189.7" cy="345.1" r="0.5" fill="#7fcdb0"/><circle cx="191.1" cy="295.3" r="0.5" fill="#7fcdb0"/><circle cx="208.6" cy="336.6" r="0.5" fill="#7fcdb0"/><circle cx="186.3" cy="331.8" r="0.5" fill="#7fcdb0"/><circle cx="198.6" cy="355.6" r="0.5" fill="#7fcdb0"/><circle cx="201.6" cy="289.1" r="0.5" fill="#7fcdb0"/><circle cx="195.7" cy="292.2" r="0.5" fill="#7fcdb0"/><circle cx="208.3" cy="304.3" r="0.5" fill="#7fcdb0"/><circle cx="186.9" cy="330.0" r="0.5" fill="#7fcdb0"/><circle cx="186.8" cy="309.9" r="0.5" fill="#7fcdb0"/><circle cx="213.2" cy="309.0" r="0.5" fill="#7fcdb0"/><circle cx="205.5" cy="343.3" r="0.5" fill="#7fcdb0"/><circle cx="204.1" cy="289.5" r="0.5" fill="#7fcdb0"/><circle cx="191.1" cy="298.4" r="0.5" fill="#7fcdb0"/><circle cx="204.8" cy="342.9" r="0.5" fill="#7fcdb0"/><circle cx="194.8" cy="291.6" r="0.5" fill="#7fcdb0"/><circle cx="213.7" cy="325.3" r="0.5" fill="#7fcdb0"/><circle cx="198.1" cy="354.7" r="0.5" fill="#7fcdb0"/><circle cx="207.1" cy="297.4" r="0.5" fill="#7fcdb0"/><circle cx="205.9" cy="343.5" r="0.5" fill="#7fcdb0"/><circle cx="187.9" cy="305.0" r="0.5" fill="#7fcdb0"/><circle cx="200.3" cy="354.1" r="0.5" fill="#7fcdb0"/><circle cx="198.9" cy="290.8" r="0.5" fill="#7fcdb0"/><circle cx="197.9" cy="282.0" r="0.5" fill="#7fcdb0"/><circle cx="196.9" cy="358.0" r="0.5" fill="#7fcdb0"/><circle cx="199.8" cy="281.8" r="0.5" fill="#7fcdb0"/><circle cx="196.2" cy="359.4" r="0.5" fill="#7fcdb0"/><circle cx="197.1" cy="282.1" r="0.5" fill="#7fcdb0"/><circle cx="194.5" cy="361.7" r="0.5" fill="#7fcdb0"/><circle cx="191.0" cy="353.0" r="0.5" fill="#7fcdb0"/><circle cx="205.7" cy="288.2" r="0.5" fill="#7fcdb0"/><circle cx="198.1" cy="289.9" r="0.5" fill="#7fcdb0"/><circle cx="209.0" cy="333.0" r="0.5" fill="#7fcdb0"/><circle cx="207.7" cy="293.2" r="0.5" fill="#7fcdb0"/><circle cx="208.1" cy="301.6" r="0.5" fill="#7fcdb0"/><circle cx="211.1" cy="328.3" r="0.5" fill="#7fcdb0"/><circle cx="206.0" cy="291.6" r="0.5" fill="#7fcdb0"/><circle cx="187.6" cy="342.1" r="0.5" fill="#7fcdb0"/><circle cx="194.2" cy="360.2" r="0.5" fill="#7fcdb0"/><circle cx="208.4" cy="336.3" r="0.5" fill="#7fcdb0"/><circle cx="184.4" cy="317.5" r="0.5" fill="#7fcdb0"/><circle cx="209.4" cy="332.1" r="0.5" fill="#7fcdb0"/><circle cx="205.7" cy="340.0" r="0.5" fill="#7fcdb0"/><circle cx="195.5" cy="290.1" r="0.5" fill="#7fcdb0"/><circle cx="186.0" cy="313.5" r="0.5" fill="#7fcdb0"/><circle cx="186.2" cy="313.2" r="0.5" fill="#7fcdb0"/><circle cx="195.2" cy="288.9" r="0.5" fill="#7fcdb0"/><circle cx="191.5" cy="297.6" r="0.5" fill="#7fcdb0"/><circle cx="208.5" cy="336.1" r="0.5" fill="#7fcdb0"/><circle cx="214.8" cy="317.8" r="0.5" fill="#7fcdb0"/><circle cx="207.3" cy="341.0" r="0.5" fill="#7fcdb0"/><circle cx="206.2" cy="344.3" r="0.5" fill="#7fcdb0"/><circle cx="214.0" cy="312.3" r="0.5" fill="#7fcdb0"/><circle cx="186.8" cy="303.8" r="0.5" fill="#7fcdb0"/><circle cx="206.8" cy="293.0" r="0.5" fill="#7fcdb0"/><circle cx="199.6" cy="354.3" r="0.5" fill="#7fcdb0"/>
<path d="M197.1 346.2h0M198.7 303.9h0M202.9 325.9h0M192.6 303.3h0M200.4 344.1h0M194.0 330.8h0M213.4 319.8h0M210.9 327.0h0M186.7 315.1h0M204.4 299.1h0M209.2 305.9h0M201.4 318.2h0M193.1 347.3h0M198.8 334.5h0M189.3 307.0h0M187.5 307.2h0M204.0 309.7h0M189.8 349.6h0M200.2 303.7h0M193.7 305.5h0M200.2 329.5h0M199.3 341.8h0M207.0 326.9h0M199.4 345.7h0M199.4 330.7h0M188.8 301.0h0M201.7 328.0h0M199.8 298.3h0M196.1 350.0h0M193.6 308.6h0M198.2 302.2h0M200.1 300.7h0M198.3 306.8h0M192.1 346.8h0M204.7 290.0h0M205.6 300.8h0M209.3 332.4h0M201.0 321.8h0M190.5 349.2h0M205.2 297.2h0M193.6 310.3h0M208.2 323.8h0M190.0 300.5h0M198.6 328.5h0M210.8 317.4h0M200.6 347.4h0M203.2 335.9h0M199.6 337.6h0M195.3 322.8h0M198.3 329.9h0M203.7 342.8h0M204.3 336.2h0M197.4 320.7h0M192.6 348.3h0M202.8 323.9h0M197.2 306.3h0M195.3 348.2h0M189.4 336.4h0M201.5 333.8h0M186.8 318.7h0M201.9 325.1h0M205.7 325.9h0M197.1 321.5h0M204.4 314.3h0M194.7 350.2h0M189.9 319.7h0M201.5 290.0h0M188.2 319.8h0M204.1 299.5h0M190.8 333.3h0M201.9 336.0h0M190.0 305.6h0M189.8 321.8h0M192.0 295.4h0M196.0 293.6h0M207.0 336.1h0M198.4 351.2h0M194.8 357.8h0M199.2 312.2h0M197.1 305.5h0M189.4 341.7h0M192.0 344.3h0M189.5 304.2h0M210.3 328.5h0M205.4 314.2h0M193.5 316.1h0M200.4 305.8h0M189.9 332.8h0M200.0 312.6h0M199.2 298.6h0M189.3 309.3h0M197.0 291.0h0M205.7 297.1h0M188.5 312.9h0M197.8 349.3h0M193.3 295.8h0M191.1 351.8h0M201.5 327.4h0M196.1 354.5h0M191.6 337.1h0M197.1 336.4h0M201.0 301.5h0M196.9 290.9h0M209.5 322.5h0M202.9 312.0h0M199.9 335.1h0M203.3 321.0h0M189.0 342.7h0M212.1 320.3h0M208.8 312.3h0M190.5 339.3h0M196.0 310.6h0M207.0 310.6h0M199.8 336.8h0M199.0 335.4h0M204.2 305.8h0M201.2 333.1h0M191.3 298.0h0M213.2 310.5h0M197.7 343.5h0M210.2 309.9h0M192.3 306.7h0M210.9 312.3h0M200.0 298.2h0M196.8 304.5h0M188.4 339.2h0M191.5 306.7h0M202.2 314.7h0M205.7 317.4h0M202.1 307.3h0M197.2 344.6h0M202.9 328.5h0M204.9 307.5h0M206.6 311.6h0M189.3 339.3h0M204.7 293.7h0" stroke="#f2fbf7" stroke-width="1" stroke-linecap="round" fill="none"/>
<path d="M201.3 334.0h0M200.7 291.0h0M198.5 325.8h0M190.6 347.8h0M202.1 327.5h0M200.9 314.8h0M189.7 328.0h0M194.2 345.3h0M203.6 303.4h0M186.3 314.4h0M199.5 309.3h0M202.7 346.5h0M211.2 313.2h0M202.3 342.6h0M192.8 299.5h0M205.1 294.7h0M188.2 327.9h0M200.6 330.8h0M194.8 315.1h0M212.8 312.1h0M194.0 301.2h0M189.1 347.7h0M207.4 307.2h0M201.7 322.2h0M212.3 314.7h0M199.5 318.6h0M194.3 333.8h0M192.9 356.4h0M204.2 331.0h0M205.0 341.4h0M210.9 321.3h0M192.1 334.7h0M193.3 321.5h0M203.7 318.4h0M207.8 332.6h0M210.2 327.6h0M191.7 328.4h0M194.2 330.9h0M191.3 309.0h0M198.4 289.6h0M203.8 300.5h0M208.9 320.7h0M204.3 331.6h0M204.2 312.6h0M192.1 299.5h0M203.5 315.4h0M188.2 329.8h0M187.8 332.9h0M209.0 328.5h0M192.6 322.7h0M198.4 326.4h0M188.6 301.8h0M194.8 313.5h0M203.9 321.1h0M201.9 304.9h0M193.6 339.7h0M201.7 315.9h0M193.1 342.7h0M206.3 294.8h0M212.6 317.2h0M192.7 354.7h0M210.4 310.9h0M201.8 305.5h0M199.0 352.6h0M188.3 312.0h0M201.1 297.6h0M186.1 326.9h0M206.3 321.4h0M202.0 346.0h0M202.1 335.6h0M197.7 320.8h0M205.0 301.6h0M197.2 295.6h0M203.4 293.9h0M188.3 332.6h0M205.0 301.8h0M214.1 313.0h0M202.7 343.3h0M196.0 340.0h0M200.7 295.0h0M201.5 348.0h0M205.8 310.7h0M195.2 343.4h0M198.7 319.8h0M193.0 328.7h0M197.8 334.2h0M188.3 331.6h0M199.4 344.3h0M201.2 308.1h0M193.2 352.2h0M206.4 312.9h0M211.9 315.4h0M209.6 329.9h0M199.9 340.3h0M187.2 336.8h0M201.6 305.3h0M191.7 335.7h0M188.3 335.4h0M203.6 346.9h0M205.7 321.7h0M196.0 353.2h0M195.7 304.8h0M192.5 304.3h0M189.4 322.5h0M195.0 338.7h0M196.4 339.2h0M195.2 317.4h0M195.5 345.0h0M196.3 333.4h0M193.8 346.5h0M205.0 294.0h0M207.2 304.5h0M196.9 307.8h0M189.2 307.6h0M193.2 324.8h0M206.5 297.0h0M207.5 313.6h0M199.5 325.0h0M188.8 320.9h0M197.7 284.5h0M210.5 313.7h0M194.0 339.8h0M194.6 351.1h0M193.9 309.1h0M202.1 312.7h0M204.7 291.8h0M198.8 309.9h0M196.2 301.2h0M207.6 330.4h0M195.2 301.2h0M195.2 310.0h0M188.9 305.8h0M206.0 315.0h0M201.8 294.2h0M203.7 346.4h0M205.8 332.6h0M199.0 348.6h0M193.1 345.4h0M193.0 309.4h0M199.6 335.9h0M196.3 328.9h0M196.9 347.3h0M200.7 325.2h0M191.2 334.0h0M203.6 293.0h0M198.5 303.1h0M209.8 319.4h0M191.5 346.9h0M201.2 315.5h0M206.5 332.1h0M199.3 291.6h0M196.5 337.3h0M194.5 301.8h0M188.9 313.3h0M204.0 310.3h0M193.4 318.0h0M206.8 320.6h0M199.7 336.5h0M190.5 338.7h0M190.2 309.6h0M191.6 339.1h0M199.8 316.3h0M187.0 334.4h0M209.8 305.8h0M200.7 297.6h0M199.8 335.5h0M187.4 318.4h0M187.5 320.1h0M207.3 324.3h0M206.8 306.6h0M213.3 316.3h0M200.5 292.9h0M204.7 324.2h0M204.2 297.2h0M198.1 318.6h0M204.1 316.4h0M206.6 315.4h0M189.1 316.0h0M213.2 309.2h0M201.4 294.1h0M209.5 323.4h0M190.2 345.0h0M198.2 325.3h0M192.0 330.1h0M189.8 303.5h0M194.5 292.3h0M191.6 304.4h0M189.3 326.0h0M204.1 295.6h0M198.4 304.6h0M206.6 304.6h0M198.4 347.3h0M195.1 340.5h0M205.0 321.1h0M196.4 317.0h0M192.2 349.5h0M200.3 304.5h0M207.4 303.4h0M191.1 344.2h0M202.5 345.7h0M196.1 329.4h0M197.4 315.0h0M191.1 322.7h0M192.3 328.6h0M198.2 322.2h0M201.6 319.4h0M192.1 295.7h0M199.2 307.0h0M199.7 314.8h0M192.5 345.7h0M196.7 337.9h0M193.5 357.2h0M192.4 358.7h0M208.0 304.7h0M206.9 322.9h0M210.6 319.8h0M189.3 309.1h0M198.5 306.2h0M186.5 323.2h0M189.7 313.1h0M197.8 305.0h0M189.3 339.0h0M202.2 340.1h0M198.1 284.9h0M205.7 297.5h0M205.0 337.4h0M195.4 317.4h0M205.4 306.7h0M196.0 322.4h0M198.3 291.6h0M194.4 333.3h0M199.1 321.1h0M206.6 323.2h0M193.9 360.4h0M193.3 299.8h0M190.3 353.3h0M186.7 329.1h0M194.7 326.1h0M202.9 293.9h0M205.3 340.4h0M210.7 308.3h0M195.6 331.5h0M197.4 287.4h0M198.9 342.0h0M201.4 290.9h0M195.1 349.6h0M204.8 304.5h0M203.8 316.4h0M192.3 335.5h0M211.5 313.7h0M205.0 337.9h0M205.2 342.1h0M192.0 347.6h0M197.8 315.7h0M203.2 294.5h0M197.0 325.8h0M190.1 349.6h0M205.8 335.2h0M213.0 310.4h0M194.9 339.2h0M194.1 301.5h0M209.6 314.5h0M186.5 327.5h0M196.4 300.0h0M197.6 305.3h0M206.4 305.9h0M207.4 300.9h0M202.7 295.8h0M187.7 340.7h0M195.5 317.9h0M186.1 328.4h0M205.5 332.6h0M198.2 325.0h0M202.3 327.1h0M187.2 319.1h0M212.7 316.5h0M205.6 323.3h0M204.1 319.4h0M210.7 310.7h0M193.1 360.2h0M191.6 297.6h0M211.3 311.5h0M198.3 288.0h0M196.4 348.8h0M198.2 311.5h0M193.4 317.1h0M204.1 290.1h0M199.7 340.0h0M203.4 309.7h0M205.6 325.4h0M207.3 333.3h0M186.3 324.7h0M188.8 347.0h0M205.6 293.9h0M201.7 339.2h0M210.0 316.9h0M190.0 324.8h0M191.1 357.2h0M188.1 305.2h0M204.4 298.5h0M200.4 328.2h0M204.6 318.8h0M187.5 334.1h0M189.9 297.5h0M198.9 336.3h0M192.3 348.1h0M198.3 306.5h0M212.7 320.8h0M207.5 336.8h0M199.1 307.3h0M192.7 318.6h0M191.0 339.3h0M192.3 325.5h0M205.8 331.0h0M190.6 320.0h0M200.3 299.8h0M210.2 311.7h0M189.9 345.0h0M203.6 337.0h0M205.2 314.2h0M202.4 301.0h0M199.0 300.6h0M196.3 342.5h0M194.4 344.8h0M195.4 335.7h0M196.3 297.2h0M210.9 325.0h0M198.6 326.6h0M192.4 355.4h0M190.5 320.4h0M197.0 296.2h0M197.6 343.3h0M193.8 339.0h0M203.6 306.6h0M199.9 326.3h0M192.6 311.2h0M211.2 316.6h0M201.3 335.9h0M199.0 354.5h0M194.7 351.4h0M209.8 316.2h0M191.0 325.9h0M191.9 337.9h0M203.1 291.6h0M199.1 288.4h0M213.5 312.7h0M200.0 289.7h0M198.9 299.8h0M213.8 314.7h0M194.1 309.8h0M190.9 323.2h0M194.1 298.0h0M196.4 328.8h0M189.3 300.0h0M202.2 290.1h0M192.8 307.9h0M196.8 334.8h0M195.6 334.7h0M190.6 342.0h0M205.7 333.6h0M197.8 324.8h0M190.7 304.3h0M199.2 310.8h0M196.1 340.5h0M189.1 315.6h0M210.2 326.0h0M199.7 349.7h0M205.5 323.2h0M190.0 306.3h0M204.3 338.0h0M213.6 316.8h0M206.0 296.5h0M202.7 315.9h0M201.8 326.0h0M196.3 341.3h0M187.8 314.5h0M190.5 330.3h0M191.7 310.3h0M195.0 295.8h0M191.9 297.6h0M188.3 344.1h0M198.8 295.7h0M201.4 311.7h0M193.6 322.0h0M186.9 332.2h0M198.7 331.0h0M209.2 311.8h0M192.4 331.0h0M192.3 353.0h0M206.2 306.5h0M189.5 302.2h0M205.1 331.9h0M198.8 339.1h0M189.0 343.7h0" stroke="#ffffff" stroke-width="1" stroke-linecap="round" fill="none"/>
<path d="M203.7 289.9h0M193.8 359.9h0M197.0 343.9h0M194.0 307.8h0M194.8 293.7h0M192.0 323.7h0M208.5 309.6h0M190.3 319.6h0M197.9 294.3h0M194.8 352.2h0M186.9 305.1h0M200.2 297.4h0M200.1 329.9h0M198.3 308.2h0M203.3 333.1h0M196.7 292.8h0M201.6 333.1h0M198.2 353.0h0M201.8 322.9h0M192.9 350.9h0M186.5 315.2h0M195.3 306.6h0M205.2 318.3h0M193.3 357.1h0M188.0 342.0h0M187.3 330.5h0M204.8 301.4h0M199.4 308.3h0M198.8 302.0h0M195.4 314.8h0M207.2 308.3h0M199.5 300.7h0M199.5 348.8h0M187.4 334.0h0M199.0 351.4h0M191.0 348.0h0M197.4 323.6h0M195.9 310.8h0M190.1 326.2h0M211.0 317.3h0M205.3 319.0h0M201.8 289.6h0M196.6 341.9h0M202.4 303.5h0M198.4 344.7h0M196.9 340.7h0M204.9 340.2h0M197.7 328.5h0M197.8 316.6h0M187.3 335.3h0M194.0 344.8h0M196.5 352.8h0M196.0 326.2h0M188.9 326.2h0M204.4 340.7h0M194.7 342.5h0M206.3 305.1h0M205.6 302.4h0M199.5 289.4h0M207.9 307.0h0M193.3 355.1h0M196.7 315.2h0M194.5 329.9h0M209.1 312.5h0M193.5 353.3h0M194.5 350.0h0M187.5 310.9h0M208.9 327.9h0M198.9 293.3h0M203.6 315.0h0M195.7 297.7h0M205.1 291.7h0M189.6 315.5h0M205.8 294.4h0M203.7 316.7h0M203.3 319.6h0M194.1 300.4h0M208.8 314.9h0M199.9 326.7h0M188.5 332.2h0M206.4 302.0h0M199.2 312.8h0M197.5 294.5h0M204.4 315.3h0M188.5 344.1h0M212.8 308.9h0M203.5 315.8h0M196.4 304.7h0M207.4 303.8h0M203.3 331.1h0M199.9 295.0h0M203.3 328.2h0M204.7 298.1h0M210.0 329.2h0M207.6 314.6h0M187.2 314.9h0M198.1 331.3h0M190.6 322.2h0M195.0 354.0h0M205.7 319.3h0M192.4 321.2h0M205.1 298.8h0M205.9 316.1h0M197.6 316.7h0M187.1 308.0h0M206.2 305.6h0M198.2 288.7h0M211.5 321.7h0M213.1 312.9h0M186.8 326.8h0M204.8 315.4h0M195.9 349.6h0M195.5 290.6h0M191.6 337.3h0M204.8 323.9h0M206.5 314.3h0M187.8 339.7h0M203.0 328.3h0M201.3 316.0h0M193.5 308.1h0M203.5 305.1h0M204.1 304.9h0M196.7 308.6h0M200.5 351.7h0M194.0 329.3h0M189.4 324.8h0M204.4 308.5h0M197.1 307.8h0M197.0 351.2h0M195.6 356.9h0M198.2 285.0h0M188.3 332.3h0M186.4 308.9h0M198.7 293.5h0M192.6 339.5h0M213.8 313.4h0M191.7 321.4h0M191.8 298.4h0M187.7 308.1h0M197.2 306.6h0M195.6 349.1h0M198.7 292.7h0M205.5 297.0h0M192.2 315.5h0M201.9 325.3h0M187.6 336.1h0M197.6 351.1h0M201.2 349.0h0" stroke="#62c3a2" stroke-width="1" stroke-linecap="round" fill="none"/>
<path d="M194.8 319.1h0M207.8 326.7h0M196.7 348.3h0M196.8 330.5h0M186.9 316.6h0M205.2 324.7h0M194.4 307.1h0M210.3 324.4h0M193.6 293.2h0M196.2 294.7h0M199.5 302.1h0M198.0 352.2h0M188.6 301.8h0M188.1 314.1h0M187.8 333.0h0M193.2 334.4h0M187.8 323.5h0M200.3 316.2h0M203.7 316.5h0M205.8 335.4h0M195.3 310.2h0M192.5 312.6h0M199.8 290.5h0M198.8 316.4h0M209.6 309.1h0M192.3 338.4h0M208.0 316.7h0M204.6 325.0h0M186.3 327.5h0M213.0 322.1h0M192.2 356.4h0M207.0 337.0h0M197.9 286.3h0M200.1 340.3h0M201.9 326.2h0M190.5 353.5h0M189.7 323.8h0M188.6 305.5h0M200.6 289.2h0M208.9 328.9h0M189.1 342.5h0M201.7 311.2h0M193.2 301.2h0M189.3 326.8h0M197.7 336.7h0M204.0 291.5h0M199.3 292.8h0M193.6 345.0h0M195.3 296.9h0M202.8 342.7h0M188.4 329.4h0M210.9 322.6h0M198.9 290.9h0M205.8 294.3h0M196.6 355.9h0M190.1 340.5h0M186.7 309.7h0M210.9 327.0h0M201.9 305.9h0M199.8 327.1h0M203.3 323.4h0M189.7 326.6h0M204.0 322.6h0M200.3 328.7h0M208.4 316.9h0M202.8 329.6h0M195.2 352.5h0M196.3 292.7h0M211.4 309.7h0M212.3 308.3h0M202.4 340.4h0M211.1 317.0h0M205.1 294.8h0M206.8 313.6h0M206.0 297.6h0M206.4 335.0h0M189.6 326.6h0M192.5 355.1h0M188.9 336.7h0M191.4 339.7h0M210.2 311.2h0M207.1 327.6h0M210.0 323.2h0M197.9 304.8h0M205.7 304.5h0M196.9 349.3h0M190.7 340.4h0M204.1 344.5h0M200.9 301.0h0M209.2 329.1h0M201.3 328.7h0M196.9 356.9h0M206.9 302.0h0M192.9 350.3h0M206.5 308.7h0M198.9 355.1h0M207.5 325.7h0M190.1 312.4h0M213.5 311.3h0M191.6 327.6h0M206.1 321.2h0M187.0 326.0h0M193.0 331.7h0M190.6 351.2h0M199.7 316.2h0M203.3 305.6h0M188.9 301.1h0M193.2 351.7h0M208.1 334.7h0M204.4 293.5h0M195.3 323.1h0M197.8 293.6h0M192.0 328.4h0M202.8 334.9h0M209.2 311.2h0M193.2 301.6h0M190.4 343.3h0M197.0 318.4h0M199.1 341.4h0M193.2 327.6h0M187.0 333.3h0M205.3 327.1h0M193.2 347.9h0M197.9 307.9h0M190.3 314.8h0M192.6 319.3h0M197.6 323.1h0M191.4 353.1h0M195.0 358.8h0M199.7 309.4h0M203.8 327.4h0M206.4 294.3h0M191.7 308.3h0M197.7 346.8h0M209.1 308.1h0M207.6 329.5h0M188.2 330.2h0M199.0 333.1h0" stroke="#4fb892" stroke-width="1" stroke-linecap="round" fill="none"/>
<path d="M207.1 318.0h0M193.8 315.7h0M188.8 340.2h0M188.3 318.4h0M201.7 328.8h0M202.9 328.4h0M200.5 294.8h0M196.0 304.3h0M201.1 295.2h0M202.2 347.6h0M205.4 299.6h0M200.3 352.3h0M210.2 323.0h0M203.2 293.3h0M203.4 296.3h0M213.0 311.8h0M205.8 304.4h0M212.0 325.5h0M207.4 313.5h0M185.8 320.1h0M190.4 310.0h0M194.4 328.1h0M200.5 325.1h0M190.6 319.3h0M204.6 294.9h0M198.8 333.0h0M204.7 319.0h0M196.2 305.5h0M193.7 319.6h0M188.3 340.0h0M203.8 322.2h0M197.4 345.3h0M196.3 328.1h0M207.1 305.4h0M203.4 291.9h0M188.9 300.6h0M206.8 306.6h0M188.5 344.0h0M199.2 328.3h0M203.1 345.7h0M192.8 293.9h0M189.5 337.4h0M208.4 320.5h0M204.7 319.8h0M208.6 328.7h0M197.7 353.4h0M200.0 307.7h0M196.7 289.9h0M198.9 345.8h0M205.0 315.6h0M191.7 334.0h0M197.4 307.0h0M193.6 337.2h0M201.1 320.3h0M204.3 290.8h0M207.8 334.1h0M202.2 344.1h0M201.4 339.9h0M194.0 355.0h0M195.6 356.7h0M186.6 326.9h0M194.6 357.8h0M200.1 294.9h0M196.1 325.0h0M206.5 331.3h0M197.0 341.7h0M190.0 309.0h0M199.8 301.4h0M210.1 327.6h0M199.5 326.6h0M200.4 290.9h0M206.3 317.8h0M194.9 342.7h0M186.5 325.9h0M191.5 324.3h0M199.7 335.8h0M190.6 302.6h0M207.9 319.9h0M188.4 304.0h0M200.2 330.7h0M205.5 295.8h0M201.8 303.0h0M194.0 351.1h0M200.5 328.0h0M197.8 318.0h0M189.8 351.9h0M189.3 333.7h0M191.5 357.6h0M205.2 336.7h0M195.1 331.9h0M192.7 356.5h0M191.6 355.0h0M192.7 325.9h0M200.8 303.6h0M190.3 346.4h0M194.8 320.6h0M197.3 318.0h0M195.8 333.9h0M205.3 341.9h0M197.0 316.1h0M191.7 354.1h0M203.8 339.0h0M186.8 331.6h0M187.8 337.9h0M206.4 332.4h0M190.6 304.2h0M193.3 339.3h0M188.8 324.2h0M198.5 311.0h0M197.8 283.4h0M200.9 295.5h0M199.6 302.9h0M185.8 321.3h0M193.8 322.7h0M200.5 310.6h0M204.3 301.1h0M199.0 339.1h0M192.2 318.5h0M207.7 303.4h0M201.5 321.6h0M209.3 306.3h0M188.5 314.6h0M198.9 344.7h0M196.7 294.1h0M200.5 340.7h0M205.1 307.0h0M193.5 316.1h0M190.6 306.9h0M203.9 337.2h0M199.7 346.5h0M207.2 334.5h0M195.7 339.2h0M204.2 296.7h0M198.0 282.7h0" stroke="#5dbf9c" stroke-width="1" stroke-linecap="round" fill="none"/>
<path d="M214.5,281.3C215.3,281.9 216.7,284.7 216.8,286.4C216.8,288.1 215.8,290.0 214.9,291.6C213.9,293.2 211.9,294.3 211.0,296.0C210.1,297.7 209.7,300.9 209.4,301.6C209.0,302.3 208.9,301.7 208.8,300.2C208.6,298.7 208.3,294.9 208.5,292.9C208.6,290.8 209.2,289.3 209.7,287.7C210.3,286.1 210.9,284.3 211.6,283.3C212.4,282.2 213.6,280.8 214.5,281.3Z" fill="#98aad3"/>
<path d="M212.6 290.0h0M214.1 282.8h0M211.8 284.5h0M214.7 286.4h0M215.2 288.2h0M211.6 293.8h0M211.2 292.8h0M209.5 293.1h0M215.3 290.1h0M209.8 292.0h0M210.4 295.4h0M215.7 286.4h0M209.6 296.0h0M209.2 299.7h0M210.9 295.5h0M211.2 289.5h0M214.5 291.5h0" stroke="#ffffff" stroke-width="1" stroke-linecap="round" fill="none"/>
<path d="M210.0 297.4h0M215.9 287.4h0M209.4 294.8h0M213.3 284.7h0M210.8 285.4h0M212.2 283.9h0M211.8 286.7h0M210.9 285.2h0M211.6 289.2h0M210.4 288.0h0M212.6 289.6h0M212.7 285.3h0M214.0 289.2h0M213.8 285.6h0M213.2 290.8h0M214.5 289.9h0" stroke="#8da0cb" stroke-width="1" stroke-linecap="round" fill="none"/>
<path d="M214.1 292.0h0M214.7 282.8h0M215.2 287.9h0M211.2 290.7h0M212.2 284.6h0M210.2 289.8h0M212.8 290.5h0M208.7 293.8h0M210.5 290.1h0M210.9 285.4h0M212.8 288.3h0M213.3 286.7h0M214.4 284.6h0M212.1 293.2h0M212.8 292.9h0M208.8 298.7h0M213.4 291.9h0" stroke="#7f93c6" stroke-width="1" stroke-linecap="round" fill="none"/>
<path d="M214.0 284.5h0M208.9 297.9h0M213.7 288.0h0M209.3 297.6h0M210.8 296.1h0M214.7 289.3h0M211.8 284.7h0M210.0 296.5h0M209.0 294.6h0M211.8 286.2h0M214.2 283.2h0M211.0 295.9h0M212.2 293.2h0M213.3 293.2h0M212.5 286.8h0M214.4 291.4h0M210.1 295.9h0M213.1 290.4h0M210.5 291.0h0M215.8 285.2h0" stroke="#b7c3e2" stroke-width="1" stroke-linecap="round" fill="none"/>
<path d="M140.9,326.5C140.9,325.6 140.8,324.7 140.6,323.9C140.4,323.1 140.0,322.3 139.7,321.6C139.3,321.0 138.8,320.5 138.3,320.2C137.8,319.8 137.3,319.6 136.7,319.6C136.2,319.6 135.6,319.8 135.1,320.2C134.6,320.5 134.2,321.0 133.8,321.6C133.4,322.3 133.1,323.1 132.9,323.9C132.7,324.7 132.6,325.6 132.6,326.5C132.6,327.4 132.7,328.3 132.9,329.1C133.1,329.9 133.4,330.7 133.8,331.3C134.2,331.9 134.6,332.5 135.1,332.8C135.6,333.1 136.2,333.3 136.7,333.3C137.3,333.3 137.8,333.1 138.3,332.8C138.8,332.5 139.3,331.9 139.7,331.3C140.0,330.7 140.4,329.9 140.6,329.1C140.8,328.3 140.9,327.4 140.9,326.5Z" fill="#f08d66"/>
<path d="M137.9 328.2h0M136.3 329.6h0M135.5 321.1h0M138.1 322.6h0M135.8 320.7h0M135.5 323.3h0M134.8 328.5h0M135.5 325.6h0M139.1 330.6h0M137.1 329.8h0M135.0 327.0h0M136.9 323.8h0M139.0 331.0h0M137.5 329.6h0M136.7 327.9h0M135.2 324.9h0M137.2 328.5h0M136.7 325.1h0M139.1 321.5h0" stroke="#e8784e" stroke-width="1" stroke-linecap="round" fill="none"/>
<path d="M137.9 324.1h0M133.8 323.4h0M140.5 326.0h0M140.6 328.2h0M137.7 322.6h0M135.9 331.8h0M132.9 327.0h0M137.4 324.0h0" stroke="#ffffff" stroke-width="1" stroke-linecap="round" fill="none"/>
<path d="M135.6 329.5h0M138.9 322.6h0M133.7 322.2h0M136.8 322.8h0M135.8 329.4h0M135.6 332.3h0M136.0 329.1h0M137.7 332.3h0M137.8 325.2h0M134.7 330.3h0M135.9 327.6h0M133.3 325.6h0M136.4 332.3h0" stroke="#f7ad8e" stroke-width="1" stroke-linecap="round" fill="none"/>
<line x1="137.5" y1="317.5" x2="142.1" y2="304.9" stroke="#f08d66" stroke-width="0.7" stroke-dasharray="0.9 0.7" stroke-opacity="0.75"/>
<circle cx="191.9" cy="262.8" r="0.6" fill="#c8c8c8"/>
<circle cx="144.7" cy="329.7" r="0.5" fill="#9aaad0"/>
<circle cx="147.0" cy="327.6" r="0.5" fill="#9aaad0"/>
<text x="270.75" y="256.2" font-size="8.3" text-anchor="middle" fill="#333" font-weight="normal" stroke="#333" stroke-width="0.18" textLength="15.8" lengthAdjust="spacingAndGlyphs">TCD</text>
<line x1="224.5" y1="366.5" x2="317" y2="366.5" stroke="#1a1a1a" stroke-width="1"/>
<line x1="229.95" y1="366.5" x2="229.95" y2="369" stroke="#1a1a1a" stroke-width="0.8"/>
<text x="228.35" y="378" font-size="6.3" text-anchor="middle" fill="#333" font-weight="normal" stroke="#333" stroke-width="0.18">−15</text>
<line x1="249.8" y1="366.5" x2="249.8" y2="369" stroke="#1a1a1a" stroke-width="0.8"/>
<text x="248.2" y="378" font-size="6.3" text-anchor="middle" fill="#333" font-weight="normal" stroke="#333" stroke-width="0.18">−10</text>
<line x1="269.65" y1="366.5" x2="269.65" y2="369" stroke="#1a1a1a" stroke-width="0.8"/>
<text x="268.05" y="378" font-size="6.3" text-anchor="middle" fill="#333" font-weight="normal" stroke="#333" stroke-width="0.18">−5</text>
<line x1="289.5" y1="366.5" x2="289.5" y2="369" stroke="#1a1a1a" stroke-width="0.8"/>
<text x="289.5" y="378" font-size="6.3" text-anchor="middle" fill="#333" font-weight="normal" stroke="#333" stroke-width="0.18">0</text>
<line x1="309.35" y1="366.5" x2="309.35" y2="369" stroke="#1a1a1a" stroke-width="0.8"/>
<text x="309.35" y="378" font-size="6.3" text-anchor="middle" fill="#333" font-weight="normal" stroke="#333" stroke-width="0.18">5</text>
<path d="M294.6,280.4C295.1,280.6 295.5,284.3 296.2,286.5C296.9,288.7 297.9,291.2 298.9,293.5C299.8,295.8 300.9,298.4 301.9,300.4C302.9,302.5 303.8,304.1 305.0,305.8C306.1,307.5 307.7,309.0 308.8,310.4C310.0,311.9 311.5,313.1 311.9,314.6C312.3,316.1 312.4,317.8 311.3,319.6C310.3,321.4 307.5,322.4 305.8,325.4C304.1,328.4 302.7,333.8 301.1,337.9C299.6,342.1 298.3,346.4 296.5,350.4C294.7,354.4 291.8,360.5 290.3,362.0C288.7,363.6 288.0,362.2 287.1,359.7C286.2,357.3 285.7,352.2 284.8,347.3C284.0,342.4 282.7,335.0 282.0,330.2C281.2,325.3 280.5,321.5 280.4,318.1C280.2,314.6 280.8,312.3 281.2,309.6C281.5,306.9 281.8,304.1 282.3,301.9C282.8,299.8 283.5,298.0 284.2,296.6C284.9,295.2 285.5,294.7 286.5,293.5C287.5,292.3 289.2,291.0 290.4,289.6C291.5,288.2 292.8,286.6 293.5,285.1C294.2,283.5 294.2,280.2 294.6,280.4Z" fill="#8fd6bd"/>
<path d="M293.5,288.0L294.7,279.7L295.9,288.0Z" fill="#8fcfb8"/>
<circle cx="302.5" cy="335.4" r="0.5" fill="#7fcdb0"/><circle cx="307.7" cy="310.3" r="0.5" fill="#7fcdb0"/><circle cx="280.8" cy="309.1" r="0.5" fill="#7fcdb0"/><circle cx="289.1" cy="289.5" r="0.5" fill="#7fcdb0"/><circle cx="294.0" cy="282.2" r="0.5" fill="#7fcdb0"/><circle cx="283.2" cy="341.2" r="0.5" fill="#7fcdb0"/><circle cx="307.7" cy="310.6" r="0.5" fill="#7fcdb0"/><circle cx="293.4" cy="282.5" r="0.5" fill="#7fcdb0"/><circle cx="285.5" cy="297.5" r="0.5" fill="#7fcdb0"/><circle cx="285.3" cy="356.2" r="0.5" fill="#7fcdb0"/><circle cx="297.1" cy="287.7" r="0.5" fill="#7fcdb0"/><circle cx="294.8" cy="286.3" r="0.5" fill="#7fcdb0"/><circle cx="289.6" cy="362.0" r="0.5" fill="#7fcdb0"/><circle cx="301.8" cy="333.6" r="0.5" fill="#7fcdb0"/><circle cx="297.4" cy="286.4" r="0.5" fill="#7fcdb0"/><circle cx="300.1" cy="297.0" r="0.5" fill="#7fcdb0"/><circle cx="290.8" cy="362.2" r="0.5" fill="#7fcdb0"/><circle cx="281.9" cy="298.9" r="0.5" fill="#7fcdb0"/><circle cx="300.2" cy="299.8" r="0.5" fill="#7fcdb0"/><circle cx="283.9" cy="298.8" r="0.5" fill="#7fcdb0"/><circle cx="305.5" cy="304.0" r="0.5" fill="#7fcdb0"/><circle cx="294.7" cy="355.2" r="0.5" fill="#7fcdb0"/><circle cx="293.8" cy="283.1" r="0.5" fill="#7fcdb0"/><circle cx="311.9" cy="316.6" r="0.5" fill="#7fcdb0"/><circle cx="289.0" cy="360.3" r="0.5" fill="#7fcdb0"/><circle cx="298.5" cy="346.8" r="0.5" fill="#7fcdb0"/><circle cx="301.0" cy="298.7" r="0.5" fill="#7fcdb0"/><circle cx="289.4" cy="293.0" r="0.5" fill="#7fcdb0"/><circle cx="313.2" cy="317.1" r="0.5" fill="#7fcdb0"/><circle cx="296.9" cy="349.5" r="0.5" fill="#7fcdb0"/><circle cx="283.7" cy="294.5" r="0.5" fill="#7fcdb0"/><circle cx="280.5" cy="327.9" r="0.5" fill="#7fcdb0"/><circle cx="281.7" cy="329.2" r="0.5" fill="#7fcdb0"/><circle cx="308.1" cy="321.4" r="0.5" fill="#7fcdb0"/><circle cx="287.3" cy="361.1" r="0.5" fill="#7fcdb0"/><circle cx="300.5" cy="301.5" r="0.5" fill="#7fcdb0"/><circle cx="294.6" cy="284.8" r="0.5" fill="#7fcdb0"/><circle cx="296.6" cy="354.1" r="0.5" fill="#7fcdb0"/><circle cx="291.9" cy="288.3" r="0.5" fill="#7fcdb0"/><circle cx="295.8" cy="348.2" r="0.5" fill="#7fcdb0"/><circle cx="282.3" cy="306.2" r="0.5" fill="#7fcdb0"/><circle cx="286.1" cy="294.5" r="0.5" fill="#7fcdb0"/><circle cx="280.5" cy="329.4" r="0.5" fill="#7fcdb0"/><circle cx="284.8" cy="344.5" r="0.5" fill="#7fcdb0"/><circle cx="306.1" cy="305.3" r="0.5" fill="#7fcdb0"/><circle cx="303.4" cy="302.5" r="0.5" fill="#7fcdb0"/><circle cx="280.4" cy="306.6" r="0.5" fill="#7fcdb0"/><circle cx="300.9" cy="296.7" r="0.5" fill="#7fcdb0"/><circle cx="281.8" cy="303.8" r="0.5" fill="#7fcdb0"/><circle cx="308.2" cy="322.7" r="0.5" fill="#7fcdb0"/><circle cx="294.7" cy="283.4" r="0.5" fill="#7fcdb0"/><circle cx="294.3" cy="282.4" r="0.5" fill="#7fcdb0"/><circle cx="310.8" cy="320.2" r="0.5" fill="#7fcdb0"/><circle cx="304.9" cy="324.3" r="0.5" fill="#7fcdb0"/><circle cx="282.2" cy="304.7" r="0.5" fill="#7fcdb0"/><circle cx="300.1" cy="294.1" r="0.5" fill="#7fcdb0"/><circle cx="302.4" cy="334.2" r="0.5" fill="#7fcdb0"/><circle cx="311.9" cy="315.0" r="0.5" fill="#7fcdb0"/><circle cx="302.6" cy="303.9" r="0.5" fill="#7fcdb0"/><circle cx="302.1" cy="335.2" r="0.5" fill="#7fcdb0"/><circle cx="296.8" cy="350.8" r="0.5" fill="#7fcdb0"/><circle cx="287.6" cy="294.0" r="0.5" fill="#7fcdb0"/><circle cx="281.3" cy="303.0" r="0.5" fill="#7fcdb0"/><circle cx="280.2" cy="313.6" r="0.5" fill="#7fcdb0"/><circle cx="291.8" cy="287.8" r="0.5" fill="#7fcdb0"/><circle cx="304.4" cy="308.5" r="0.5" fill="#7fcdb0"/><circle cx="295.0" cy="353.3" r="0.5" fill="#7fcdb0"/><circle cx="311.5" cy="311.0" r="0.5" fill="#7fcdb0"/><circle cx="280.5" cy="317.2" r="0.5" fill="#7fcdb0"/><circle cx="283.8" cy="293.8" r="0.5" fill="#7fcdb0"/><circle cx="289.2" cy="362.1" r="0.5" fill="#7fcdb0"/><circle cx="284.7" cy="347.2" r="0.5" fill="#7fcdb0"/><circle cx="311.6" cy="319.8" r="0.5" fill="#7fcdb0"/><circle cx="297.6" cy="345.4" r="0.5" fill="#7fcdb0"/><circle cx="293.8" cy="283.5" r="0.5" fill="#7fcdb0"/><circle cx="309.7" cy="312.5" r="0.5" fill="#7fcdb0"/><circle cx="302.5" cy="335.8" r="0.5" fill="#7fcdb0"/><circle cx="302.2" cy="301.7" r="0.5" fill="#7fcdb0"/><circle cx="280.8" cy="327.5" r="0.5" fill="#7fcdb0"/><circle cx="293.6" cy="355.9" r="0.5" fill="#7fcdb0"/><circle cx="297.3" cy="287.7" r="0.5" fill="#7fcdb0"/><circle cx="302.5" cy="300.5" r="0.5" fill="#7fcdb0"/><circle cx="291.0" cy="285.9" r="0.5" fill="#7fcdb0"/><circle cx="293.6" cy="356.8" r="0.5" fill="#7fcdb0"/><circle cx="294.9" cy="282.0" r="0.5" fill="#7fcdb0"/><circle cx="282.8" cy="305.7" r="0.5" fill="#7fcdb0"/><circle cx="301.9" cy="297.6" r="0.5" fill="#7fcdb0"/><circle cx="282.3" cy="306.7" r="0.5" fill="#7fcdb0"/><circle cx="305.6" cy="303.9" r="0.5" fill="#7fcdb0"/><circle cx="289.0" cy="291.6" r="0.5" fill="#7fcdb0"/>
<path d="M297.8 319.2h0M306.0 311.3h0M294.0 350.3h0M296.8 339.1h0M310.9 313.9h0M289.5 313.3h0M291.0 324.9h0M290.5 291.9h0M290.5 301.2h0M292.0 333.9h0M300.1 324.8h0M296.7 349.6h0M293.0 303.8h0M292.7 350.7h0M299.5 321.2h0M297.7 317.6h0M295.5 289.5h0M288.6 352.7h0M294.9 285.6h0M294.5 319.1h0M300.5 316.3h0M292.0 304.0h0M301.1 307.5h0M291.2 343.9h0M303.5 321.9h0M302.2 314.6h0M306.0 310.1h0M308.4 310.4h0M294.8 288.8h0M281.0 315.8h0M288.6 333.7h0M305.5 315.0h0M295.0 282.4h0M290.2 297.1h0M295.9 307.0h0M292.1 310.3h0M284.0 299.4h0M284.4 336.3h0M284.8 322.0h0M288.1 342.9h0M301.5 305.5h0M291.7 331.0h0M287.2 305.9h0M290.0 333.9h0M298.2 294.7h0M297.4 305.8h0M299.5 323.9h0M301.8 304.0h0M293.7 343.8h0M295.9 323.7h0M284.9 309.8h0M291.1 294.9h0M295.7 339.5h0M304.8 308.7h0M287.4 348.5h0M287.5 319.9h0M295.7 351.5h0M300.4 321.1h0M290.8 294.0h0M288.8 297.7h0M283.5 316.4h0M294.4 296.5h0M292.8 300.3h0M287.2 337.2h0M301.8 334.5h0M301.6 323.6h0M293.4 291.8h0M296.7 291.6h0M302.2 334.5h0M284.3 335.1h0M286.8 317.2h0M293.5 330.4h0M293.4 352.1h0M306.0 324.8h0M290.8 289.4h0M295.5 351.7h0M293.3 335.0h0M289.3 297.0h0M290.5 319.0h0M288.5 342.0h0M294.6 333.4h0M295.1 283.7h0M289.2 304.4h0M301.6 311.9h0M294.0 334.3h0M295.8 298.6h0M282.1 319.6h0M288.6 354.1h0M293.0 289.9h0M296.7 306.7h0M290.4 360.5h0M296.7 289.9h0M289.1 348.3h0M296.7 297.4h0M283.8 299.9h0M290.5 339.9h0M286.9 339.2h0M285.8 327.9h0M282.9 313.9h0M300.9 336.8h0M291.4 319.6h0M304.0 308.9h0M290.4 343.0h0M304.5 306.6h0M285.2 314.3h0M287.1 334.1h0M303.6 323.1h0M303.4 316.5h0M294.6 344.6h0M284.6 328.8h0M301.0 299.8h0M289.4 300.9h0M289.8 300.9h0M297.6 315.4h0M294.9 322.5h0M293.5 305.2h0M290.1 349.8h0M302.2 307.7h0M299.4 338.4h0M291.4 334.7h0M301.7 330.0h0M287.4 297.8h0M297.9 328.8h0M301.8 302.3h0M285.8 319.6h0M291.9 288.6h0M287.0 295.9h0M287.9 340.5h0M286.1 351.7h0M303.8 311.8h0M296.8 338.1h0M295.1 313.4h0M304.1 322.2h0M304.0 311.7h0M294.4 341.9h0M287.8 303.4h0M295.3 322.9h0M292.8 328.6h0" stroke="#62c3a2" stroke-width="1" stroke-linecap="round" fill="none"/>
<path d="M296.3 343.7h0M301.2 325.0h0M292.3 334.0h0M289.9 314.3h0M288.0 303.6h0M301.0 318.8h0M290.6 338.3h0M292.9 319.3h0M302.4 317.6h0M287.0 344.2h0M297.6 299.9h0M287.7 315.5h0M295.1 330.7h0M303.5 319.6h0M287.9 353.0h0M290.1 308.6h0M283.5 299.5h0M291.5 337.8h0M286.6 305.8h0M290.0 305.8h0M302.1 333.4h0M282.6 308.5h0M293.5 320.9h0M287.6 345.4h0M281.6 317.8h0M292.1 307.6h0M293.0 297.0h0M295.6 342.0h0M293.9 343.6h0M290.1 360.6h0M289.8 332.6h0M288.5 352.5h0M296.4 319.8h0M288.0 330.0h0M287.4 331.2h0M283.1 312.2h0M290.0 348.0h0M282.5 322.2h0M290.6 309.0h0M297.7 308.3h0M303.2 331.7h0M303.7 315.2h0M299.0 321.8h0M289.4 353.5h0M295.1 342.1h0M284.9 330.3h0M286.6 301.8h0M288.4 328.6h0M290.0 321.7h0M297.1 299.4h0M300.4 312.1h0M293.2 288.0h0M284.1 325.3h0M286.8 324.8h0M287.0 316.5h0M285.6 295.4h0M290.2 350.4h0M286.5 342.6h0M284.1 304.7h0M302.3 327.3h0M305.3 312.1h0M289.5 316.9h0M291.6 314.4h0M308.7 313.7h0M297.2 314.3h0M293.9 348.8h0M300.8 301.9h0M285.5 337.1h0M294.2 324.3h0M296.1 293.2h0M295.4 321.0h0M298.8 311.6h0M281.7 323.4h0M305.1 320.8h0M288.9 352.2h0M294.8 322.0h0M300.6 312.6h0M300.5 336.7h0M295.0 331.6h0M283.5 325.3h0M289.4 311.3h0M299.2 342.9h0M287.2 352.8h0M286.0 319.8h0M307.9 313.9h0M287.1 346.1h0M305.2 320.1h0M289.7 299.1h0M288.0 302.8h0M305.8 314.9h0M291.8 295.5h0M290.6 349.9h0M286.3 342.4h0M301.0 300.0h0M290.1 310.1h0M299.2 331.4h0M297.2 344.6h0M286.3 354.5h0M303.3 312.2h0M291.9 290.0h0M291.5 326.2h0M287.6 349.6h0M298.7 328.3h0M298.1 298.8h0M292.8 352.4h0M289.2 342.1h0M293.9 304.6h0M300.8 328.9h0M296.8 329.3h0M281.6 314.5h0M296.3 311.3h0M285.8 320.4h0M288.2 357.9h0M283.6 309.3h0M298.2 324.8h0M297.4 317.2h0M298.5 319.6h0M293.0 297.4h0M285.3 320.5h0M305.3 318.5h0M294.9 343.9h0M289.2 324.8h0M283.5 336.4h0M288.4 303.7h0M287.2 348.8h0M301.7 314.0h0M284.9 329.5h0M300.6 308.1h0M305.4 307.3h0M288.0 345.6h0M294.2 345.7h0M282.3 313.7h0M295.0 291.3h0M282.4 329.8h0M301.9 315.8h0M292.2 318.4h0M284.8 299.8h0M297.4 301.2h0M281.3 313.1h0M287.8 293.9h0M298.7 343.2h0M309.6 313.7h0M295.7 337.7h0M299.2 330.3h0M295.4 316.3h0M294.8 339.4h0M284.5 344.9h0M303.0 330.6h0M303.2 320.5h0M293.6 334.8h0M295.2 311.8h0M310.3 317.8h0M290.3 361.5h0M302.6 304.0h0M285.2 298.3h0M285.6 296.5h0M295.8 312.2h0M297.5 295.9h0M283.8 341.0h0M290.8 359.9h0M298.0 317.2h0M289.6 348.0h0M285.4 331.5h0M294.9 311.4h0M287.8 327.3h0M293.4 288.8h0M306.4 315.2h0M307.3 313.5h0M291.3 331.0h0M302.0 330.6h0M298.2 294.6h0M289.8 342.9h0M302.1 329.5h0M293.0 327.6h0M310.5 318.0h0M284.6 302.4h0M297.0 346.8h0M288.9 326.7h0M294.6 344.8h0M296.7 294.4h0M296.4 349.8h0M299.0 312.6h0M292.1 301.7h0M288.7 317.6h0M285.7 294.8h0M297.5 313.5h0M285.4 341.8h0M288.5 321.3h0M285.4 309.4h0M287.8 351.2h0M307.1 322.0h0M295.7 296.3h0M289.3 317.0h0M302.1 311.4h0M298.1 297.5h0M293.7 315.4h0M304.3 312.5h0M288.0 357.2h0M293.7 340.9h0M289.7 354.0h0M291.9 311.1h0M283.5 323.6h0M297.6 345.3h0M290.3 326.3h0M293.4 328.8h0M297.3 342.1h0M282.6 311.5h0M303.4 316.7h0M299.9 313.2h0M300.9 315.4h0M300.9 332.1h0M301.6 309.6h0M303.1 316.4h0M289.6 305.0h0M296.3 346.5h0M297.2 322.6h0M298.8 297.9h0M298.6 337.6h0M289.4 301.6h0M295.4 331.9h0M289.5 337.5h0M287.1 353.6h0M305.7 316.0h0M283.0 305.4h0M287.9 314.3h0M300.1 303.4h0M290.3 346.3h0M295.2 323.9h0M296.7 310.4h0M301.8 322.0h0M301.8 320.5h0M298.8 338.2h0M296.3 309.7h0M296.5 341.8h0M295.9 338.1h0M283.7 310.0h0M303.0 318.9h0M283.8 306.1h0M293.7 302.2h0M304.9 324.5h0M299.2 311.9h0M288.5 327.7h0M290.2 348.4h0M300.3 308.9h0M287.9 344.3h0M291.0 346.0h0M303.0 313.4h0M290.8 316.5h0M284.2 328.1h0M298.6 332.1h0M302.5 323.2h0M300.2 337.1h0M292.1 340.0h0M292.9 293.6h0M285.5 295.1h0M294.0 334.9h0M284.7 296.1h0M311.1 315.4h0M297.3 290.9h0M296.0 329.8h0M280.7 318.2h0M300.1 316.9h0M299.9 337.2h0M285.7 300.6h0M291.2 308.4h0M303.0 303.7h0M296.6 327.1h0M283.6 323.1h0M303.1 312.6h0M306.2 307.9h0M291.8 310.1h0M284.9 336.3h0M295.0 293.7h0M287.8 309.2h0M306.8 317.7h0M288.2 323.4h0M288.1 303.3h0M298.6 312.6h0M285.8 344.8h0M309.1 322.0h0M294.9 330.0h0M287.2 323.0h0M298.9 305.8h0M286.8 343.7h0M284.1 338.4h0M285.8 344.9h0M294.0 329.8h0M285.0 309.0h0M284.8 305.9h0M294.3 301.3h0M283.3 306.1h0M300.6 316.6h0M307.8 315.6h0M293.9 294.0h0M296.0 316.4h0M291.1 353.8h0M297.2 299.2h0M294.4 317.0h0M300.1 333.7h0M295.4 288.2h0M286.7 325.7h0M303.9 310.4h0M299.8 313.6h0M284.8 335.9h0M304.3 324.9h0M297.5 311.5h0M288.8 296.6h0M282.8 307.2h0M300.6 320.6h0M295.7 316.0h0M300.2 331.1h0M305.9 313.0h0M295.3 291.0h0M285.2 326.7h0M298.9 336.2h0M285.7 317.5h0M289.4 311.4h0M289.0 339.4h0M290.4 311.1h0M281.5 310.3h0M291.1 331.9h0M296.2 339.4h0M295.1 316.8h0M295.6 344.1h0M304.5 328.6h0M299.6 321.9h0M291.3 294.0h0M289.6 324.4h0M284.2 296.8h0M302.1 304.5h0M305.7 313.9h0M300.5 330.2h0M292.0 305.5h0M289.0 354.3h0M295.7 336.6h0M293.3 294.4h0M310.1 319.0h0M294.7 320.0h0M287.8 336.5h0M301.9 316.4h0M296.1 324.5h0M307.3 316.3h0M291.6 330.1h0M296.0 314.1h0M293.9 312.5h0M291.0 293.9h0M297.5 311.2h0M299.1 302.8h0M294.9 293.9h0M282.5 330.2h0M289.9 331.9h0M297.8 319.3h0M285.3 298.3h0M296.0 307.0h0M297.3 347.4h0M303.1 328.8h0M300.4 316.2h0M298.9 340.2h0M300.8 338.0h0M295.8 314.6h0M295.3 343.1h0M287.7 339.3h0M294.9 312.1h0M283.7 299.4h0M286.8 312.4h0M290.2 316.4h0M292.0 355.7h0M290.6 324.8h0M286.7 302.4h0M281.9 325.2h0M295.5 322.9h0M302.6 328.7h0M294.9 321.6h0M296.5 302.6h0M285.3 346.6h0M294.8 344.5h0M292.0 339.7h0M286.4 306.8h0M299.1 329.8h0M292.2 295.0h0M297.2 338.3h0M281.4 321.2h0M288.1 357.5h0M299.7 318.7h0M289.3 308.3h0M285.2 331.8h0M291.0 300.9h0M283.8 327.6h0M292.0 343.9h0M292.8 338.7h0M294.7 289.3h0M301.8 311.1h0M295.9 314.6h0" stroke="#ffffff" stroke-width="1" stroke-linecap="round" fill="none"/>
<path d="M307.4 313.2h0M301.2 315.0h0M305.8 325.1h0M282.4 312.5h0M289.9 361.0h0M287.3 344.8h0M296.6 332.4h0M296.6 327.3h0M302.4 312.2h0M306.0 325.1h0M296.1 296.3h0M294.2 302.0h0M299.5 320.5h0M293.1 311.7h0M307.5 313.9h0M287.9 358.6h0M299.2 318.9h0M289.4 324.4h0M299.4 318.3h0M282.4 306.2h0M291.0 309.0h0M289.1 301.3h0M291.2 297.6h0M297.5 298.9h0M305.4 321.6h0M296.6 330.8h0M306.8 309.3h0M298.0 306.9h0M291.2 341.6h0M307.2 313.9h0M295.7 293.4h0M293.6 316.4h0M282.5 322.1h0M288.8 350.2h0M286.9 333.5h0M289.9 351.6h0M290.9 335.4h0M297.9 318.2h0M293.9 326.2h0M298.2 343.2h0M294.8 340.5h0M298.9 313.3h0M291.5 304.9h0M293.5 294.3h0M292.9 315.4h0M287.4 353.1h0M287.8 343.4h0M303.2 331.7h0M295.8 310.9h0M295.4 300.8h0M299.9 313.0h0M291.4 297.8h0M283.0 325.0h0M291.7 288.7h0M297.3 291.0h0M296.2 288.1h0M299.7 297.7h0M287.4 313.6h0M284.8 308.6h0M294.8 338.7h0M286.4 315.9h0M287.9 299.4h0M293.5 331.2h0M300.5 305.0h0M285.6 322.6h0M297.1 290.8h0M292.1 307.6h0M305.8 319.8h0M284.0 303.3h0M284.2 313.6h0M297.3 295.8h0M289.7 360.5h0M308.2 311.1h0M282.0 322.8h0M301.0 336.2h0M287.5 328.6h0M288.8 345.0h0M297.7 344.2h0M294.5 287.6h0M292.5 349.4h0M295.7 297.6h0M284.6 317.1h0M286.5 299.9h0M295.8 291.2h0M301.5 325.7h0M303.0 326.9h0M293.5 348.7h0M288.4 353.3h0M293.3 349.7h0M292.4 356.7h0M288.3 322.5h0M296.4 297.5h0M307.9 318.6h0M298.4 339.7h0M300.7 318.4h0M286.7 318.8h0M299.9 309.5h0M300.9 308.5h0M294.5 335.9h0M293.6 284.6h0M306.4 309.9h0M283.2 303.6h0M293.2 299.2h0M283.5 336.7h0M298.9 341.7h0M308.0 318.7h0M289.8 345.3h0M290.5 354.1h0M291.1 333.7h0M301.3 317.5h0M290.0 304.6h0M294.1 307.9h0M291.6 289.2h0M292.6 339.8h0M298.5 299.0h0M291.4 297.7h0M302.6 325.5h0M295.0 348.8h0M295.8 328.7h0M297.8 333.5h0M298.5 329.4h0M294.0 327.7h0M288.7 351.6h0M281.4 318.9h0M291.9 334.9h0M284.7 296.2h0M304.3 314.0h0M290.4 359.6h0M300.1 324.7h0M292.4 338.4h0M291.9 330.4h0M295.2 340.3h0M299.3 331.5h0M294.1 288.0h0M291.5 313.0h0M299.8 306.4h0M302.5 307.6h0M293.9 341.0h0M289.1 311.5h0M291.3 307.9h0M293.9 324.4h0M282.9 334.4h0M283.9 307.0h0M283.3 306.9h0M297.8 345.3h0M295.7 304.3h0M290.5 332.0h0M304.2 325.9h0M300.8 320.7h0M307.0 313.2h0M293.3 335.6h0" stroke="#5dbf9c" stroke-width="1" stroke-linecap="round" fill="none"/>
<path d="M289.5 320.5h0M288.6 296.0h0M298.2 311.3h0M293.9 350.0h0M283.5 303.5h0M304.0 305.9h0M290.9 352.4h0M295.6 327.2h0M294.2 328.1h0M300.1 316.7h0M293.7 342.1h0M302.7 317.0h0M294.8 310.5h0M294.4 308.5h0M284.2 330.5h0M282.0 321.1h0M289.1 348.2h0M287.0 318.5h0M282.5 320.1h0M284.1 327.7h0M297.2 339.5h0M304.4 316.6h0M285.9 326.1h0M293.1 319.8h0M298.1 309.2h0M294.8 336.7h0M292.2 309.7h0M295.3 315.8h0M299.3 325.2h0M283.4 317.9h0M292.1 345.0h0M295.9 324.4h0M301.6 324.1h0M304.1 324.9h0M295.7 320.5h0M296.3 316.1h0M291.9 323.5h0M297.0 315.7h0M303.4 315.8h0M288.6 351.2h0M290.5 329.4h0M295.5 327.3h0M301.8 314.9h0M309.8 312.2h0M296.8 306.9h0M289.1 360.4h0M295.0 293.2h0M297.2 343.6h0M284.7 300.6h0M291.5 340.3h0M298.8 309.4h0M289.0 341.8h0M286.5 353.0h0M288.9 304.1h0M302.4 333.8h0M301.3 299.0h0M288.0 302.5h0M289.2 292.0h0M287.2 345.1h0M300.1 306.5h0M301.5 320.0h0M290.0 303.9h0M288.0 331.6h0M294.0 323.2h0M288.2 312.6h0M308.6 322.2h0M293.7 319.8h0M297.8 295.5h0M287.9 316.9h0M300.0 333.3h0M298.5 338.7h0M291.4 316.9h0M288.6 347.7h0M296.2 330.5h0M295.1 328.5h0M301.5 326.7h0M292.9 301.0h0M287.0 300.8h0M284.7 304.2h0M290.9 341.8h0M287.9 301.0h0M296.0 330.5h0M295.0 352.7h0M292.0 325.3h0M288.2 329.9h0M282.6 332.5h0M292.7 295.0h0M291.1 356.2h0M289.2 301.1h0M289.7 301.8h0M298.0 327.0h0M303.9 318.4h0M294.8 297.1h0M289.9 307.3h0M290.6 291.5h0M294.9 329.3h0M305.7 319.4h0M286.2 353.2h0M301.4 320.7h0M299.1 309.6h0M293.2 313.2h0M291.4 347.7h0M302.2 310.1h0M300.2 314.7h0M290.5 357.7h0M285.0 330.3h0M294.4 353.1h0M302.3 328.8h0M291.6 326.9h0M288.4 349.0h0M296.7 347.1h0M294.8 323.2h0M285.9 349.6h0M295.5 304.6h0M300.7 303.6h0M311.6 317.3h0M291.4 303.9h0M293.0 303.4h0M303.8 330.6h0M289.8 305.0h0M295.4 313.9h0M282.2 315.7h0M281.9 318.9h0M288.0 293.9h0M291.7 358.1h0M296.7 307.1h0M297.0 327.5h0M294.6 298.0h0M291.7 297.5h0M292.1 340.3h0M286.9 308.4h0M285.1 343.5h0M285.7 335.8h0M282.5 305.9h0M291.9 314.1h0M285.1 299.8h0M291.6 315.6h0M290.4 331.9h0M284.6 311.9h0M286.4 295.2h0M296.4 336.5h0M286.8 294.0h0M285.9 307.1h0" stroke="#4fb892" stroke-width="1" stroke-linecap="round" fill="none"/>
<path d="M285.1 311.4h0M291.7 354.0h0M287.6 311.0h0M290.5 317.9h0M293.0 344.5h0M304.3 307.9h0M298.7 326.8h0M300.9 302.0h0M297.9 338.3h0M293.2 328.8h0M290.8 290.1h0M295.1 296.1h0M296.4 349.4h0M298.0 313.5h0M308.4 319.9h0M284.5 317.1h0M289.1 357.0h0M300.0 321.8h0M285.0 321.7h0M300.9 330.4h0M287.3 341.2h0M288.4 349.4h0M281.2 314.7h0M291.5 304.1h0M298.4 320.6h0M295.5 294.7h0M289.0 347.1h0M287.7 326.6h0M288.0 314.7h0M309.9 320.4h0M286.1 332.9h0M281.0 320.7h0M287.7 334.9h0M304.9 306.3h0M291.1 340.6h0M288.5 326.7h0M295.9 290.7h0M286.9 296.8h0M290.0 322.1h0M297.5 313.7h0M298.6 306.7h0M296.2 336.0h0M291.2 295.8h0M308.3 319.6h0M282.7 305.6h0M284.8 322.9h0M289.2 327.4h0M298.4 342.2h0M298.1 325.1h0M292.8 349.7h0M295.6 297.2h0M282.3 314.0h0M294.1 298.3h0M290.1 354.0h0M289.0 346.5h0M287.7 336.8h0M291.6 317.5h0M291.3 327.7h0M297.1 325.2h0M285.8 298.0h0M295.3 327.4h0M293.3 355.9h0M288.9 322.2h0M291.5 327.7h0M303.0 322.4h0M302.9 317.8h0M292.1 323.8h0M288.4 301.5h0M292.1 302.3h0M303.4 308.5h0M293.2 314.1h0M300.2 300.9h0M296.4 290.4h0M301.8 329.3h0M294.2 305.0h0M304.2 322.7h0M296.8 325.3h0M307.1 317.7h0M287.7 350.6h0M284.0 317.1h0M304.8 312.0h0M292.5 303.7h0M298.6 319.1h0M285.1 303.8h0M292.3 319.2h0M300.9 326.8h0M289.1 291.7h0M285.7 314.3h0M285.4 322.5h0M289.3 345.2h0M284.7 298.5h0M294.5 282.0h0M288.2 325.9h0M302.9 321.8h0M293.0 301.4h0M302.2 312.4h0M291.7 295.8h0M299.9 311.7h0M297.9 316.5h0M290.2 317.4h0M282.2 310.5h0M297.9 334.7h0M303.5 309.9h0M300.7 330.9h0M282.0 318.2h0M293.2 311.3h0M291.9 292.9h0M285.0 305.7h0M304.8 313.3h0M286.0 300.2h0M295.2 300.4h0M301.3 337.3h0M286.3 301.8h0M285.9 298.5h0M287.4 351.8h0M300.3 335.4h0M289.7 295.3h0M293.9 307.7h0M298.8 302.9h0M295.5 340.8h0M293.0 315.5h0M306.7 310.6h0M297.8 305.7h0M298.1 325.4h0M281.8 326.3h0" stroke="#f2fbf7" stroke-width="1" stroke-linecap="round" fill="none"/>
<path d="M237.3,326.5C237.3,325.6 237.2,324.7 237.0,323.9C236.8,323.1 236.4,322.3 236.1,321.6C235.7,321.0 235.2,320.5 234.7,320.2C234.2,319.8 233.7,319.6 233.1,319.6C232.6,319.6 232.0,319.8 231.5,320.2C231.0,320.5 230.6,321.0 230.2,321.6C229.8,322.3 229.5,323.1 229.3,323.9C229.1,324.7 229.0,325.6 229.0,326.5C229.0,327.4 229.1,328.3 229.3,329.1C229.5,329.9 229.8,330.7 230.2,331.3C230.6,331.9 231.0,332.5 231.5,332.8C232.0,333.1 232.6,333.3 233.1,333.3C233.7,333.3 234.2,333.1 234.7,332.8C235.2,332.5 235.7,331.9 236.1,331.3C236.4,330.7 236.8,329.9 237.0,329.1C237.2,328.3 237.3,327.4 237.3,326.5Z" fill="#f08d66"/>
<path d="M233.2 321.9h0M229.3 328.5h0M234.3 321.1h0M233.8 321.0h0M234.4 332.1h0M232.6 320.9h0M231.0 322.4h0M233.9 329.7h0M235.3 326.5h0M234.7 329.6h0M231.8 327.6h0M233.4 330.3h0M232.5 322.7h0" stroke="#f7ad8e" stroke-width="1" stroke-linecap="round" fill="none"/>
<path d="M235.0 329.7h0M233.2 323.0h0M229.7 329.2h0M231.0 326.6h0M229.9 322.6h0M231.5 321.0h0M235.5 324.7h0M234.0 321.8h0M229.7 325.7h0M231.5 323.8h0M236.9 326.9h0M233.9 329.8h0M234.6 328.2h0M231.4 322.4h0" stroke="#e8784e" stroke-width="1" stroke-linecap="round" fill="none"/>
<path d="M237.0 325.5h0M235.4 327.0h0M236.2 327.5h0M233.3 331.9h0M233.4 323.4h0M235.5 326.4h0M236.9 324.5h0M231.0 329.0h0M236.3 325.3h0M235.3 328.9h0M229.1 325.7h0M229.5 328.1h0M234.1 327.8h0" stroke="#ffffff" stroke-width="1" stroke-linecap="round" fill="none"/>
<line x1="233.9" y1="317.5" x2="238.5" y2="304.9" stroke="#f08d66" stroke-width="0.7" stroke-dasharray="0.9 0.7" stroke-opacity="0.75"/>
<circle cx="288.3" cy="262.8" r="0.6" fill="#c8c8c8"/>
<circle cx="311.3" cy="284.1" r="1.5" fill="none" stroke="#c8c8c8" stroke-width="0.5"/>
<circle cx="241.1" cy="329.7" r="0.5" fill="#9aaad0"/>
<circle cx="243.4" cy="327.6" r="0.5" fill="#9aaad0"/>
<circle cx="321.5" cy="304.3" r="1.9" fill="#3aa88a"/>
<text x="326.2" y="306.5" font-size="6.4" text-anchor="start" fill="#333" font-weight="normal" stroke="#333" stroke-width="0.18">0</text>
<circle cx="321.5" cy="311.65" r="1.9" fill="#f08d66"/>
<text x="326.2" y="313.85" font-size="6.4" text-anchor="start" fill="#333" font-weight="normal" stroke="#333" stroke-width="0.18">1</text>
<circle cx="321.5" cy="319" r="1.9" fill="#6f8cc4"/>
<text x="326.2" y="321.2" font-size="6.4" text-anchor="start" fill="#333" font-weight="normal" stroke="#333" stroke-width="0.18">2</text>
<circle cx="321.5" cy="326.35" r="1.9" fill="#d37ab8"/>
<text x="326.2" y="328.55" font-size="6.4" text-anchor="start" fill="#333" font-weight="normal" stroke="#333" stroke-width="0.18">3</text>
<line x1="374.7" y1="262.5" x2="374.7" y2="366.8" stroke="#1a1a1a" stroke-width="1"/>
<line x1="374.2" y1="366.3" x2="502.4" y2="366.3" stroke="#1a1a1a" stroke-width="1"/>
<line x1="371.7" y1="361.5" x2="374.7" y2="361.5" stroke="#1a1a1a" stroke-width="0.8"/>
<text x="368.1" y="363.8" font-size="6.5" text-anchor="end" fill="#333" font-weight="normal" stroke="#333" stroke-width="0.18">0</text>
<line x1="371.7" y1="337.95" x2="374.7" y2="337.95" stroke="#1a1a1a" stroke-width="0.8"/>
<text x="368.1" y="340.25" font-size="6.5" text-anchor="end" fill="#333" font-weight="normal" stroke="#333" stroke-width="0.18" textLength="6.4" lengthAdjust="spacingAndGlyphs">25</text>
<line x1="371.7" y1="314.4" x2="374.7" y2="314.4" stroke="#1a1a1a" stroke-width="0.8"/>
<text x="368.1" y="316.7" font-size="6.5" text-anchor="end" fill="#333" font-weight="normal" stroke="#333" stroke-width="0.18" textLength="6.4" lengthAdjust="spacingAndGlyphs">50</text>
<line x1="371.7" y1="290.85" x2="374.7" y2="290.85" stroke="#1a1a1a" stroke-width="0.8"/>
<text x="368.1" y="293.15" font-size="6.5" text-anchor="end" fill="#333" font-weight="normal" stroke="#333" stroke-width="0.18" textLength="6.4" lengthAdjust="spacingAndGlyphs">75</text>
<line x1="371.7" y1="267.3" x2="374.7" y2="267.3" stroke="#1a1a1a" stroke-width="0.8"/>
<text x="368.1" y="269.6" font-size="6.5" text-anchor="end" fill="#333" font-weight="normal" stroke="#333" stroke-width="0.18" textLength="9.5" lengthAdjust="spacingAndGlyphs">100</text>
<text x="352.4" y="314.2" font-size="7.7" text-anchor="middle" fill="#333" font-weight="normal" stroke="#333" stroke-width="0.18" transform="rotate(-90 352.4 314.2)" textLength="22" lengthAdjust="spacingAndGlyphs">Percent</text>
<rect x="380.2" y="267.3" width="36" height="94.2" fill="#66c2a5"/>
<rect x="380.2" y="351.986" width="36" height="9.5242" fill="#8da0cb"/>
<rect x="380.2" y="342.095" width="36" height="9.901" fill="#fc8d62"/>
<line x1="398.2" y1="366.3" x2="398.2" y2="368.3" stroke="#1a1a1a" stroke-width="0.8"/>
<text x="398.2" y="378.2" font-size="6.6" text-anchor="middle" fill="#333" font-weight="normal" stroke="#333" stroke-width="0.18">WT</text>
<rect x="421" y="267.3" width="35.1" height="94.2" fill="#66c2a5"/>
<rect x="421" y="356.131" width="35.1" height="5.3794" fill="#8da0cb"/>
<rect x="421" y="348.029" width="35.1" height="8.1112" fill="#fc8d62"/>
<line x1="438.55" y1="366.3" x2="438.55" y2="368.3" stroke="#1a1a1a" stroke-width="0.8"/>
<text x="438.55" y="378.2" font-size="6.6" text-anchor="middle" fill="#333" font-weight="normal" stroke="#333" stroke-width="0.18">IfngRKO</text>
<rect x="461.2" y="267.3" width="35.5" height="94.2" fill="#66c2a5"/>
<rect x="461.2" y="353.964" width="35.5" height="7.546" fill="#fc8d62"/>
<line x1="478.95" y1="366.3" x2="478.95" y2="368.3" stroke="#1a1a1a" stroke-width="0.8"/>
<text x="478.95" y="378.2" font-size="6.6" text-anchor="middle" fill="#333" font-weight="normal" stroke="#333" stroke-width="0.18">TCD</text>
<rect x="500" y="268.1" width="6.9" height="6.6" fill="#66c2a5"/>
<text x="509.3" y="273.5" font-size="6.6" text-anchor="start" fill="#333" font-weight="normal" stroke="#333" stroke-width="0.18">0</text>
<rect x="500" y="277.75" width="6.9" height="6.6" fill="#fc8d62"/>
<text x="509.3" y="283.15" font-size="6.6" text-anchor="start" fill="#333" font-weight="normal" stroke="#333" stroke-width="0.18">1</text>
<rect x="500" y="287.4" width="6.9" height="6.6" fill="#8da0cb"/>
<text x="509.3" y="292.8" font-size="6.6" text-anchor="start" fill="#333" font-weight="normal" stroke="#333" stroke-width="0.18">2</text>
<rect x="500" y="297.05" width="6.9" height="6.6" fill="#e78ac3"/>
<text x="509.3" y="302.45" font-size="6.6" text-anchor="start" fill="#333" font-weight="normal" stroke="#333" stroke-width="0.18">3</text>
<rect x="76.9" y="439.7" width="50.2" height="6.88" fill="#44367f"/>
<rect x="126.1" y="439.7" width="50.2" height="6.88" fill="#423f84"/>
<rect x="175.3" y="439.7" width="50.2" height="6.88" fill="#5fc860"/>
<rect x="224.5" y="439.7" width="49.2" height="6.88" fill="#44bf70"/>
<rect x="76.9" y="445.57" width="50.2" height="6.88" fill="#31688d"/>
<rect x="126.1" y="445.57" width="50.2" height="6.88" fill="#31688d"/>
<rect x="175.3" y="445.57" width="50.2" height="6.88" fill="#fde725"/>
<rect x="224.5" y="445.57" width="49.2" height="6.88" fill="#3a538a"/>
<rect x="76.9" y="451.45" width="50.2" height="6.88" fill="#3a538a"/>
<rect x="126.1" y="451.45" width="50.2" height="6.88" fill="#3a538a"/>
<rect x="175.3" y="451.45" width="50.2" height="6.88" fill="#f0e525"/>
<rect x="224.5" y="451.45" width="49.2" height="6.88" fill="#2c748e"/>
<rect x="76.9" y="457.32" width="50.2" height="6.88" fill="#423f84"/>
<rect x="126.1" y="457.32" width="50.2" height="6.88" fill="#3f4888"/>
<rect x="175.3" y="457.32" width="50.2" height="6.88" fill="#6fcd57"/>
<rect x="224.5" y="457.32" width="49.2" height="6.88" fill="#33b47a"/>
<rect x="76.9" y="463.2" width="50.2" height="6.88" fill="#31688d"/>
<rect x="126.1" y="463.2" width="50.2" height="6.88" fill="#31688d"/>
<rect x="175.3" y="463.2" width="50.2" height="6.88" fill="#fde725"/>
<rect x="224.5" y="463.2" width="49.2" height="6.88" fill="#3a538a"/>
<rect x="76.9" y="469.07" width="50.2" height="6.88" fill="#34608d"/>
<rect x="126.1" y="469.07" width="50.2" height="6.88" fill="#33638d"/>
<rect x="175.3" y="469.07" width="50.2" height="6.88" fill="#fde725"/>
<rect x="224.5" y="469.07" width="49.2" height="6.88" fill="#3d4d89"/>
<rect x="76.9" y="474.95" width="50.2" height="6.88" fill="#433981"/>
<rect x="126.1" y="474.95" width="50.2" height="6.88" fill="#3f4888"/>
<rect x="175.3" y="474.95" width="50.2" height="6.88" fill="#229c88"/>
<rect x="224.5" y="474.95" width="49.2" height="6.88" fill="#7ad151"/>
<rect x="76.9" y="480.82" width="50.2" height="6.88" fill="#472978"/>
<rect x="126.1" y="480.82" width="50.2" height="6.88" fill="#423f84"/>
<rect x="175.3" y="480.82" width="50.2" height="6.88" fill="#22a386"/>
<rect x="224.5" y="480.82" width="49.2" height="6.88" fill="#5fc860"/>
<rect x="76.9" y="486.7" width="50.2" height="6.88" fill="#33638d"/>
<rect x="126.1" y="486.7" width="50.2" height="6.88" fill="#31688d"/>
<rect x="175.3" y="486.7" width="50.2" height="6.88" fill="#fde725"/>
<rect x="224.5" y="486.7" width="49.2" height="6.88" fill="#3a538a"/>
<rect x="76.9" y="492.57" width="50.2" height="6.88" fill="#34608d"/>
<rect x="126.1" y="492.57" width="50.2" height="6.88" fill="#31688d"/>
<rect x="175.3" y="492.57" width="50.2" height="6.88" fill="#eae525"/>
<rect x="224.5" y="492.57" width="49.2" height="6.88" fill="#3d4d89"/>
<rect x="76.9" y="498.45" width="50.2" height="6.88" fill="#471f70"/>
<rect x="126.1" y="498.45" width="50.2" height="6.88" fill="#31688d"/>
<rect x="175.3" y="498.45" width="50.2" height="6.88" fill="#6fcd57"/>
<rect x="224.5" y="498.45" width="49.2" height="6.88" fill="#22a884"/>
<rect x="76.9" y="504.32" width="50.2" height="6.88" fill="#2e6f8e"/>
<rect x="126.1" y="504.32" width="50.2" height="6.88" fill="#33638d"/>
<rect x="175.3" y="504.32" width="50.2" height="6.88" fill="#fde725"/>
<rect x="224.5" y="504.32" width="49.2" height="6.88" fill="#3a538a"/>
<rect x="76.9" y="510.2" width="50.2" height="6.88" fill="#33638d"/>
<rect x="126.1" y="510.2" width="50.2" height="6.88" fill="#3a538a"/>
<rect x="175.3" y="510.2" width="50.2" height="6.88" fill="#fde725"/>
<rect x="224.5" y="510.2" width="49.2" height="6.88" fill="#3d4d89"/>
<rect x="76.9" y="516.08" width="50.2" height="6.88" fill="#462f7b"/>
<rect x="126.1" y="516.08" width="50.2" height="6.88" fill="#404587"/>
<rect x="175.3" y="516.08" width="50.2" height="6.88" fill="#29ad80"/>
<rect x="224.5" y="516.08" width="49.2" height="6.88" fill="#6fcd57"/>
<rect x="76.9" y="521.95" width="50.2" height="6.88" fill="#3d4d89"/>
<rect x="126.1" y="521.95" width="50.2" height="6.88" fill="#3f4888"/>
<rect x="175.3" y="521.95" width="50.2" height="6.88" fill="#eae525"/>
<rect x="224.5" y="521.95" width="49.2" height="6.88" fill="#26848d"/>
<rect x="76.9" y="527.83" width="50.2" height="6.88" fill="#2e6f8e"/>
<rect x="126.1" y="527.83" width="50.2" height="6.88" fill="#3d4d89"/>
<rect x="175.3" y="527.83" width="50.2" height="6.88" fill="#eae525"/>
<rect x="224.5" y="527.83" width="49.2" height="6.88" fill="#3a538a"/>
<rect x="76.9" y="533.7" width="50.2" height="6.88" fill="#462f7b"/>
<rect x="126.1" y="533.7" width="50.2" height="6.88" fill="#414286"/>
<rect x="175.3" y="533.7" width="50.2" height="6.88" fill="#6fcd57"/>
<rect x="224.5" y="533.7" width="49.2" height="6.88" fill="#3ab876"/>
<rect x="76.9" y="539.58" width="50.2" height="6.88" fill="#31688d"/>
<rect x="126.1" y="539.58" width="50.2" height="6.88" fill="#375b8c"/>
<rect x="175.3" y="539.58" width="50.2" height="6.88" fill="#fde725"/>
<rect x="224.5" y="539.58" width="49.2" height="6.88" fill="#3d4d89"/>
<rect x="76.9" y="545.45" width="50.2" height="6.88" fill="#2f6d8e"/>
<rect x="126.1" y="545.45" width="50.2" height="6.88" fill="#31688d"/>
<rect x="175.3" y="545.45" width="50.2" height="6.88" fill="#fde725"/>
<rect x="224.5" y="545.45" width="49.2" height="6.88" fill="#3a538a"/>
<rect x="76.9" y="551.33" width="50.2" height="6.88" fill="#306a8d"/>
<rect x="126.1" y="551.33" width="50.2" height="6.88" fill="#31688d"/>
<rect x="175.3" y="551.33" width="50.2" height="6.88" fill="#fde725"/>
<rect x="224.5" y="551.33" width="49.2" height="6.88" fill="#375b8c"/>
<rect x="76.9" y="557.2" width="50.2" height="6.88" fill="#33638d"/>
<rect x="126.1" y="557.2" width="50.2" height="6.88" fill="#462f7b"/>
<rect x="175.3" y="557.2" width="50.2" height="6.88" fill="#7ad151"/>
<rect x="224.5" y="557.2" width="49.2" height="6.88" fill="#21988a"/>
<rect x="76.9" y="563.08" width="50.2" height="6.88" fill="#2d728e"/>
<rect x="126.1" y="563.08" width="50.2" height="6.88" fill="#31688d"/>
<rect x="175.3" y="563.08" width="50.2" height="6.88" fill="#f0e525"/>
<rect x="224.5" y="563.08" width="49.2" height="6.88" fill="#3a538a"/>
<rect x="76.9" y="568.95" width="50.2" height="6.88" fill="#414286"/>
<rect x="126.1" y="568.95" width="50.2" height="6.88" fill="#3e4b88"/>
<rect x="175.3" y="568.95" width="50.2" height="6.88" fill="#9cd83c"/>
<rect x="224.5" y="568.95" width="49.2" height="6.88" fill="#22a186"/>
<rect x="76.9" y="574.83" width="50.2" height="6.88" fill="#3d4d89"/>
<rect x="126.1" y="574.83" width="50.2" height="6.88" fill="#31688d"/>
<rect x="175.3" y="574.83" width="50.2" height="6.88" fill="#fde725"/>
<rect x="224.5" y="574.83" width="49.2" height="6.88" fill="#3a538a"/>
<rect x="76.9" y="580.7" width="50.2" height="6.88" fill="#433981"/>
<rect x="126.1" y="580.7" width="50.2" height="6.88" fill="#3d4d89"/>
<rect x="175.3" y="580.7" width="50.2" height="6.88" fill="#b0dc2f"/>
<rect x="224.5" y="580.7" width="49.2" height="6.88" fill="#21918c"/>
<rect x="76.9" y="586.58" width="50.2" height="6.88" fill="#472978"/>
<rect x="126.1" y="586.58" width="50.2" height="6.88" fill="#404587"/>
<rect x="175.3" y="586.58" width="50.2" height="6.88" fill="#6fcd57"/>
<rect x="224.5" y="586.58" width="49.2" height="6.88" fill="#22a386"/>
<rect x="76.9" y="592.45" width="50.2" height="6.88" fill="#375b8c"/>
<rect x="126.1" y="592.45" width="50.2" height="6.88" fill="#31688d"/>
<rect x="175.3" y="592.45" width="50.2" height="6.88" fill="#fde725"/>
<rect x="224.5" y="592.45" width="49.2" height="6.88" fill="#3d4d89"/>
<rect x="76.9" y="598.33" width="50.2" height="6.88" fill="#34608d"/>
<rect x="126.1" y="598.33" width="50.2" height="6.88" fill="#462f7b"/>
<rect x="175.3" y="598.33" width="50.2" height="6.88" fill="#eae525"/>
<rect x="224.5" y="598.33" width="49.2" height="6.88" fill="#26848d"/>
<rect x="76.9" y="604.2" width="50.2" height="6.88" fill="#34608d"/>
<rect x="126.1" y="604.2" width="50.2" height="6.88" fill="#423f84"/>
<rect x="175.3" y="604.2" width="50.2" height="6.88" fill="#f0e525"/>
<rect x="224.5" y="604.2" width="49.2" height="6.88" fill="#25868d"/>
<rect x="76.9" y="610.08" width="50.2" height="6.88" fill="#238c8c"/>
<rect x="126.1" y="610.08" width="50.2" height="6.88" fill="#44367f"/>
<rect x="175.3" y="610.08" width="50.2" height="6.88" fill="#f0e525"/>
<rect x="224.5" y="610.08" width="49.2" height="6.88" fill="#3f4888"/>
<rect x="76.9" y="615.95" width="50.2" height="6.88" fill="#3f4888"/>
<rect x="126.1" y="615.95" width="50.2" height="6.88" fill="#404587"/>
<rect x="175.3" y="615.95" width="50.2" height="6.88" fill="#21968a"/>
<rect x="224.5" y="615.95" width="49.2" height="6.88" fill="#9cd83c"/>
<rect x="76.9" y="621.83" width="50.2" height="6.88" fill="#33638d"/>
<rect x="126.1" y="621.83" width="50.2" height="6.88" fill="#2c748e"/>
<rect x="175.3" y="621.83" width="50.2" height="6.88" fill="#f0e525"/>
<rect x="224.5" y="621.83" width="49.2" height="6.88" fill="#414286"/>
<rect x="76.9" y="627.7" width="50.2" height="6.88" fill="#482273"/>
<rect x="126.1" y="627.7" width="50.2" height="6.88" fill="#a9db33"/>
<rect x="175.3" y="627.7" width="50.2" height="6.88" fill="#238c8c"/>
<rect x="224.5" y="627.7" width="49.2" height="6.88" fill="#24888d"/>
<rect x="76.9" y="633.58" width="50.2" height="6.88" fill="#44367f"/>
<rect x="126.1" y="633.58" width="50.2" height="6.88" fill="#31688d"/>
<rect x="175.3" y="633.58" width="50.2" height="6.88" fill="#fde725"/>
<rect x="224.5" y="633.58" width="49.2" height="6.88" fill="#27818d"/>
<rect x="76.9" y="639.45" width="50.2" height="6.88" fill="#414286"/>
<rect x="126.1" y="639.45" width="50.2" height="6.88" fill="#433981"/>
<rect x="175.3" y="639.45" width="50.2" height="6.88" fill="#5fc860"/>
<rect x="224.5" y="639.45" width="49.2" height="6.88" fill="#5fc860"/>
<rect x="76.9" y="645.33" width="50.2" height="6.88" fill="#3d4d89"/>
<rect x="126.1" y="645.33" width="50.2" height="6.88" fill="#472978"/>
<rect x="175.3" y="645.33" width="50.2" height="6.88" fill="#64ca5d"/>
<rect x="224.5" y="645.33" width="49.2" height="6.88" fill="#64ca5d"/>
<rect x="76.9" y="651.2" width="50.2" height="6.88" fill="#471f70"/>
<rect x="126.1" y="651.2" width="50.2" height="6.88" fill="#27818d"/>
<rect x="175.3" y="651.2" width="50.2" height="6.88" fill="#a2d937"/>
<rect x="224.5" y="651.2" width="49.2" height="6.88" fill="#26838d"/>
<rect x="76.9" y="657.08" width="50.2" height="6.88" fill="#3c508a"/>
<rect x="126.1" y="657.08" width="50.2" height="6.88" fill="#462f7b"/>
<rect x="175.3" y="657.08" width="50.2" height="6.88" fill="#8ed544"/>
<rect x="224.5" y="657.08" width="49.2" height="6.88" fill="#4fc36a"/>
<rect x="76.9" y="662.95" width="50.2" height="6.88" fill="#25878d"/>
<rect x="126.1" y="662.95" width="50.2" height="6.88" fill="#238b8c"/>
<rect x="175.3" y="662.95" width="50.2" height="6.88" fill="#87d448"/>
<rect x="224.5" y="662.95" width="49.2" height="6.88" fill="#471f70"/>
<rect x="76.9" y="668.83" width="50.2" height="6.88" fill="#462c7a"/>
<rect x="126.1" y="668.83" width="50.2" height="6.88" fill="#d0e126"/>
<rect x="175.3" y="668.83" width="50.2" height="6.88" fill="#238c8c"/>
<rect x="224.5" y="668.83" width="49.2" height="6.88" fill="#3d4d89"/>
<rect x="76.9" y="674.7" width="50.2" height="6.88" fill="#2c748e"/>
<rect x="126.1" y="674.7" width="50.2" height="6.88" fill="#3a538a"/>
<rect x="175.3" y="674.7" width="50.2" height="6.88" fill="#fde725"/>
<rect x="224.5" y="674.7" width="49.2" height="6.88" fill="#433981"/>
<rect x="76.9" y="680.58" width="50.2" height="6.88" fill="#22a186"/>
<rect x="126.1" y="680.58" width="50.2" height="6.88" fill="#a9db33"/>
<rect x="175.3" y="680.58" width="50.2" height="6.88" fill="#44367f"/>
<rect x="224.5" y="680.58" width="49.2" height="6.88" fill="#3f4888"/>
<rect x="76.9" y="686.45" width="50.2" height="6.88" fill="#462f7b"/>
<rect x="126.1" y="686.45" width="50.2" height="6.88" fill="#414286"/>
<rect x="175.3" y="686.45" width="50.2" height="6.88" fill="#bddf26"/>
<rect x="224.5" y="686.45" width="49.2" height="6.88" fill="#229c88"/>
<rect x="76.9" y="692.33" width="50.2" height="5.88" fill="#3d4d89"/>
<rect x="126.1" y="692.33" width="50.2" height="5.88" fill="#2c748e"/>
<rect x="175.3" y="692.33" width="50.2" height="5.88" fill="#f0e525"/>
<rect x="224.5" y="692.33" width="49.2" height="5.88" fill="#3d4d89"/>
<text x="73.9" y="444.35" font-size="5.45" text-anchor="end" fill="#333" font-weight="normal" stroke="#333" stroke-width="0.05">Gm4951</text>
<text x="73.9" y="450.27" font-size="5.45" text-anchor="end" fill="#333" font-weight="normal" stroke="#333" stroke-width="0.05">Irgm2</text>
<text x="73.9" y="456.19" font-size="5.45" text-anchor="end" fill="#333" font-weight="normal" stroke="#333" stroke-width="0.05">Stat1</text>
<text x="73.9" y="462.11" font-size="5.45" text-anchor="end" fill="#333" font-weight="normal" stroke="#333" stroke-width="0.05">Iigp1</text>
<text x="73.9" y="468.03" font-size="5.45" text-anchor="end" fill="#333" font-weight="normal" stroke="#333" stroke-width="0.05">Igtp</text>
<text x="73.9" y="473.95" font-size="5.45" text-anchor="end" fill="#333" font-weight="normal" stroke="#333" stroke-width="0.05">Irgm1</text>
<text x="73.9" y="479.87" font-size="5.45" text-anchor="end" fill="#333" font-weight="normal" stroke="#333" stroke-width="0.05">F830016B08Rik</text>
<text x="73.9" y="485.79" font-size="5.45" text-anchor="end" fill="#333" font-weight="normal" stroke="#333" stroke-width="0.05">Oasl2</text>
<text x="73.9" y="491.71" font-size="5.45" text-anchor="end" fill="#333" font-weight="normal" stroke="#333" stroke-width="0.05">Gm50237</text>
<text x="73.9" y="497.63" font-size="5.45" text-anchor="end" fill="#333" font-weight="normal" stroke="#333" stroke-width="0.05">Cd274</text>
<text x="73.9" y="503.55" font-size="5.45" text-anchor="end" fill="#333" font-weight="normal" stroke="#333" stroke-width="0.05">Gm12216</text>
<text x="73.9" y="509.47" font-size="5.45" text-anchor="end" fill="#333" font-weight="normal" stroke="#333" stroke-width="0.05">Gbp7</text>
<text x="73.9" y="515.39" font-size="5.45" text-anchor="end" fill="#333" font-weight="normal" stroke="#333" stroke-width="0.05">Stat2</text>
<text x="73.9" y="521.31" font-size="5.45" text-anchor="end" fill="#333" font-weight="normal" stroke="#333" stroke-width="0.05">Parp14</text>
<text x="73.9" y="527.23" font-size="5.45" text-anchor="end" fill="#333" font-weight="normal" stroke="#333" stroke-width="0.05">Tgtp2</text>
<text x="73.9" y="533.15" font-size="5.45" text-anchor="end" fill="#333" font-weight="normal" stroke="#333" stroke-width="0.05">Nlrc5</text>
<text x="73.9" y="539.07" font-size="5.45" text-anchor="end" fill="#333" font-weight="normal" stroke="#333" stroke-width="0.05">Gm4841</text>
<text x="73.9" y="544.99" font-size="5.45" text-anchor="end" fill="#333" font-weight="normal" stroke="#333" stroke-width="0.05">Gbp4</text>
<text x="73.9" y="550.91" font-size="5.45" text-anchor="end" fill="#333" font-weight="normal" stroke="#333" stroke-width="0.05">Tmem140</text>
<text x="73.9" y="556.83" font-size="5.45" text-anchor="end" fill="#333" font-weight="normal" stroke="#333" stroke-width="0.05">H2-Q4</text>
<text x="73.9" y="562.75" font-size="5.45" text-anchor="end" fill="#333" font-weight="normal" stroke="#333" stroke-width="0.05">C4b</text>
<text x="73.9" y="568.67" font-size="5.45" text-anchor="end" fill="#333" font-weight="normal" stroke="#333" stroke-width="0.05">Tap1</text>
<text x="73.9" y="574.59" font-size="5.45" text-anchor="end" fill="#333" font-weight="normal" stroke="#333" stroke-width="0.05">H2-T23</text>
<text x="73.9" y="580.51" font-size="5.45" text-anchor="end" fill="#333" font-weight="normal" stroke="#333" stroke-width="0.05">Tap2</text>
<text x="73.9" y="586.43" font-size="5.45" text-anchor="end" fill="#333" font-weight="normal" stroke="#333" stroke-width="0.05">Gbp6</text>
<text x="73.9" y="592.35" font-size="5.45" text-anchor="end" fill="#333" font-weight="normal" stroke="#333" stroke-width="0.05">Ddx60</text>
<text x="73.9" y="598.27" font-size="5.45" text-anchor="end" fill="#333" font-weight="normal" stroke="#333" stroke-width="0.05">Herc6</text>
<text x="73.9" y="604.19" font-size="5.45" text-anchor="end" fill="#333" font-weight="normal" stroke="#333" stroke-width="0.05">Xaf1</text>
<text x="73.9" y="610.11" font-size="5.45" text-anchor="end" fill="#333" font-weight="normal" stroke="#333" stroke-width="0.05">H2-K1</text>
<text x="73.9" y="616.03" font-size="5.45" text-anchor="end" fill="#333" font-weight="normal" stroke="#333" stroke-width="0.05">H2-D1</text>
<text x="73.9" y="621.95" font-size="5.45" text-anchor="end" fill="#333" font-weight="normal" stroke="#333" stroke-width="0.05">Psmb9</text>
<text x="73.9" y="627.87" font-size="5.45" text-anchor="end" fill="#333" font-weight="normal" stroke="#333" stroke-width="0.05">Irf1</text>
<text x="73.9" y="633.79" font-size="5.45" text-anchor="end" fill="#333" font-weight="normal" stroke="#333" stroke-width="0.05">Nckap5</text>
<text x="73.9" y="639.71" font-size="5.45" text-anchor="end" fill="#333" font-weight="normal" stroke="#333" stroke-width="0.05">Stat3</text>
<text x="73.9" y="645.63" font-size="5.45" text-anchor="end" fill="#333" font-weight="normal" stroke="#333" stroke-width="0.05">Il35</text>
<text x="73.9" y="651.55" font-size="5.45" text-anchor="end" fill="#333" font-weight="normal" stroke="#333" stroke-width="0.05">B2m</text>
<text x="73.9" y="657.47" font-size="5.45" text-anchor="end" fill="#333" font-weight="normal" stroke="#333" stroke-width="0.05">Snx10</text>
<text x="73.9" y="663.39" font-size="5.45" text-anchor="end" fill="#333" font-weight="normal" stroke="#333" stroke-width="0.05">Parp12</text>
<text x="73.9" y="669.31" font-size="5.45" text-anchor="end" fill="#333" font-weight="normal" stroke="#333" stroke-width="0.05">Grik2</text>
<text x="73.9" y="675.23" font-size="5.45" text-anchor="end" fill="#333" font-weight="normal" stroke="#333" stroke-width="0.05">Zfpm2</text>
<text x="73.9" y="681.15" font-size="5.45" text-anchor="end" fill="#333" font-weight="normal" stroke="#333" stroke-width="0.05">4930599N23Rik</text>
<text x="73.9" y="687.07" font-size="5.45" text-anchor="end" fill="#333" font-weight="normal" stroke="#333" stroke-width="0.05">Robo1</text>
<text x="73.9" y="692.99" font-size="5.45" text-anchor="end" fill="#333" font-weight="normal" stroke="#333" stroke-width="0.05">Tvp23a</text>
<text x="73.9" y="698.91" font-size="5.45" text-anchor="end" fill="#333" font-weight="normal" stroke="#333" stroke-width="0.05">A930037H05Rik</text>
<rect x="76.9" y="430" width="49.4" height="6.3" fill="#66c2a5"/>
<text x="104.1" y="424.5" font-size="5.6" text-anchor="middle" fill="#333" font-weight="normal" stroke="#333" stroke-width="0.18" transform="rotate(-90 104.1 424.5)">0</text>
<rect x="126.1" y="430" width="49.4" height="6.3" fill="#fc8d62"/>
<text x="153.3" y="424.5" font-size="5.6" text-anchor="middle" fill="#333" font-weight="normal" stroke="#333" stroke-width="0.18" transform="rotate(-90 153.3 424.5)">1</text>
<rect x="175.3" y="430" width="49.4" height="6.3" fill="#8da0cb"/>
<text x="202.5" y="424.5" font-size="5.6" text-anchor="middle" fill="#333" font-weight="normal" stroke="#333" stroke-width="0.18" transform="rotate(-90 202.5 424.5)">2</text>
<rect x="224.5" y="430" width="49.4" height="6.3" fill="#e78ac3"/>
<text x="251.7" y="424.5" font-size="5.6" text-anchor="middle" fill="#333" font-weight="normal" stroke="#333" stroke-width="0.18" transform="rotate(-90 251.7 424.5)">3</text>
<text x="278.2" y="450.6" font-size="6.6" text-anchor="start" fill="#333" font-weight="normal" stroke="#333" stroke-width="0.18" textLength="25.6" lengthAdjust="spacingAndGlyphs">Expression</text>
<rect x="281" y="453" width="6.1" height="33" fill="url(#vir)"/>
<text x="288.3" y="460.4" font-size="6" text-anchor="start" fill="#333" font-weight="normal" stroke="#333" stroke-width="0.18">1.0</text>
<text x="288.3" y="466.4" font-size="6" text-anchor="start" fill="#333" font-weight="normal" stroke="#333" stroke-width="0.18">0.5</text>
<text x="288.3" y="472.4" font-size="6" text-anchor="start" fill="#333" font-weight="normal" stroke="#333" stroke-width="0.18">0.0</text>
<text x="288.3" y="478.4" font-size="6" text-anchor="start" fill="#333" font-weight="normal" stroke="#333" stroke-width="0.18">−0.5</text>
<text x="288.3" y="484.4" font-size="6" text-anchor="start" fill="#333" font-weight="normal" stroke="#333" stroke-width="0.18">−1.0</text>
<text x="382.6" y="430.3" font-size="8.3" fill="#333" textLength="103.3" lengthAdjust="spacingAndGlyphs">WT GVHD population <tspan fill="#8da0cb">2</tspan> vs. <tspan fill="#66c2a5">0</tspan></text>
<line x1="374.2" y1="435.6" x2="374.2" y2="536.3" stroke="#1a1a1a" stroke-width="1"/>
<line x1="373.7" y1="535.8" x2="493.3" y2="535.8" stroke="#1a1a1a" stroke-width="1"/>
<line x1="371.2" y1="531.7" x2="374.2" y2="531.7" stroke="#1a1a1a" stroke-width="0.8"/>
<text x="368.2" y="534" font-size="6.6" text-anchor="end" fill="#333" font-weight="normal" stroke="#333" stroke-width="0.18">0</text>
<line x1="371.2" y1="512.8" x2="374.2" y2="512.8" stroke="#1a1a1a" stroke-width="0.8"/>
<text x="368.2" y="515.1" font-size="6.6" text-anchor="end" fill="#333" font-weight="normal" stroke="#333" stroke-width="0.18" textLength="6.6" lengthAdjust="spacingAndGlyphs">50</text>
<line x1="371.2" y1="493.9" x2="374.2" y2="493.9" stroke="#1a1a1a" stroke-width="0.8"/>
<text x="368.2" y="496.2" font-size="6.6" text-anchor="end" fill="#333" font-weight="normal" stroke="#333" stroke-width="0.18" textLength="10" lengthAdjust="spacingAndGlyphs">100</text>
<line x1="371.2" y1="475" x2="374.2" y2="475" stroke="#1a1a1a" stroke-width="0.8"/>
<text x="368.2" y="477.3" font-size="6.6" text-anchor="end" fill="#333" font-weight="normal" stroke="#333" stroke-width="0.18" textLength="10" lengthAdjust="spacingAndGlyphs">150</text>
<line x1="371.2" y1="456.1" x2="374.2" y2="456.1" stroke="#1a1a1a" stroke-width="0.8"/>
<text x="368.2" y="458.4" font-size="6.6" text-anchor="end" fill="#333" font-weight="normal" stroke="#333" stroke-width="0.18" textLength="10" lengthAdjust="spacingAndGlyphs">200</text>
<line x1="371.2" y1="437.2" x2="374.2" y2="437.2" stroke="#1a1a1a" stroke-width="0.8"/>
<text x="368.2" y="439.5" font-size="6.6" text-anchor="end" fill="#333" font-weight="normal" stroke="#333" stroke-width="0.18" textLength="10" lengthAdjust="spacingAndGlyphs">250</text>
<line x1="382.4" y1="535.8" x2="382.4" y2="538.3" stroke="#1a1a1a" stroke-width="0.8"/>
<text x="381.1" y="547.4" font-size="6.8" text-anchor="middle" fill="#333" font-weight="normal" stroke="#333" stroke-width="0.18">−1</text>
<line x1="411.8" y1="535.8" x2="411.8" y2="538.3" stroke="#1a1a1a" stroke-width="0.8"/>
<text x="411.8" y="547.4" font-size="6.8" text-anchor="middle" fill="#333" font-weight="normal" stroke="#333" stroke-width="0.18">0</text>
<line x1="441.2" y1="535.8" x2="441.2" y2="538.3" stroke="#1a1a1a" stroke-width="0.8"/>
<text x="441.2" y="547.4" font-size="6.8" text-anchor="middle" fill="#333" font-weight="normal" stroke="#333" stroke-width="0.18">1</text>
<line x1="470.6" y1="535.8" x2="470.6" y2="538.3" stroke="#1a1a1a" stroke-width="0.8"/>
<text x="470.6" y="547.4" font-size="6.8" text-anchor="middle" fill="#333" font-weight="normal" stroke="#333" stroke-width="0.18">2</text>
<text x="354.3" y="485.2" font-size="7.6" fill="#333" text-anchor="middle" transform="rotate(-90 354.3 485.2)" textLength="56" lengthAdjust="spacingAndGlyphs">-log10(<tspan font-style="italic">P</tspan>_val_adj)</text>
<text x="433.7" y="559.5" font-size="7.9" text-anchor="middle" fill="#333" font-weight="normal" stroke="#333" stroke-width="0.18" textLength="36.5" lengthAdjust="spacingAndGlyphs">Avg_log2FC</text>
<circle cx="396.2" cy="531.5" r="0.9" fill="#7d8da3"/>
<circle cx="399.8" cy="531.6" r="0.9" fill="#7d8da3"/>
<circle cx="398.5" cy="531.3" r="0.9" fill="#7d8da3"/>
<circle cx="393.3" cy="531.1" r="0.9" fill="#7d8da3"/>
<circle cx="393.1" cy="531.2" r="0.9" fill="#7d8da3"/>
<circle cx="393.4" cy="531.6" r="0.9" fill="#7d8da3"/>
<circle cx="397.3" cy="530.8" r="0.9" fill="#7d8da3"/>
<circle cx="394.0" cy="531.4" r="0.9" fill="#7d8da3"/>
<circle cx="399.5" cy="530.6" r="0.9" fill="#7d8da3"/>
<circle cx="399.0" cy="531.3" r="0.9" fill="#7d8da3"/>
<circle cx="403.3" cy="531.6" r="0.9" fill="#7d8da3"/>
<circle cx="402.0" cy="531.4" r="0.9" fill="#7d8da3"/>
<circle cx="394.3" cy="531.6" r="0.9" fill="#7d8da3"/>
<circle cx="396.0" cy="530.8" r="0.9" fill="#7d8da3"/>
<circle cx="394.7" cy="531.0" r="0.9" fill="#7d8da3"/>
<circle cx="399.6" cy="531.3" r="0.9" fill="#7d8da3"/>
<circle cx="424.7" cy="531.6" r="0.9" fill="#7d8da3"/>
<circle cx="420.7" cy="530.9" r="0.9" fill="#7d8da3"/>
<circle cx="423.3" cy="531.3" r="0.9" fill="#7d8da3"/>
<circle cx="425.2" cy="531.1" r="0.9" fill="#7d8da3"/>
<circle cx="427.6" cy="530.8" r="0.9" fill="#7d8da3"/>
<circle cx="425.0" cy="530.8" r="0.9" fill="#7d8da3"/>
<circle cx="426.8" cy="530.9" r="0.9" fill="#7d8da3"/>
<circle cx="419.7" cy="531.2" r="0.9" fill="#7d8da3"/>
<circle cx="427.2" cy="531.3" r="0.9" fill="#7d8da3"/>
<circle cx="418.7" cy="530.9" r="0.9" fill="#7d8da3"/>
<circle cx="427.3" cy="530.6" r="0.9" fill="#7d8da3"/>
<circle cx="422.0" cy="530.9" r="0.9" fill="#7d8da3"/>
<circle cx="425.3" cy="530.9" r="0.9" fill="#7d8da3"/>
<circle cx="428.1" cy="530.4" r="0.9" fill="#7d8da3"/>
<circle cx="426.1" cy="531.3" r="0.9" fill="#7d8da3"/>
<circle cx="425.9" cy="530.2" r="0.9" fill="#7d8da3"/>
<circle cx="421.6" cy="531.3" r="0.9" fill="#7d8da3"/>
<circle cx="426.1" cy="531.5" r="0.9" fill="#7d8da3"/>
<circle cx="420.2" cy="531.6" r="0.9" fill="#7d8da3"/>
<circle cx="419.0" cy="530.8" r="0.9" fill="#7d8da3"/>
<circle cx="419.8" cy="531.4" r="0.9" fill="#7d8da3"/>
<circle cx="422.9" cy="530.7" r="0.9" fill="#7d8da3"/>
<circle cx="419.2" cy="531.2" r="0.9" fill="#7d8da3"/>
<circle cx="424.7" cy="530.4" r="0.9" fill="#7d8da3"/>
<circle cx="379.2" cy="527.7" r="1.0" fill="#1f3553"/>
<circle cx="488.0" cy="440.0" r="1.15" fill="#b3163a"/>
<circle cx="476.5" cy="462.7" r="1.15" fill="#b3163a"/>
<circle cx="484.6" cy="474.2" r="1.15" fill="#b3163a"/>
<circle cx="484.0" cy="480.4" r="1.15" fill="#b3163a"/>
<circle cx="458.7" cy="484.6" r="1.15" fill="#b3163a"/>
<circle cx="453.5" cy="487.7" r="1.15" fill="#b3163a"/>
<circle cx="444.0" cy="499.2" r="1.15" fill="#b3163a"/>
<circle cx="445.5" cy="499.6" r="1.15" fill="#b3163a"/>
<circle cx="448.0" cy="499.8" r="1.15" fill="#b3163a"/>
<circle cx="450.0" cy="499.4" r="1.15" fill="#b3163a"/>
<circle cx="450.8" cy="504.1" r="1.15" fill="#b3163a"/>
<circle cx="453.7" cy="506.4" r="1.15" fill="#b3163a"/>
<circle cx="454.1" cy="508.2" r="1.15" fill="#b3163a"/>
<circle cx="437.3" cy="507.5" r="1.15" fill="#b3163a"/>
<circle cx="440.7" cy="507.5" r="1.15" fill="#b3163a"/>
<circle cx="440.0" cy="513.6" r="1.15" fill="#b3163a"/>
<circle cx="441.5" cy="512.2" r="1.15" fill="#b3163a"/>
<circle cx="443.0" cy="513.8" r="1.15" fill="#b3163a"/>
<circle cx="436.2" cy="514.6" r="1.15" fill="#b3163a"/>
<circle cx="445.4" cy="514.9" r="1.15" fill="#b3163a"/>
<circle cx="448.3" cy="514.9" r="1.15" fill="#b3163a"/>
<circle cx="453.2" cy="512.9" r="1.15" fill="#b3163a"/>
<circle cx="429.9" cy="520.3" r="1.15" fill="#b3163a"/>
<circle cx="429.9" cy="522.3" r="1.15" fill="#b3163a"/>
<circle cx="433.3" cy="521.6" r="1.15" fill="#b3163a"/>
<circle cx="434.0" cy="525.0" r="1.15" fill="#b3163a"/>
<circle cx="434.6" cy="524.3" r="1.15" fill="#b3163a"/>
<circle cx="437.3" cy="525.0" r="1.15" fill="#b3163a"/>
<circle cx="442.4" cy="519.6" r="1.15" fill="#b3163a"/>
<circle cx="446.0" cy="519.6" r="1.15" fill="#b3163a"/>
<circle cx="443.4" cy="523.6" r="1.15" fill="#b3163a"/>
<circle cx="445.1" cy="523.9" r="1.15" fill="#b3163a"/>
<circle cx="431.0" cy="525.7" r="1.15" fill="#b3163a"/>
<circle cx="432.0" cy="527.0" r="1.15" fill="#b3163a"/>
<circle cx="430.6" cy="528.4" r="1.15" fill="#b3163a"/>
<circle cx="429.2" cy="529.7" r="1.15" fill="#b3163a"/>
<circle cx="435.5" cy="523.0" r="1.15" fill="#b3163a"/>
<circle cx="432.5" cy="526.0" r="1.15" fill="#b3163a"/>
<circle cx="431.5" cy="527.8" r="1.15" fill="#b3163a"/>
<circle cx="428.5" cy="530.5" r="1.15" fill="#b3163a"/>
<circle cx="433.8" cy="524.6" r="1.15" fill="#b3163a"/>
<circle cx="438.5" cy="517.5" r="1.15" fill="#b3163a"/>
<circle cx="437.7" cy="508.1" r="1.15" fill="#b3163a"/>
<circle cx="439.8" cy="507.5" r="1.15" fill="#b3163a"/>
<circle cx="450.4" cy="505.2" r="1.15" fill="#b3163a"/>
<circle cx="452.7" cy="507.5" r="1.15" fill="#b3163a"/>
<circle cx="453.8" cy="509.5" r="1.15" fill="#b3163a"/>
<circle cx="453.3" cy="512.7" r="1.15" fill="#b3163a"/>
<circle cx="436.0" cy="514.4" r="1.15" fill="#b3163a"/>
<circle cx="438.3" cy="512.1" r="1.15" fill="#b3163a"/>
<circle cx="441.7" cy="513.8" r="1.15" fill="#b3163a"/>
<circle cx="445.8" cy="512.7" r="1.15" fill="#b3163a"/>
<circle cx="448.1" cy="515.0" r="1.15" fill="#b3163a"/>
<circle cx="430.2" cy="520.2" r="1.15" fill="#b3163a"/>
<circle cx="433.6" cy="521.3" r="1.15" fill="#b3163a"/>
<circle cx="442.3" cy="520.2" r="1.15" fill="#b3163a"/>
<circle cx="444.6" cy="520.8" r="1.15" fill="#b3163a"/>
<circle cx="446.9" cy="519.6" r="1.15" fill="#b3163a"/>
<circle cx="429.5" cy="514.9" r="0.7" fill="#7d8da3"/>
<text x="465" y="441.9" font-size="6" text-anchor="start" fill="#c01f3c" font-weight="normal" stroke="#c01f3c" stroke-width="0.18" textLength="20.6" lengthAdjust="spacingAndGlyphs">Gm4951</text>
<text x="464" y="460.2" font-size="6" text-anchor="start" fill="#c01f3c" font-weight="normal" stroke="#c01f3c" stroke-width="0.18" textLength="13.9" lengthAdjust="spacingAndGlyphs">Irgm2</text>
<text x="479.8" y="471.7" font-size="6" text-anchor="start" fill="#c01f3c" font-weight="normal" stroke="#c01f3c" stroke-width="0.18" textLength="12.2" lengthAdjust="spacingAndGlyphs">Stat1</text>
<text x="473" y="486.5" font-size="6" text-anchor="start" fill="#c01f3c" font-weight="normal" stroke="#c01f3c" stroke-width="0.18" textLength="11.6" lengthAdjust="spacingAndGlyphs">Iigp1</text>
<text x="459.6" y="482.7" font-size="6" text-anchor="start" fill="#c01f3c" font-weight="normal" stroke="#c01f3c" stroke-width="0.18" textLength="9.2" lengthAdjust="spacingAndGlyphs">Igtp</text>
<text x="437.5" y="485.7" font-size="6" text-anchor="start" fill="#c01f3c" font-weight="normal" stroke="#c01f3c" stroke-width="0.18" textLength="13.5" lengthAdjust="spacingAndGlyphs">Irgm1</text>
<text x="431.7" y="492.9" font-size="6" text-anchor="start" fill="#c01f3c" font-weight="normal" stroke="#c01f3c" stroke-width="0.18" textLength="13.5" lengthAdjust="spacingAndGlyphs">Oasl2</text>
<text x="405.8" y="494.8" font-size="6" text-anchor="start" fill="#c01f3c" font-weight="normal" stroke="#c01f3c" stroke-width="0.18" textLength="24" lengthAdjust="spacingAndGlyphs">Gm50237</text>
<text x="454.8" y="494.2" font-size="6" text-anchor="start" fill="#c01f3c" font-weight="normal" stroke="#c01f3c" stroke-width="0.18" textLength="35.6" lengthAdjust="spacingAndGlyphs">F830016B08Rik</text>
<text x="418.3" y="501.7" font-size="6" text-anchor="start" fill="#c01f3c" font-weight="normal" stroke="#c01f3c" stroke-width="0.18" textLength="23" lengthAdjust="spacingAndGlyphs">Gm12216</text>
<text x="456.9" y="506.1" font-size="6" text-anchor="start" fill="#c01f3c" font-weight="normal" stroke="#c01f3c" stroke-width="0.18" textLength="11.9" lengthAdjust="spacingAndGlyphs">Stat2</text>
<text x="421.5" y="510.4" font-size="6" text-anchor="start" fill="#c01f3c" font-weight="normal" stroke="#c01f3c" stroke-width="0.18" textLength="13.3" lengthAdjust="spacingAndGlyphs">Tgtp2</text>
<text x="440.6" y="510.3" font-size="6" text-anchor="start" fill="#c01f3c" font-weight="normal" stroke="#c01f3c" stroke-width="0.18" textLength="12.1" lengthAdjust="spacingAndGlyphs">Gbp7</text>
<text x="455.8" y="514.8" font-size="6" text-anchor="start" fill="#c01f3c" font-weight="normal" stroke="#c01f3c" stroke-width="0.18" textLength="12.4" lengthAdjust="spacingAndGlyphs">Nlrc5</text>
<text x="447.3" y="499.3" font-size="6.2" fill="#c01f3c" stroke="#c01f3c" stroke-width="0.12" transform="rotate(-14 447.3 499.3)" textLength="13.5" lengthAdjust="spacingAndGlyphs">Cd274</text>
<text x="413.5" y="520.4" font-size="6" text-anchor="start" fill="#a8b0bc" font-weight="normal" stroke="#a8b0bc" stroke-width="0.18" textLength="13.5" lengthAdjust="spacingAndGlyphs">Gbp3</text>
<line x1="429.8" y1="493" x2="444" y2="499.2" stroke="#333" stroke-width="0.4"/>
<circle cx="380.8" cy="571.3" r="2.0" fill="#c01f3c"/>
<text x="386.3" y="573.7" font-size="6.8" fill="#333" textLength="90" lengthAdjust="spacingAndGlyphs">UP: avg_log2FC &gt; 0.6 + <tspan font-style="italic">P</tspan> &lt; .05</text>
<circle cx="380.8" cy="579.5" r="2.0" fill="#1f3553"/>
<text x="386.3" y="581.9" font-size="6.8" fill="#333" textLength="101.7" lengthAdjust="spacingAndGlyphs">Down: avg_log2FC &lt; −0.6 + <tspan font-style="italic">P</tspan> &lt; .05</text>
<circle cx="380.8" cy="587.5" r="2.0" fill="#7d8797"/>
<text x="386.3" y="589.9" font-size="6.8" fill="#333">NS</text>
<rect x="0.5" y="0.5" width="519" height="706" fill="none" stroke="#555" stroke-width="1.2"/>
</svg>
</body></html>
